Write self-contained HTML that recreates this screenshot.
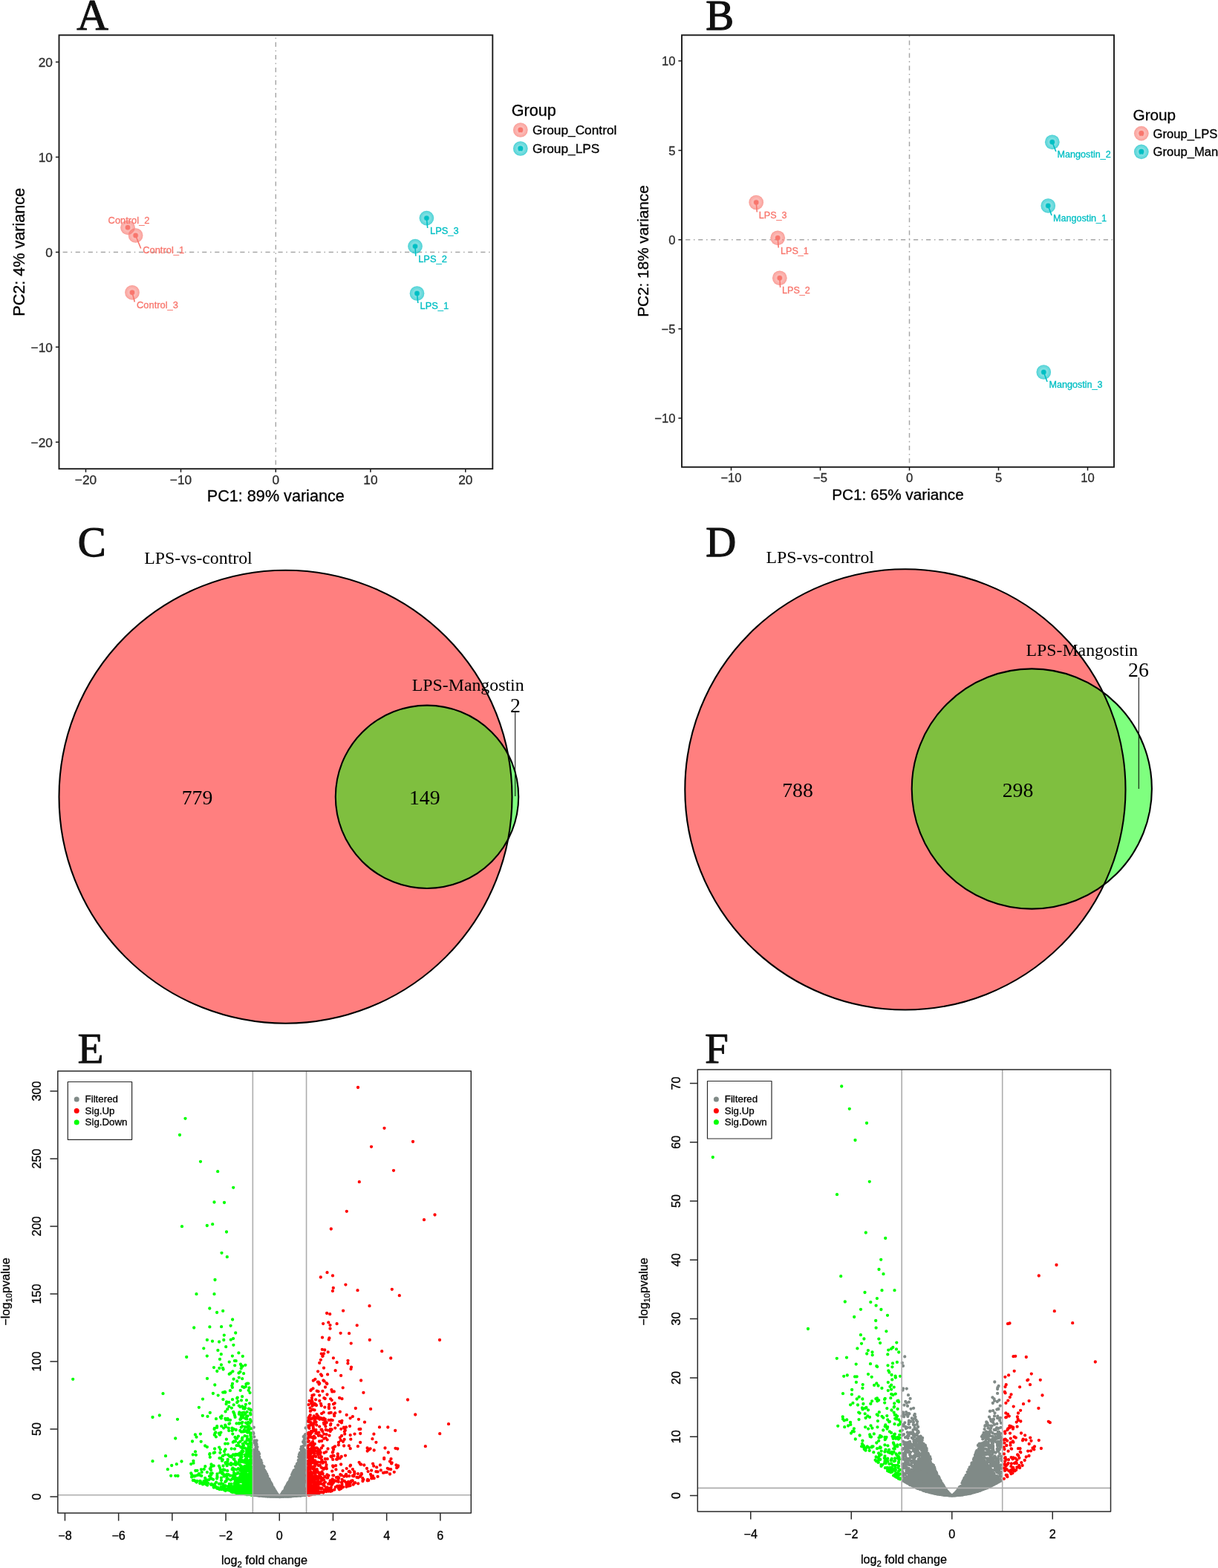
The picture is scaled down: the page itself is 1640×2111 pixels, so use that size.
<!DOCTYPE html>
<html lang="en">
<head>
<meta charset="utf-8">
<title>Figure: PCA, Venn diagrams and volcano plots</title>
<style>
html,body{margin:0;padding:0;background:#fff;}
body{width:1640px;height:2111px;overflow:hidden;}
svg{display:block;}
text{white-space:pre;}

</style>
</head>
<body>
<svg width="1640" height="2111" viewBox="0 0 1640 2111">
<rect width="1640" height="2111" fill="#fff"/>
<text x="103.35" y="39.6" font-family="'Liberation Serif', serif" font-size="59.15" fill="#111" stroke="#111" stroke-width="1.0" stroke-linejoin="round">A</text>
<g>
<path d="M371.3 631.9V47.3M78.4 339.4H663.3" stroke="#a6a6a6" stroke-width="1.45" stroke-dasharray="1.55 4.65 6.2 4.65" fill="none"/>
<circle cx="172" cy="306.3" r="9.85" fill="#F8766D" fill-opacity="0.58"/>
<circle cx="172" cy="306.3" r="9.1" fill="none" stroke="#F8766D" stroke-opacity="0.22" stroke-width="1.4"/>
<circle cx="172" cy="306.3" r="5.2" fill="none" stroke="#fff" stroke-opacity="0.16" stroke-width="1.8"/>
<circle cx="182.6" cy="317" r="9.85" fill="#F8766D" fill-opacity="0.58"/>
<circle cx="182.6" cy="317" r="9.1" fill="none" stroke="#F8766D" stroke-opacity="0.22" stroke-width="1.4"/>
<circle cx="182.6" cy="317" r="5.2" fill="none" stroke="#fff" stroke-opacity="0.16" stroke-width="1.8"/>
<circle cx="178" cy="393.8" r="9.85" fill="#F8766D" fill-opacity="0.58"/>
<circle cx="178" cy="393.8" r="9.1" fill="none" stroke="#F8766D" stroke-opacity="0.22" stroke-width="1.4"/>
<circle cx="178" cy="393.8" r="5.2" fill="none" stroke="#fff" stroke-opacity="0.16" stroke-width="1.8"/>
<circle cx="574.4" cy="293.6" r="9.85" fill="#00BFC4" fill-opacity="0.58"/>
<circle cx="574.4" cy="293.6" r="9.1" fill="none" stroke="#00BFC4" stroke-opacity="0.22" stroke-width="1.4"/>
<circle cx="574.4" cy="293.6" r="5.2" fill="none" stroke="#fff" stroke-opacity="0.16" stroke-width="1.8"/>
<circle cx="559" cy="331.6" r="9.85" fill="#00BFC4" fill-opacity="0.58"/>
<circle cx="559" cy="331.6" r="9.1" fill="none" stroke="#00BFC4" stroke-opacity="0.22" stroke-width="1.4"/>
<circle cx="559" cy="331.6" r="5.2" fill="none" stroke="#fff" stroke-opacity="0.16" stroke-width="1.8"/>
<circle cx="561.5" cy="395" r="9.85" fill="#00BFC4" fill-opacity="0.58"/>
<circle cx="561.5" cy="395" r="9.1" fill="none" stroke="#00BFC4" stroke-opacity="0.22" stroke-width="1.4"/>
<circle cx="561.5" cy="395" r="5.2" fill="none" stroke="#fff" stroke-opacity="0.16" stroke-width="1.8"/>
<circle cx="172" cy="306.3" r="3.2" fill="#F8766D"/>
<text x="145.6" y="301.2" font-family="'Liberation Sans', sans-serif" font-size="12.9" fill="#F8766D" stroke="#F8766D" stroke-width="0.3">Control_2</text>
<circle cx="182.6" cy="317" r="3.2" fill="#F8766D"/>
<path d="M182.6 317L189.7 334.5" stroke="#F8766D" stroke-width="1.6" fill="none"/>
<text x="192.2" y="341.2" font-family="'Liberation Sans', sans-serif" font-size="12.9" fill="#F8766D" stroke="#F8766D" stroke-width="0.3">Control_1</text>
<circle cx="178" cy="393.8" r="3.2" fill="#F8766D"/>
<path d="M178 393.8L181.3 406.5" stroke="#F8766D" stroke-width="1.6" fill="none"/>
<text x="184" y="415.3" font-family="'Liberation Sans', sans-serif" font-size="12.9" fill="#F8766D" stroke="#F8766D" stroke-width="0.3">Control_3</text>
<circle cx="574.4" cy="293.6" r="3.2" fill="#00BFC4"/>
<path d="M574.4 293.6L575.7 307" stroke="#00BFC4" stroke-width="1.6" fill="none"/>
<text x="579" y="314.8" font-family="'Liberation Sans', sans-serif" font-size="12.9" fill="#00BFC4" stroke="#00BFC4" stroke-width="0.3">LPS_3</text>
<circle cx="559" cy="331.6" r="3.2" fill="#00BFC4"/>
<path d="M559 331.6L559.8 344.8" stroke="#00BFC4" stroke-width="1.6" fill="none"/>
<text x="563.2" y="352.6" font-family="'Liberation Sans', sans-serif" font-size="12.9" fill="#00BFC4" stroke="#00BFC4" stroke-width="0.3">LPS_2</text>
<circle cx="561.5" cy="395" r="3.2" fill="#00BFC4"/>
<path d="M561.5 395L562.8 408" stroke="#00BFC4" stroke-width="1.6" fill="none"/>
<text x="565.5" y="416" font-family="'Liberation Sans', sans-serif" font-size="12.9" fill="#00BFC4" stroke="#00BFC4" stroke-width="0.3">LPS_1</text>
<rect x="79.5" y="47.3" width="583.8" height="583.9" fill="none" stroke="#1a1a1a" stroke-width="1.9"/>
<path d="M115.5 631.2v4.6M243.5 631.2v4.6M371.3 631.2v4.6M498.9 631.2v4.6M626.8 631.2v4.6M79.5 83.5h-4.6M79.5 211.4h-4.6M79.5 339.4h-4.6M79.5 467.3h-4.6M79.5 595.2h-4.6" stroke="#1a1a1a" stroke-width="1.5" fill="none"/>
<text x="115.5" y="651.5" text-anchor="middle" font-family="'Liberation Sans', sans-serif" font-size="17.3" fill="#2b2b2b" stroke="#2b2b2b" stroke-width="0.3">−20</text>
<text x="243.5" y="651.5" text-anchor="middle" font-family="'Liberation Sans', sans-serif" font-size="17.3" fill="#2b2b2b" stroke="#2b2b2b" stroke-width="0.3">−10</text>
<text x="371.3" y="651.5" text-anchor="middle" font-family="'Liberation Sans', sans-serif" font-size="17.3" fill="#2b2b2b" stroke="#2b2b2b" stroke-width="0.3">0</text>
<text x="498.9" y="651.5" text-anchor="middle" font-family="'Liberation Sans', sans-serif" font-size="17.3" fill="#2b2b2b" stroke="#2b2b2b" stroke-width="0.3">10</text>
<text x="626.8" y="651.5" text-anchor="middle" font-family="'Liberation Sans', sans-serif" font-size="17.3" fill="#2b2b2b" stroke="#2b2b2b" stroke-width="0.3">20</text>
<text x="70.9" y="89.9" text-anchor="end" font-family="'Liberation Sans', sans-serif" font-size="17.3" fill="#2b2b2b" stroke="#2b2b2b" stroke-width="0.3">20</text>
<text x="70.9" y="217.8" text-anchor="end" font-family="'Liberation Sans', sans-serif" font-size="17.3" fill="#2b2b2b" stroke="#2b2b2b" stroke-width="0.3">10</text>
<text x="70.9" y="345.8" text-anchor="end" font-family="'Liberation Sans', sans-serif" font-size="17.3" fill="#2b2b2b" stroke="#2b2b2b" stroke-width="0.3">0</text>
<text x="70.9" y="473.7" text-anchor="end" font-family="'Liberation Sans', sans-serif" font-size="17.3" fill="#2b2b2b" stroke="#2b2b2b" stroke-width="0.3">−10</text>
<text x="70.9" y="601.6" text-anchor="end" font-family="'Liberation Sans', sans-serif" font-size="17.3" fill="#2b2b2b" stroke="#2b2b2b" stroke-width="0.3">−20</text>
<text x="371.3" y="675.3" text-anchor="middle" font-family="'Liberation Sans', sans-serif" font-size="21.6" fill="#000" stroke="#000" stroke-width="0.3">PC1: 89% variance</text>
<text transform="translate(33 339.3) rotate(-90)" text-anchor="middle" font-family="'Liberation Sans', sans-serif" font-size="21.6" fill="#000" stroke="#000" stroke-width="0.3">PC2: 4% variance</text>
<text x="688.8" y="155.5" font-family="'Liberation Sans', sans-serif" font-size="21.6" fill="#000" stroke="#000" stroke-width="0.3">Group</text>
<circle cx="700.8" cy="175" r="9.85" fill="#F8766D" fill-opacity="0.58"/>
<circle cx="700.8" cy="175" r="9.1" fill="none" stroke="#F8766D" stroke-opacity="0.22" stroke-width="1.4"/>
<circle cx="700.8" cy="175" r="5.2" fill="none" stroke="#fff" stroke-opacity="0.16" stroke-width="1.8"/>
<circle cx="700.8" cy="174.7" r="3.3" fill="#F8766D"/>
<path d="M698.2 176L698.6 178.6L700.8 177.6L703.2 178.6L703.4 176Z" fill="#F8766D"/>
<text x="717" y="180.9" font-family="'Liberation Sans', sans-serif" font-size="17.3" fill="#000" stroke="#000" stroke-width="0.3">Group_Control</text>
<circle cx="700.8" cy="200" r="9.85" fill="#00BFC4" fill-opacity="0.58"/>
<circle cx="700.8" cy="200" r="9.1" fill="none" stroke="#00BFC4" stroke-opacity="0.22" stroke-width="1.4"/>
<circle cx="700.8" cy="200" r="5.2" fill="none" stroke="#fff" stroke-opacity="0.16" stroke-width="1.8"/>
<circle cx="700.8" cy="199.7" r="3.3" fill="#00BFC4"/>
<path d="M698.2 201L698.6 203.6L700.8 202.6L703.2 203.6L703.4 201Z" fill="#00BFC4"/>
<text x="717" y="205.9" font-family="'Liberation Sans', sans-serif" font-size="17.3" fill="#000" stroke="#000" stroke-width="0.3">Group_LPS</text>
</g>
<text x="950.27" y="39.8" font-family="'Liberation Serif', serif" font-size="56.77" fill="#111" stroke="#111" stroke-width="1.25" stroke-linejoin="round">B</text>
<g>
<path d="M1224.5 629.5V47.3M916.9 322.8H1500" stroke="#a6a6a6" stroke-width="1.45" stroke-dasharray="1.55 4.65 6.2 4.65" fill="none"/>
<circle cx="1018.2" cy="272.5" r="9.85" fill="#F8766D" fill-opacity="0.58"/>
<circle cx="1018.2" cy="272.5" r="9.1" fill="none" stroke="#F8766D" stroke-opacity="0.22" stroke-width="1.4"/>
<circle cx="1018.2" cy="272.5" r="5.2" fill="none" stroke="#fff" stroke-opacity="0.16" stroke-width="1.8"/>
<circle cx="1047.2" cy="320.3" r="9.85" fill="#F8766D" fill-opacity="0.58"/>
<circle cx="1047.2" cy="320.3" r="9.1" fill="none" stroke="#F8766D" stroke-opacity="0.22" stroke-width="1.4"/>
<circle cx="1047.2" cy="320.3" r="5.2" fill="none" stroke="#fff" stroke-opacity="0.16" stroke-width="1.8"/>
<circle cx="1049.8" cy="374.3" r="9.85" fill="#F8766D" fill-opacity="0.58"/>
<circle cx="1049.8" cy="374.3" r="9.1" fill="none" stroke="#F8766D" stroke-opacity="0.22" stroke-width="1.4"/>
<circle cx="1049.8" cy="374.3" r="5.2" fill="none" stroke="#fff" stroke-opacity="0.16" stroke-width="1.8"/>
<circle cx="1416.8" cy="191.3" r="9.85" fill="#00BFC4" fill-opacity="0.58"/>
<circle cx="1416.8" cy="191.3" r="9.1" fill="none" stroke="#00BFC4" stroke-opacity="0.22" stroke-width="1.4"/>
<circle cx="1416.8" cy="191.3" r="5.2" fill="none" stroke="#fff" stroke-opacity="0.16" stroke-width="1.8"/>
<circle cx="1411.3" cy="277" r="9.85" fill="#00BFC4" fill-opacity="0.58"/>
<circle cx="1411.3" cy="277" r="9.1" fill="none" stroke="#00BFC4" stroke-opacity="0.22" stroke-width="1.4"/>
<circle cx="1411.3" cy="277" r="5.2" fill="none" stroke="#fff" stroke-opacity="0.16" stroke-width="1.8"/>
<circle cx="1405.3" cy="501" r="9.85" fill="#00BFC4" fill-opacity="0.58"/>
<circle cx="1405.3" cy="501" r="9.1" fill="none" stroke="#00BFC4" stroke-opacity="0.22" stroke-width="1.4"/>
<circle cx="1405.3" cy="501" r="5.2" fill="none" stroke="#fff" stroke-opacity="0.16" stroke-width="1.8"/>
<circle cx="1018.2" cy="272.5" r="3.2" fill="#F8766D"/>
<path d="M1018.2 272.5L1019.3 285.5" stroke="#F8766D" stroke-width="1.6" fill="none"/>
<text x="1021.8" y="293.5" font-family="'Liberation Sans', sans-serif" font-size="12.6" fill="#F8766D" stroke="#F8766D" stroke-width="0.3">LPS_3</text>
<circle cx="1047.2" cy="320.3" r="3.2" fill="#F8766D"/>
<path d="M1047.2 320.3L1048.2 333.5" stroke="#F8766D" stroke-width="1.6" fill="none"/>
<text x="1051" y="341.5" font-family="'Liberation Sans', sans-serif" font-size="12.6" fill="#F8766D" stroke="#F8766D" stroke-width="0.3">LPS_1</text>
<circle cx="1049.8" cy="374.3" r="3.2" fill="#F8766D"/>
<path d="M1049.8 374.3L1050.6 387" stroke="#F8766D" stroke-width="1.6" fill="none"/>
<text x="1053" y="395" font-family="'Liberation Sans', sans-serif" font-size="12.6" fill="#F8766D" stroke="#F8766D" stroke-width="0.3">LPS_2</text>
<circle cx="1416.8" cy="191.3" r="3.2" fill="#00BFC4"/>
<path d="M1416.8 191.3L1421.8 204" stroke="#00BFC4" stroke-width="1.6" fill="none"/>
<text x="1423.6" y="212" font-family="'Liberation Sans', sans-serif" font-size="12.6" fill="#00BFC4" stroke="#00BFC4" stroke-width="0.3">Mangostin_2</text>
<circle cx="1411.3" cy="277" r="3.2" fill="#00BFC4"/>
<path d="M1411.3 277L1416 290" stroke="#00BFC4" stroke-width="1.6" fill="none"/>
<text x="1418" y="297.5" font-family="'Liberation Sans', sans-serif" font-size="12.6" fill="#00BFC4" stroke="#00BFC4" stroke-width="0.3">Mangostin_1</text>
<circle cx="1405.3" cy="501" r="3.2" fill="#00BFC4"/>
<path d="M1405.3 501L1410 514" stroke="#00BFC4" stroke-width="1.6" fill="none"/>
<text x="1412.5" y="522" font-family="'Liberation Sans', sans-serif" font-size="12.6" fill="#00BFC4" stroke="#00BFC4" stroke-width="0.3">Mangostin_3</text>
<rect x="918" y="47.3" width="582" height="581.5" fill="none" stroke="#1a1a1a" stroke-width="1.9"/>
<path d="M984.5 628.8v4.6M1104.5 628.8v4.6M1224.5 628.8v4.6M1344.5 628.8v4.6M1464.5 628.8v4.6M918 82h-4.6M918 202.5h-4.6M918 322.8h-4.6M918 442.8h-4.6M918 563h-4.6" stroke="#1a1a1a" stroke-width="1.5" fill="none"/>
<text x="984.5" y="649.1" text-anchor="middle" font-family="'Liberation Sans', sans-serif" font-size="16.61" fill="#2b2b2b" stroke="#2b2b2b" stroke-width="0.3">−10</text>
<text x="1104.5" y="649.1" text-anchor="middle" font-family="'Liberation Sans', sans-serif" font-size="16.61" fill="#2b2b2b" stroke="#2b2b2b" stroke-width="0.3">−5</text>
<text x="1224.5" y="649.1" text-anchor="middle" font-family="'Liberation Sans', sans-serif" font-size="16.61" fill="#2b2b2b" stroke="#2b2b2b" stroke-width="0.3">0</text>
<text x="1344.5" y="649.1" text-anchor="middle" font-family="'Liberation Sans', sans-serif" font-size="16.61" fill="#2b2b2b" stroke="#2b2b2b" stroke-width="0.3">5</text>
<text x="1464.5" y="649.1" text-anchor="middle" font-family="'Liberation Sans', sans-serif" font-size="16.61" fill="#2b2b2b" stroke="#2b2b2b" stroke-width="0.3">10</text>
<text x="909.4" y="88.4" text-anchor="end" font-family="'Liberation Sans', sans-serif" font-size="16.61" fill="#2b2b2b" stroke="#2b2b2b" stroke-width="0.3">10</text>
<text x="909.4" y="208.9" text-anchor="end" font-family="'Liberation Sans', sans-serif" font-size="16.61" fill="#2b2b2b" stroke="#2b2b2b" stroke-width="0.3">5</text>
<text x="909.4" y="329.2" text-anchor="end" font-family="'Liberation Sans', sans-serif" font-size="16.61" fill="#2b2b2b" stroke="#2b2b2b" stroke-width="0.3">0</text>
<text x="909.4" y="449.2" text-anchor="end" font-family="'Liberation Sans', sans-serif" font-size="16.61" fill="#2b2b2b" stroke="#2b2b2b" stroke-width="0.3">−5</text>
<text x="909.4" y="569.4" text-anchor="end" font-family="'Liberation Sans', sans-serif" font-size="16.61" fill="#2b2b2b" stroke="#2b2b2b" stroke-width="0.3">−10</text>
<text x="1209" y="673" text-anchor="middle" font-family="'Liberation Sans', sans-serif" font-size="20.74" fill="#000" stroke="#000" stroke-width="0.3">PC1: 65% variance</text>
<text transform="translate(872.8 338) rotate(-90)" text-anchor="middle" font-family="'Liberation Sans', sans-serif" font-size="20.74" fill="#000" stroke="#000" stroke-width="0.3">PC2: 18% variance</text>
<text x="1525.5" y="162" font-family="'Liberation Sans', sans-serif" font-size="20.74" fill="#000" stroke="#000" stroke-width="0.3">Group</text>
<circle cx="1536.8" cy="179.6" r="9.85" fill="#F8766D" fill-opacity="0.58"/>
<circle cx="1536.8" cy="179.6" r="9.1" fill="none" stroke="#F8766D" stroke-opacity="0.22" stroke-width="1.4"/>
<circle cx="1536.8" cy="179.6" r="5.2" fill="none" stroke="#fff" stroke-opacity="0.16" stroke-width="1.8"/>
<circle cx="1536.8" cy="179.3" r="3.3" fill="#F8766D"/>
<path d="M1534.2 180.6L1534.6 183.2L1536.8 182.2L1539.2 183.2L1539.4 180.6Z" fill="#F8766D"/>
<text x="1552.5" y="185.5" font-family="'Liberation Sans', sans-serif" font-size="16.61" fill="#000" stroke="#000" stroke-width="0.3">Group_LPS</text>
<circle cx="1536.8" cy="204.35" r="9.85" fill="#00BFC4" fill-opacity="0.58"/>
<circle cx="1536.8" cy="204.35" r="9.1" fill="none" stroke="#00BFC4" stroke-opacity="0.22" stroke-width="1.4"/>
<circle cx="1536.8" cy="204.35" r="5.2" fill="none" stroke="#fff" stroke-opacity="0.16" stroke-width="1.8"/>
<circle cx="1536.8" cy="204.05" r="3.3" fill="#00BFC4"/>
<path d="M1534.2 205.35L1534.6 207.95L1536.8 206.95L1539.2 207.95L1539.4 205.35Z" fill="#00BFC4"/>
<text x="1552.5" y="210.25" font-family="'Liberation Sans', sans-serif" font-size="16.61" fill="#000" stroke="#000" stroke-width="0.3">Group_Mangostin</text>
</g>
<text x="104.78" y="748.5" font-family="'Liberation Serif', serif" font-size="56.77" fill="#111" stroke="#111" stroke-width="1.25" stroke-linejoin="round">C</text>
<g>
<circle cx="384.5" cy="1072.7" r="305" fill="#ff0000" fill-opacity="0.5" stroke="none"/>
<circle cx="575" cy="1072.8" r="123.2" fill="#00ff00" fill-opacity="0.5" stroke="none"/>
<circle cx="384.5" cy="1072.7" r="305" fill="none" stroke="#000" stroke-width="2.1"/>
<circle cx="575" cy="1072.8" r="123.2" fill="none" stroke="#000" stroke-width="2.1"/>
<path d="M693.7 959V1072" stroke="#000" stroke-width="1" fill="none"/>
<text x="194.3" y="758.8" text-anchor="start" font-family="'Liberation Serif', serif" font-size="23.8" fill="#000">LPS-vs-control</text>
<text x="554.8" y="930" text-anchor="start" font-family="'Liberation Serif', serif" font-size="23.8" fill="#000">LPS-Mangostin</text>
<text x="694" y="958.6" text-anchor="middle" font-family="'Liberation Serif', serif" font-size="27.8" fill="#000">2</text>
<text x="571.8" y="1083" text-anchor="middle" font-family="'Liberation Serif', serif" font-size="27.8" fill="#000">149</text>
<text x="265.5" y="1083.3" text-anchor="middle" font-family="'Liberation Serif', serif" font-size="27.8" fill="#000">779</text>
</g>
<text x="950.27" y="748.5" font-family="'Liberation Serif', serif" font-size="56.77" fill="#111" stroke="#111" stroke-width="1.25" stroke-linejoin="round">D</text>
<g>
<circle cx="1218.9" cy="1062.9" r="296.6" fill="#ff0000" fill-opacity="0.5" stroke="none"/>
<circle cx="1389.3" cy="1062" r="161.6" fill="#00ff00" fill-opacity="0.5" stroke="none"/>
<circle cx="1218.9" cy="1062.9" r="296.6" fill="none" stroke="#000" stroke-width="2.1"/>
<circle cx="1389.3" cy="1062" r="161.6" fill="none" stroke="#000" stroke-width="2.1"/>
<path d="M1533.3 912V1062" stroke="#000" stroke-width="1" fill="none"/>
<text x="1031.5" y="757.5" text-anchor="start" font-family="'Liberation Serif', serif" font-size="23.8" fill="#000">LPS-vs-control</text>
<text x="1381.5" y="882.8" text-anchor="start" font-family="'Liberation Serif', serif" font-size="23.8" fill="#000">LPS-Mangostin</text>
<text x="1533" y="911" text-anchor="middle" font-family="'Liberation Serif', serif" font-size="27.8" fill="#000">26</text>
<text x="1370.5" y="1073" text-anchor="middle" font-family="'Liberation Serif', serif" font-size="27.8" fill="#000">298</text>
<text x="1074" y="1073" text-anchor="middle" font-family="'Liberation Serif', serif" font-size="27.8" fill="#000">788</text>
</g>
<text x="104.4" y="1430.6" font-family="'Liberation Serif', serif" font-size="57.3" fill="#111" stroke="#111" stroke-width="0.9" stroke-linejoin="round">E</text>
<g>
<path d="M340.7 1963.7L341.3 1962.8L341.9 1962.1L342.5 1961.3L343.1 1960.6L343.7 1959.9L344.2 1959.2L344.8 1958.5L345.4 1957.9L346 1958.7L346.6 1960.7L347.2 1962.6L347.8 1964.4L348.4 1966.2L349 1967.8L349.6 1969.5L350.2 1971L350.8 1972.5L351.4 1973.9L352 1975.3L352.5 1976.7L353.1 1978L353.7 1979.3L354.3 1980.6L354.9 1981.8L355.5 1983L356.1 1984.2L356.7 1985.4L357.3 1986.5L357.9 1987.7L358.5 1988.8L359.1 1989.9L359.7 1991L360.2 1992.1L360.8 1993.1L361.4 1994.2L362 1995.2L362.6 1996.3L363.2 1997.3L363.8 1998.3L364.4 1999.3L365 2000.3L365.6 2001.3L366.2 2002.3L366.8 2003.3L367.4 2004.2L368 2005.2L368.5 2006.1L369.1 2007L369.7 2007.9L370.3 2008.8L370.9 2009.7L371.5 2010.5L372.1 2011.4L372.7 2012.2L373.3 2013L373.9 2013.8L374.5 2014.5L375.1 2015.2L375.7 2015.8L376.2 2016.3L376.8 2015.8L377.4 2015.2L378 2014.5L378.6 2013.8L379.2 2013L379.8 2012.2L380.4 2011.4L381 2010.5L381.6 2009.7L382.2 2008.8L382.8 2007.9L383.4 2007L384 2006.1L384.5 2005.2L385.1 2004.2L385.7 2003.3L386.3 2002.3L386.9 2001.3L387.5 2000.3L388.1 1999.3L388.7 1998.3L389.3 1997.3L389.9 1996.3L390.5 1995.2L391.1 1994.2L391.7 1993.1L392.3 1992.1L392.8 1991L393.4 1989.9L394 1988.8L394.6 1987.7L395.2 1986.5L395.8 1985.4L396.4 1984.2L397 1983L397.6 1981.8L398.2 1980.6L398.8 1979.3L399.4 1978L400 1976.7L400.5 1975.3L401.1 1973.9L401.7 1972.5L402.3 1971L402.9 1969.5L403.5 1967.8L404.1 1966.2L404.7 1964.4L405.3 1962.6L405.9 1960.7L406.5 1958.7L407.1 1957.9L407.7 1958.5L408.3 1959.2L408.8 1959.9L409.4 1960.6L410 1961.3L410.6 1962.1L411.2 1962.8L411.8 1963.7L411.8 2014.8L411.2 2014.8L410.6 2014.9L410 2015L409.4 2015L408.8 2015.1L408.3 2015.1L407.7 2015.2L407.1 2015.3L406.5 2015.3L405.9 2015.4L405.3 2015.4L404.7 2015.5L404.1 2015.5L403.5 2015.6L402.9 2015.6L402.3 2015.7L401.7 2015.7L401.1 2015.8L400.5 2015.8L400 2015.9L399.4 2015.9L398.8 2015.9L398.2 2016L397.6 2016L397 2016.1L396.4 2016.1L395.8 2016.1L395.2 2016.2L394.6 2016.2L394 2016.2L393.4 2016.3L392.8 2016.3L392.3 2016.3L391.7 2016.4L391.1 2016.4L390.5 2016.4L389.9 2016.4L389.3 2016.5L388.7 2016.5L388.1 2016.5L387.5 2016.5L386.9 2016.5L386.3 2016.6L385.7 2016.6L385.1 2016.6L384.5 2016.6L384 2016.6L383.4 2016.6L382.8 2016.7L382.2 2016.7L381.6 2016.7L381 2016.7L380.4 2016.7L379.8 2016.7L379.2 2016.7L378.6 2016.7L378 2016.7L377.4 2016.7L376.8 2016.7L376.2 2016.7L375.7 2016.7L375.1 2016.7L374.5 2016.7L373.9 2016.7L373.3 2016.7L372.7 2016.7L372.1 2016.7L371.5 2016.7L370.9 2016.7L370.3 2016.7L369.7 2016.7L369.1 2016.6L368.5 2016.6L368 2016.6L367.4 2016.6L366.8 2016.6L366.2 2016.6L365.6 2016.5L365 2016.5L364.4 2016.5L363.8 2016.5L363.2 2016.5L362.6 2016.4L362 2016.4L361.4 2016.4L360.8 2016.4L360.2 2016.3L359.7 2016.3L359.1 2016.3L358.5 2016.2L357.9 2016.2L357.3 2016.2L356.7 2016.1L356.1 2016.1L355.5 2016.1L354.9 2016L354.3 2016L353.7 2015.9L353.1 2015.9L352.5 2015.9L352 2015.8L351.4 2015.8L350.8 2015.7L350.2 2015.7L349.6 2015.6L349 2015.6L348.4 2015.5L347.8 2015.5L347.2 2015.4L346.6 2015.4L346 2015.3L345.4 2015.3L344.8 2015.2L344.2 2015.1L343.7 2015.1L343.1 2015L342.5 2015L341.9 2014.9L341.3 2014.8L340.7 2014.8Z" fill="#808a87"/>
<path d="M372.8 2012.9h0M382.6 2013.3h0M385.6 2010.5h0M398.6 1985.4h0M410.4 1952.6h0M341.9 1965.3h0M353.9 1995.3h0M401 1989.5h0M376.2 2015h0M362.9 2013.2h0M369.1 2005.9h0M409.3 1997.2h0M374.1 2012.5h0M345.4 1994h0M364.2 1995.7h0M348.7 2010.5h0M353 1989.6h0M353.9 1987.9h0M370.5 2013.2h0M409.6 1939h0M368.6 2005.2h0M347.4 1997.8h0M363.9 2008.8h0M346.7 1974.9h0M372.9 2010.8h0M381.6 2013.8h0M399.2 2003.4h0M393.5 1985.9h0M383.7 2010.2h0M342.9 1954.9h0M399.6 1988.1h0M352.8 2004.2h0M401.7 1983.6h0M406.4 1996.4h0M344.5 2000.9h0M381.5 2008.5h0M387.6 2002.2h0M350.3 1967.9h0M409.7 2011.6h0M375 2013.6h0M379.6 2011.8h0M393.4 1987.3h0M389.6 1994.5h0M370.3 2010h0M367.8 2007.3h0M345.9 1948.6h0M368.2 2005.9h0M372 2010.6h0M383.6 2009.7h0M390.6 1992.3h0M341.6 1986.1h0M354.8 1987.7h0M404.5 1992.9h0M354.5 1976h0M367.9 2007.5h0M350 1966.2h0M408.7 1992.9h0M372.7 2013.1h0M375.8 2014.9h0M410.4 2010.3h0M343.1 1958.2h0M362.5 2011.6h0M342.6 1942.6h0M350.3 1990.1h0M387.4 2000.4h0M389.6 2010.8h0M374.2 2013.3h0M359.8 1999.7h0M394.7 2001.3h0M405.6 1963.9h0M372.9 2012.3h0M367.4 2003.9h0M373.6 2012.9h0M392.3 1994.9h0M405.1 1950.8h0M378.9 2012h0M365.3 2013.4h0M379.9 2014.8h0M344.8 1953.2h0M364.3 2011.9h0M392.4 1991.3h0M408.4 2005.9h0M378.2 2014.3h0M386.3 2005.9h0M367.7 2003.8h0M355.2 1993.4h0M354.7 1991.7h0M383.8 2009h0M398 1991.7h0M390 2005.1h0M406.8 1995.3h0M349.3 1961.7h0M363.1 2010.6h0M407 2011.9h0M356.6 1989.6h0M365.8 2002.8h0M377 2014.8h0M378.4 2013.9h0M351.7 2004.4h0M386.2 2005.2h0M356.9 1989h0M405.3 1957.2h0M411.6 1922.5h0M357.4 2011.2h0M370.6 2008.6h0M369.2 2012.9h0M406 1952.8h0M376.7 2014.8h0M345.2 2005.7h0M380 2014.3h0M354.9 1981.7h0M407.1 1948.9h0M395.4 2003.4h0M377.4 2015h0M401.1 2005.3h0M393.5 2009.6h0M391 2004.5h0M376.6 2014.7h0M358.8 1990.3h0M369.4 2006h0M390.3 2005.2h0M345.2 1987.6h0M341.6 1952.1h0M408.4 1961h0M387.8 2007.5h0M386.5 2003.5h0M410.3 1941.7h0M369.1 2014.4h0M367.3 2002.4h0M376.8 2014.5h0M411.4 2005.1h0M395 2012.9h0M351.7 1990.5h0M344.4 1945.7h0M378.2 2014.3h0M380.6 2013.3h0M361.5 2013.6h0M394.6 2002h0M394.2 1983h0M405.5 1986h0M374 2012.3h0M383.7 2009.8h0M343.9 1971.8h0M372.1 2013.5h0M370.4 2008.5h0M411.5 1987.1h0M404.6 1967.4h0M366.1 2005.8h0M385.9 2003.5h0M358.1 1985.2h0M344.5 1994h0M385.2 2013.9h0M389 2003.2h0M367.1 2010h0M400.7 2010.6h0M398.6 2005.1h0M358.8 1989.4h0M387.3 2005.1h0M406.6 1985.8h0M347.2 2008.6h0M375.2 2014.2h0M396.1 1990.6h0M362.1 1997.6h0M360.6 1995.2h0M348.6 1973.1h0M406.5 1981.4h0M362.2 2007.2h0M407.6 1987.4h0M366.4 2008.7h0M354.2 1991.2h0M380.8 2013.9h0M403.8 1985.6h0M381.1 2008.5h0M398.2 1981.4h0M346 1964.8h0M346.3 1965.3h0M357.9 2007.3h0M377.8 2014.4h0M388.7 2004.7h0M392.2 2003.4h0M388.3 1997.8h0M400.4 1982.7h0M391.4 1993.6h0M370.5 2006.9h0M352.3 2004.4h0M361.2 2006.8h0M386.9 2001.7h0M344.7 1943.7h0M348 2003h0M357.1 2006.9h0M360.4 2009.9h0M362.7 2003.7h0M404.2 1960.7h0M379.7 2014h0M408.6 1953.4h0M378.2 2012.7h0M357.3 2014.1h0M367 2006.2h0M351.5 1997.9h0M402.9 1958.1h0M378.7 2014.5h0M340.9 1928.7h0M359.6 1993.5h0M374.8 2014.1h0M362.1 1996h0M406.3 1998.9h0M378.1 2014.7h0M362.6 2007.8h0M391.8 2005.1h0M347.8 1954.8h0M387.4 2014.6h0M391.4 2003h0M411.1 1931.1h0M384.6 2008h0M364.5 2007.3h0M358.7 2004.4h0M380.8 2010.5h0M399.9 2009.9h0M391.3 2010.1h0M400.6 2003.6h0M349.1 1991.8h0M406.6 1968.5h0M399.4 1997.3h0M369.9 2008.5h0M397.2 1989.5h0M342.1 1954.6h0M367.4 2008h0M399.7 1980.1h0M379.7 2013.4h0M350.4 1987.4h0M400.5 2004h0M385.4 2011.4h0M390.5 2006.9h0M366.2 1999.5h0M405.4 1980.7h0M380.6 2009.1h0M383.6 2013.6h0M361 1999.8h0M353.5 1991h0M362.4 1998.7h0M367.7 2014.7h0M373.9 2014.6h0M381.3 2013.1h0M364.1 2002.1h0M388.6 2002.5h0M369.9 2009.1h0M394.9 1982.1h0M401.9 1992.7h0M381 2011.5h0M405.4 1993.5h0M392.5 1997.6h0M362.2 2000.6h0M349.1 1991.3h0M390.3 2002.3h0M362.3 2013.1h0M409.3 1957.9h0M370.6 2009h0M405.4 2007.5h0M349.1 2013.8h0M361.8 2006.8h0M404.8 1992.6h0M343.5 2010.8h0M362.4 1991.5h0M355.1 2003h0M404.9 1992.2h0M352.6 1972.3h0M354.7 1979.5h0M347.8 1970.6h0M405.2 2005.2h0M407.9 1979.6h0M356.3 2007.3h0M357.1 1991.2h0M367 2006.5h0M361.9 1991.9h0M360.1 1987.5h0M378.3 2013.7h0M383.4 2006.4h0M360.7 1994.6h0M360.3 1990.1h0M343.2 1975.7h0M367.9 2012.6h0M386.7 2008.9h0M396.7 1982.3h0M377.7 2013.4h0M396.4 2005.7h0M396 1986h0M357.2 1994.6h0M342.7 1965.7h0M381.5 2013.8h0M376 2014.9h0M359.1 1987.8h0M379.4 2011.8h0M350.7 1998.5h0M378.1 2014.4h0M346.5 1997.5h0M390 1995.7h0M344.6 1997.3h0M343.2 1974.1h0M410.7 1942.9h0M357.5 1984.6h0M368.5 2014h0M356.7 2006.1h0M407.5 1986.3h0M410.4 1977.7h0M344.4 1988.7h0M402.6 1988.1h0M401 1995.2h0M355.7 1993.9h0M354.9 2005.9h0M362.4 1998.5h0M354.9 1999h0M390.1 2014.3h0M359.1 2002.8h0M391.8 2010.6h0M366.1 2002.6h0M405.6 1988.8h0M403.9 1995.8h0M377.6 2014.6h0M351 1985h0M362.7 2011.6h0M359 1992.6h0M350.8 1978.9h0M368.1 2004.1h0M361.2 2013.6h0M385.7 2006.6h0M409.9 1933.1h0M389.9 1999.4h0M402.8 2009.2h0M368.5 2014.2h0M363.8 2011.5h0M374.5 2014.7h0M357.5 2000.3h0M382.2 2009h0M390.7 2005.8h0M369.3 2014.4h0M382.5 2012.7h0M365.2 1999.1h0M359.1 2000.6h0M409.1 1984.7h0M408.2 1968.5h0M370.2 2012.5h0M403.7 2011.6h0M376.8 2014.9h0M410 1993.2h0M357.1 2014.4h0M368.6 2007.5h0M385.2 2007.1h0M409.5 1938.5h0M391.8 1996h0M409.7 1963h0M380.9 2012.6h0M394.2 2006.6h0M353 1991.9h0M344.7 1962.9h0M372.8 2011.5h0M351.9 2011.5h0M376.8 2014.6h0M391.8 2006h0M395 1985.7h0M381.1 2010.8h0M398 2009.2h0M388.5 2014.5h0M408.1 1941.2h0M389.8 2005.7h0M410.9 2008.4h0M348.7 1971.9h0M348.8 1995.7h0M379.3 2013.8h0M400.7 2001h0M384.8 2009.9h0M379.6 2011.6h0M352.8 2002.4h0M348.8 1994.7h0M381 2013.2h0M375 2014.5h0M343.8 1987h0M353.3 1993.1h0M354.7 1997.7h0M368.7 2014.3h0M387.6 1997.7h0M411.3 1969.8h0M392.5 2009.9h0M345.5 1989.5h0M362.5 2009.9h0M341.6 1965.7h0M397.4 1983.7h0M395.6 1979.9h0M408.8 1992.9h0M342.5 1960.6h0M368.2 2005h0M386.2 2009.3h0M405.5 1993.2h0M355.4 1986.2h0M389.3 2011.7h0M371.3 2014.9h0M369.3 2005.2h0M403.7 1995.2h0M348 1955.1h0M369.6 2008.1h0M359.9 2005.4h0M365.9 1998.5h0M386 2011.6h0M404.2 1962.7h0M376.6 2014.7h0M372.9 2012.1h0M367.9 2007.7h0M343.1 1956.7h0M383 2013.4h0M411.2 1936.8h0M393.3 1988.5h0M411 1968.5h0M400.8 1973.1h0M377.1 2014.2h0M403 1971.3h0M378.9 2012.2h0M360.3 1999.6h0M375.6 2014.8h0M401.9 1969.1h0M351.1 1995.4h0M342.8 1941.1h0M353.3 1996.6h0M384.7 2002.2h0M385.6 2002.2h0M354.4 2013.6h0M362.9 2000.8h0M383.7 2013.5h0M373.8 2014.6h0M408.1 1998.7h0M390.1 1997.7h0M362.6 2000.4h0M399.4 1996.5h0M376.7 2014.7h0M382 2012.6h0M360.8 2002.6h0M368.1 2005.8h0M372.5 2013.6h0M409.1 1990.5h0M388.7 2012.1h0M358.3 2001.1h0M399.4 1990.1h0M404.9 2008.2h0M367.2 2010.1h0M408.7 2011.5h0M374 2014.1h0M383.9 2003.9h0M411.2 1944.9h0M411.5 2006h0M369.1 2004.5h0M366.9 2012.8h0M393.7 1994.7h0M393.7 2006.8h0M392.9 2001.2h0M402.2 1965.4h0M342.5 1965.4h0M397.1 2002.6h0M349.1 2009h0M361.4 1995.2h0M370 2010.9h0M373.3 2011.8h0M401.5 1986.8h0M384.4 2004.2h0M370 2007.6h0M391.6 2010.6h0M401.4 2011.8h0M345.8 1953.8h0M375.5 2014.5h0M408.5 1942h0M361.8 1996.7h0M366.7 2009.5h0M372.7 2014.8h0M344.6 1982.8h0M347.3 1991.3h0M375.1 2014.4h0M369.5 2005.4h0M383 2009h0M361.9 2000.1h0M362.9 1997.9h0M346.9 1998.3h0M397.6 1997.8h0M389.2 2012.9h0M400.2 1976.8h0M386.5 2013.9h0M382 2011.5h0M410.5 1932.7h0M396.6 2000h0M371.7 2014.2h0M393.2 1990.1h0M379.7 2014.5h0M362.5 1993.5h0M370.1 2010.2h0M349.1 2012.1h0M367.4 2005.7h0M375.8 2014.7h0M393.7 2009.4h0M354.7 2000.5h0M377.7 2014.4h0M401 1990.7h0M363.8 2000.6h0M359 2006.9h0M399.7 1996.8h0M371.4 2008.4h0M373.1 2013h0M394.5 1987h0M390.6 2001h0M364.2 1999.7h0M347.2 1960.7h0M354.5 2009.3h0M382.2 2007.3h0M389.9 1998.1h0M402.1 1974.4h0M358.1 2006.3h0M358.4 2010.4h0M359.8 2000.3h0M351.7 1972.8h0M384.1 2008.5h0M406.5 1962.2h0M344.1 1952.4h0M372.8 2013.3h0M408.3 1985.8h0M408.7 2005.2h0M387.6 2012.9h0M348.8 1957h0M403.1 2010h0M381.4 2008h0M401.9 2010.1h0M353.5 1991.1h0M376.2 2015h0M345.8 1978.6h0M409.7 1987.3h0M390.8 1991.7h0M408.7 1934.2h0M375.5 2014.6h0M384.4 2013.8h0M409.4 2010.5h0M402.9 2012.2h0M389.9 2003.1h0M394.8 2012.3h0M409.9 1943.3h0M364.4 2000.1h0M382.4 2010.3h0M388.9 1996.5h0M351 2001.7h0M396.7 1990.1h0M377.9 2014.5h0M353.5 2000.4h0M388.8 1998.4h0M345.8 1999.4h0M411 1977.2h0M405.9 2004.7h0M396.6 2002h0M367.5 2005h0M399.2 2013.6h0M367.6 2013h0M403.6 1959.3h0M364.8 2001.7h0M354.1 2008.7h0M403.9 1988.3h0M348.8 1996.9h0M345.3 2010.1h0M353.4 2008.8h0M379.2 2013.1h0M346 1998.6h0M362.5 2003.2h0M364 2003.2h0M397.4 1990.5h0M373.7 2014.4h0M410.1 1973.9h0M351.9 2006.1h0M355.4 1983.8h0M387.3 2006.7h0M341.9 1990h0M366.8 2008h0M363 2001.9h0M379.1 2013.3h0M406.1 1959.2h0M351.9 1988.3h0M361 2008.5h0M351.5 1966.8h0M347.1 1979.4h0M406.8 1978h0M340.9 1954.5h0M373.5 2014.7h0M374.9 2014.6h0M346.3 1955.7h0M400 1973.8h0M370.9 2010.8h0M375.5 2014.4h0M364.9 2011.2h0M400.4 1970.9h0M397.7 1984.1h0M398 2001.9h0M406.5 2011.9h0M364.9 1998.3h0M386.7 2013.8h0M348 1993.9h0M390.3 1997h0M385.1 2014.1h0M395.6 1986.7h0M381.2 2011.6h0M365.7 2014.4h0M397.6 1984.2h0M377.4 2014.6h0M353.7 1973.8h0M407.1 1947.4h0M408.9 1946.6h0M360.3 2000h0M342.7 1973.1h0M358.2 2008.1h0M357.6 2012.8h0M378.2 2012.8h0M370.1 2010.7h0M349 1989.9h0M395.2 1982.1h0M358.3 1997.4h0M378.3 2014.9h0M380 2013.7h0M392.6 1996.2h0M373.1 2013.3h0M374.4 2014.9h0M359.6 1994.6h0M349.4 1972.1h0M387.1 2003.1h0M343.5 2009.2h0M342 2006.5h0M374 2012.7h0M382.6 2012h0M348.8 1966h0M369.8 2011.2h0M358.7 2000.8h0M371.7 2012.1h0M385.2 2004.2h0M374.3 2013h0M367.3 2004h0M388.6 1999.6h0M392.4 1995.7h0M387.3 2010.8h0M379.1 2012.5h0M370.2 2008.3h0M384.4 2002.6h0M406.1 2009.6h0M399.4 1988.3h0M395.1 1989.1h0M358.3 1997.4h0M350 1971.6h0M392.6 1998.5h0M375.9 2015h0M404.7 1966.1h0M350.6 1983.1h0M378.4 2012.5h0M394.9 2012h0M390.1 2005.9h0M366 2006.1h0M367.2 2010.5h0M407.6 1995.8h0M348.6 1969.5h0M375.5 2014.5h0M399.3 1983.8h0M364.5 1998.1h0M374.4 2013.2h0M384.1 2003.2h0M356.2 1979.7h0M371.9 2012.5h0M406.2 1990.7h0M355.8 1981.5h0M356.5 1988.9h0M390.4 2013.2h0M379.4 2014.8h0M410.6 1959.3h0M344.7 1964.3h0M359.8 1995.9h0M363.4 2002.9h0M366.1 2010.9h0M359 1996.6h0M348.3 1966.1h0M377.1 2014.4h0M387.8 2001.8h0M370 2010.7h0M378.6 2012.7h0M356.3 2013.2h0M384.9 2011.1h0M402.9 1976.4h0M373 2013.3h0M403.7 1962.3h0M358 1983.5h0M377.3 2014.4h0M345.6 1939.3h0M350.9 2008.3h0M408 1980.6h0M382.9 2010.4h0M388.8 2010.3h0M379.4 2012.4h0M356 1989.9h0M345.4 1949.5h0M347.5 1974.1h0M399 2011.8h0M397.8 2008.5h0M358.9 1989.2h0M386 2014.2h0M367.8 2004.2h0M391.8 1989.1h0M360.3 1989.2h0M344.9 1993.1h0M390.7 1990.8h0M385.5 2007.8h0M375.7 2014.8h0M343.7 1979.3h0M350.9 1984.5h0M353.2 1980h0M357.4 2008.2h0M345.8 2001.1h0M401.1 1984.6h0M395.1 1987.2h0M351.9 2012.3h0M403.5 2011.3h0M383.6 2005h0M348.3 2007.4h0M386.4 2012.2h0M378.8 2013.2h0M368.2 2009.1h0M384.6 2014.8h0M382.6 2011.4h0M408 1960.9h0M391.2 1991.7h0M360.7 1993.9h0M406.9 1999.9h0M401.7 1966.1h0M402.7 1994.8h0M400.7 1982.7h0M350.5 2007.1h0M344.6 1967h0M363.5 2005.4h0M410.8 1988.9h0M390.2 2010h0M364.7 2014.8h0M344.9 1961.5h0M374.9 2013.6h0M363.1 2005.9h0M393.7 2009.8h0M409.3 1996.5h0M351.9 2005.3h0M381.5 2010h0M344.4 1980.2h0M389.5 2002.8h0M367 2014.5h0M342.9 1998.9h0M378.5 2012.7h0M348.8 1975.2h0M404 1962.5h0M409.9 1988.3h0M385.8 2007.8h0M383.6 2009.4h0M344.4 1961.5h0M397.4 2002.9h0M376.7 2014.7h0M368.9 2009.7h0M411.7 2004.7h0M351 2006.8h0M383.6 2011.7h0M404.3 2001h0M404.1 2006h0M394.2 2012.5h0M355.6 2012.4h0M364.4 2012h0M348 1984.6h0M397.2 2006.4h0M383.7 2004.7h0M386.6 2013.6h0M408.6 1957.4h0M397.5 2012.7h0M350.3 1965.2h0M380 2013.4h0M393.8 2001.7h0M392.7 2001.4h0M347.1 1982h0M366.5 2009.2h0M409.9 1952.4h0M384.4 2005.4h0M403.4 1977.1h0M369.8 2011.5h0M365.6 2001.2h0M401.1 1994.6h0M358.3 1989.5h0M362 2005.7h0M350.4 2009.5h0M395 2006.7h0M365.6 2009.9h0M360.2 1994.8h0M386.3 2011.8h0M345.7 1958.7h0M341.9 1981.6h0M370.5 2012.1h0M366.1 2005.6h0M398.5 2010.5h0M347.2 2003.8h0M381.9 2007.8h0M394.9 1988.7h0M351.6 1988.3h0M377.4 2014.3h0M399.7 2009.9h0M343.6 1987.6h0M373.7 2013.3h0M396.4 1984.8h0M379.7 2014.6h0M345.2 1973h0M370 2010.2h0M373.5 2014.6h0M354.4 1992h0M341 1970.7h0M399.8 1971.2h0M394.7 2007.6h0M352 2002.6h0M405.8 1991.1h0M387 2002.6h0M371.7 2012.7h0M389.6 1999h0M381.1 2012.4h0M343.1 2006.7h0M408.2 1990.6h0M362.6 2011.6h0M400.7 2009.1h0M395.4 2006.6h0M397.2 2002.2h0M393.3 2005.6h0M365.8 2010.5h0M406.6 1974h0M407.9 1997.8h0M348.9 1994.8h0M400.7 1972.1h0M377 2015h0M361.3 1999.2h0M345.3 1995.6h0M364.7 2013.9h0M379.6 2013.3h0M361.2 2005.9h0M367.4 2011.2h0M361.6 2013.9h0M342.2 1934.4h0M372.2 2014.4h0M380.3 2012.3h0M394.4 1986.9h0M392.6 1995.9h0M378.7 2012.6h0M343.9 1955.7h0M383.4 2010h0M408.6 2001.1h0M350.6 1977.7h0M403.9 2013.4h0M393.1 2006.4h0M391.4 1995.7h0M407.6 1979.8h0M347.7 1962.2h0M349.1 1976.3h0M364.2 2006.8h0M371.6 2009h0M400 2003.4h0M373.3 2013.7h0M362.7 2014.3h0M355.3 2012.7h0M357.6 1987.6h0M359.2 1984.7h0M374.3 2013.3h0M376.9 2014.6h0M386.3 2012.5h0M355.4 1978.4h0M400.9 1969.9h0M381.1 2009.4h0M343.3 2008.4h0M375.4 2014.6h0M388.2 2001.2h0M386.3 2003.3h0M373.5 2014.3h0M389.3 2014.7h0M357.8 2007.2h0M370.2 2009h0M402.8 1978.8h0M384.5 2014h0M344.1 1961.1h0M388.4 1995.7h0M411 1967h0M384.5 2007.2h0M373.5 2012h0M360 1995.1h0M362.2 2000.7h0M398.1 2000.7h0M354.3 2013.7h0M404.8 1996.7h0M378 2014.9h0M360.7 1992.7h0M390.7 1996.3h0M349.6 1972.4h0M410.9 1961.6h0M383.8 2013.4h0M377 2014.7h0M388.5 2009.5h0M362 1998.8h0M358.4 1996.5h0M347.3 1955.9h0M391.9 1993.6h0M404.2 1968h0M372.4 2014.8h0M407 1967.9h0M392.2 1993.6h0M370 2010.2h0M360.9 1994.4h0M353.9 2014.2h0M394.4 2012.5h0M343.7 1967.4h0M409.1 1996.3h0M342.9 1970.2h0M366.7 2002.6h0M347.6 2012h0M403.3 2000.5h0M400.3 1980.7h0M351.4 1966.1h0M343.9 1985.3h0M345 1953h0M346.1 1990.4h0M371.4 2014.3h0M344.2 1979.2h0M359.1 2002.9h0M341.1 1957.8h0M391.8 2008.6h0M374.9 2014.6h0M346.6 2010.5h0M407.7 1950.5h0M368.3 2006.2h0M355.2 2014.2h0M346.2 1982.4h0M386.5 2012.6h0M383 2006.7h0M362.1 2011.2h0M342.8 1940.7h0M406 1957.6h0M398.3 2012h0M374.3 2012.8h0M371.3 2009.7h0M406.8 1993.2h0M344.7 1975.4h0M381.2 2014.5h0M345.9 1960.4h0M373.2 2013.3h0M397.1 2008.7h0M344.7 2004.8h0M370.8 2010.3h0M380.1 2014.2h0M400.8 1983.1h0M354.6 1996.9h0M408.3 2009.9h0M369.7 2006.1h0M354.9 1983h0M351.3 2013.3h0M357.9 1989.6h0M383.9 2011.6h0M358.8 1987h0M409 1965.4h0M386.9 2014.2h0M357.6 2011.2h0M350.4 1995.9h0M400 1976h0M383.7 2008.4h0M367.5 2007.3h0M386.5 2011.2h0M366.6 2008.3h0M379.6 2012.6h0M380.4 2011.9h0M349.1 1957.4h0M381.6 2011h0M353 2004.3h0M354.8 2006.7h0M377.9 2013.8h0M374.8 2014h0M373.6 2012.6h0M409.9 1958.8h0M395.6 1999.6h0M392.1 2009.6h0M410.4 1942.6h0M346.4 2012.5h0M392 2002.7h0M383.8 2007.8h0M388.3 2001.6h0M371 2007.9h0M352.2 2006.3h0M352.9 1983.3h0M377.5 2013.9h0M410.1 1936.3h0M386.2 2009.3h0M402.9 2007.9h0M374.2 2013.5h0M409.1 1965.9h0M379.7 2012.1h0M360.9 2010.5h0M371.7 2013.3h0M374.3 2013.2h0M357.3 2002.9h0M391.6 2003.3h0M358.6 1987.7h0M369.1 2008.8h0M379.7 2011.6h0M410.8 2011.6h0M399.2 2006.7h0M401.1 2013.1h0M341.7 1966h0M386.9 2000.3h0M405.9 1990.1h0M348.1 1959.2h0M354.6 2002.9h0M346.8 1998.8h0M376.6 2014.8h0M394.4 1982.6h0M411.4 1994.5h0M386.7 2013.1h0M346.2 1996.2h0M372.4 2014.2h0M411.3 1959.3h0M400.7 1976.7h0M396.5 1995.9h0M380.7 2013.3h0M371.4 2012h0M375.7 2014.8h0M387.7 2008.9h0M365.9 2008.4h0M341.3 1998h0M358.5 2002h0M383.3 2010.5h0M379.9 2014.5h0M358.4 1999.4h0M351.4 1981.1h0M356.1 1981.8h0M366.7 2014.7h0M388 2013.5h0M396.4 1986.5h0M376.8 2014.7h0M345.1 1999.5h0M383.2 2009.2h0M369.8 2007.1h0M403.7 1967.1h0M380 2013.7h0M387.9 2004.6h0M371.1 2013.3h0M390.5 2007.2h0M371.1 2010.5h0M395.6 1980.8h0M372.4 2011.7h0M400 1990h0M341.6 1986.5h0M360.3 2014.1h0M345.1 1965.3h0M400.3 2005.2h0M347 1961.4h0M388.3 2012h0M344.4 1958.1h0M407.8 1960.7h0M403.2 1984.1h0M409.1 1958.6h0M408.3 1955.6h0M401.9 1986.7h0M374.1 2013.5h0M358.4 2010.8h0M378.1 2013.1h0M387.7 2009.5h0M365.3 1998.2h0M353 1981.9h0M368 2010.4h0M369 2013.9h0M365.7 1998.6h0M391.1 1993.4h0M407.3 2008.4h0M363.8 2002.1h0M394.6 1998.6h0M385.8 2012.7h0M357.1 1981.6h0M359.8 2005.7h0M365.3 2003.2h0M345.9 1990.4h0M375.9 2015h0M352.9 2000.3h0M360.9 2001h0M351.7 2009.7h0M345.9 1993.3h0M376.7 2014.8h0M342.8 1942.5h0M371.4 2011.3h0M393.1 1996.9h0M352.6 1983.3h0M361.4 2011.8h0M374.7 2014.1h0M368.5 2014.9h0M342.8 1962.9h0M379.1 2012.6h0M371.7 2010.9h0M387.4 2011.1h0M371.1 2013.2h0M352.1 1992.5h0M384.2 2003.4h0M368.7 2006.4h0M374 2013h0M376.8 2014.7h0M387.8 2005.6h0M369.9 2013.3h0M397.5 1990.5h0M387.2 2011.7h0M353.3 2006.9h0M353.6 2007.2h0M386.8 1999h0M373.1 2011.3h0M373.8 2014.1h0M393 1992.3h0M348.6 1969.8h0M386.1 2013.7h0M393.1 2002.6h0M385.6 2011.5h0M400.6 2004.3h0M341.5 1995.5h0M409.2 1954.5h0M359.5 2012.4h0M409.6 2005.6h0M387 2000.5h0M376.4 2014.9h0M397.1 1992.3h0M359.8 2004.5h0M383.6 2008.2h0M380.4 2014h0M371.8 2013.7h0M366.3 2009.9h0M397 1985.1h0M396.9 1996.8h0M399.6 2005.2h0M372.7 2012.2h0M379.3 2014.7h0M377.9 2014.7h0M366.6 2006.1h0M360.1 1993.9h0M383.1 2007.6h0M378.5 2012.9h0M359.4 1995.9h0M352.9 1996.6h0M398.4 1992.1h0M363.3 1996.2h0M396.1 2011.3h0M386.9 2014.4h0M364.6 2013.3h0M397.1 1978.7h0M378.5 2013.6h0M385.9 2006.3h0M350.5 1999h0M343.7 1954.5h0M347.6 1977.6h0M369 2011.1h0M390.4 1995.2h0M370.7 2012.2h0M385 2014.7h0M345.2 2003.5h0M379 2013.9h0M343.9 1945.4h0M352.6 2009.9h0M356.1 1999h0M373.1 2014.3h0M386.4 2012.6h0M383.8 2007.2h0M398.4 1979.5h0M362.5 2000.3h0M357 2006.2h0M344.3 1949h0M350.7 1966.3h0M341.2 1982.5h0M357.7 2013.9h0M374.9 2013.7h0M398 1999.1h0M396.3 2001.5h0M370.4 2014h0M358.3 1995.1h0M392.6 1995.4h0M390 1999.4h0M378.7 2012.2h0M353.9 1984h0M340.9 1993.3h0M368.8 2013.7h0M409.8 2004.9h0M384.4 2008.6h0M403.1 1990h0M388.3 2013.4h0M356.9 1983.8h0M356.5 1987.5h0M404.6 1960h0M409.2 1951.3h0M362.3 1993.3h0M392.5 2006.7h0M352.7 1999.9h0M346.4 1966.8h0M349.1 1991.4h0M398.7 2013.2h0M396.1 1997.1h0M344.6 2007.3h0M408.9 1977.9h0M380.9 2010.8h0M354.5 2010.5h0M362.9 2005.5h0M352.4 1969.4h0M406.5 2005.1h0M366.5 2005.5h0M409.1 2001.9h0M346.3 1967.6h0M341.4 1929.9h0M359.5 1992.3h0M348.6 1979.6h0M378.4 2013.8h0M387.4 1998.4h0M365.4 2008.5h0M354 1996.1h0M371.8 2011.4h0M369.7 2008h0M372.9 2013.5h0M381.8 2014.6h0M359.2 1994.1h0M349.7 2003.3h0M376.9 2014.5h0M342.8 1981.3h0M341.2 1930.2h0M363.2 2011h0M348.3 1999.4h0M391.7 1995.3h0M410.1 1991.5h0M379.5 2013h0M342.9 1996.1h0M397.6 2013.4h0M361.7 1995.4h0M375.4 2014.3h0M401.7 2005.3h0M363.3 2014.7h0M399.2 1993.7h0M359.1 2011.8h0M381.9 2013.9h0M380.3 2009.6h0M394.3 2011.9h0M379.5 2011.3h0M403.9 1956h0M397.2 1999.6h0M399.1 1979.7h0M345.1 1997.1h0M404.7 1966.9h0M364.2 2012.9h0M391.2 2002.9h0M385.7 2008.8h0M376.1 2014.9h0M405.9 1963.2h0M346.7 1984.9h0M347.7 1999h0M378.9 2013.9h0M385.9 2014.1h0M384.3 2008.9h0M369.8 2012.8h0M362.9 2007.4h0M361.5 2001h0M364.9 2001.6h0M385.1 2007.3h0M373.6 2014.9h0M402.6 1981.9h0M347.5 2009.2h0M403.8 1965.3h0M359.5 2003.4h0M408.2 1987.2h0M363.9 2010.1h0M387.5 2014.8h0M347.4 1989.5h0M373.9 2014h0M361.3 1996.2h0M387.5 1997h0M360.3 1987.4h0M390.4 2005.3h0M361.2 2008.9h0M346.5 1948.1h0M388.4 2000h0M377 2015h0M348.9 1994.9h0M355.9 1979.4h0M406.1 2004.9h0M403.6 1977.5h0M407 1957.5h0M393.1 1985.3h0M397 1987.6h0M381.5 2014.8h0M403 1975.5h0M407.6 1965.2h0M401.4 1998.9h0M387.6 2000.3h0M405.8 1987.8h0M393.4 1984.9h0M378.4 2013.6h0M401.8 1969.5h0M343 1997.1h0M394.8 2008.9h0M387.6 1998.2h0M400.3 1970.7h0M390.8 2003.6h0M357 1985.1h0M405.9 2012.3h0M408.7 1988.8h0M370 2010.5h0M342.7 1999.5h0M399.1 1998.2h0M401.3 1973.2h0M393.7 1994.1h0M374.1 2013.9h0M380.2 2012.2h0M389.3 2010.6h0M359.8 1989.3h0M390.6 2005.8h0M376.4 2014.9h0M385.6 2012.3h0M371.1 2013.5h0M358.7 1984.2h0M372.6 2010.9h0M349.3 1993.7h0M369 2004.5h0M352.1 2005.9h0M377.4 2014.5h0M382.9 2014.5h0M358.2 1990.1h0M393.7 1995.7h0M348.3 1992.4h0M359.3 1989h0M409.7 1983.9h0M386.9 2004.8h0M372 2011.8h0M406.7 1997.6h0M379 2012.2h0M377 2014.8h0M372.1 2009.6h0M379.4 2012.6h0M405.6 1957.5h0M366.2 2003h0M390.2 1992.9h0M374.8 2014.4h0M388.3 2009.3h0M352.2 2000.3h0M360.4 1996.8h0M395.1 2001.2h0M387.2 1998.8h0M344.9 1942.5h0M349.5 2004.2h0M378.9 2013.2h0M384.7 2005.9h0M374.1 2013.4h0M346 1997h0M361 2002h0M409.6 1959.4h0M364.9 2012.4h0M372.1 2009.7h0M390.5 2013.1h0M363.6 1997.3h0M357.2 1981.1h0M342.9 1971.9h0M362.2 2003.4h0M353.4 1988.7h0M372.9 2014.1h0M348.7 1990.7h0M402.3 1997.9h0M384.1 2013.3h0M392.9 1989.9h0M348.3 1991h0M375.8 2014.7h0M368.2 2008.9h0M395 2000.2h0M377.4 2013.9h0M357.1 1987.3h0M376.2 2015h0M371.5 2010h0M360.2 2005.7h0M376.6 2014.8h0M359 2014.3h0M342.9 1962h0M367.8 2014.7h0M357.5 1990.2h0M365.7 2011h0M378.6 2012.7h0M405.3 1977.1h0M380.8 2009.1h0M364 1999.4h0M349.9 1976.4h0M344.9 1946.5h0M376.7 2014.8h0M406 1981.9h0M395.7 1996.5h0M361.8 2012.9h0M371 2010.6h0M405.5 1996.1h0M379.6 2012.6h0M408.2 1985.2h0M359.7 2001.8h0M345.7 1969.7h0M405.5 1994.3h0M379.8 2013.6h0M343.2 2008.4h0M389.9 2006.6h0M360 1999.2h0M401.2 1987.1h0M374.8 2013.6h0M369.6 2009.3h0M396.3 1991.9h0M387.7 2014.6h0M399.6 1980.9h0M394.7 1984.3h0M403.5 1969.5h0M355.3 2013.2h0M353.8 1976.9h0M392 2014.6h0M359.2 1997.8h0M357.9 1990.2h0M367.3 2012.8h0M365.4 2001.2h0M400 1989.6h0M349 1963.2h0M384.3 2002.9h0M349.6 1977.6h0M374.3 2013.1h0M394.1 1991.4h0M379.8 2013h0M361.2 2004.8h0M343 1980.1h0M403.8 2011.5h0M347 1998.4h0M365.8 2014.6h0M389.2 2009.4h0M364.9 2005.2h0M369.9 2011h0M372.8 2011.3h0M365.4 2008.3h0M346.8 1956.5h0M391.4 2013.5h0M402.7 1992.6h0M390.4 2003h0M377.9 2013.6h0M373.5 2012h0M366.4 2004.1h0M360.9 1991.4h0M392 1995.8h0M406.1 1959.5h0M377.9 2014.2h0M385.3 2008.3h0M373.9 2013.3h0M366.1 2011.8h0M407.9 1949.1h0M363.9 1996.4h0M402 1977.7h0M408.2 1986.3h0M387.7 2010.1h0M353.2 2012.1h0M362.5 1996.9h0M407.7 1987h0M355 1984.9h0M378.9 2014h0M407.9 1959.1h0M411 1955.7h0M392.4 2000.5h0M364.2 1998.9h0M406.4 1982.4h0M372.2 2012.2h0M379.8 2011h0M353.3 1996.8h0M405.8 1947.8h0M381.4 2012.6h0M367.2 2009.8h0M345.1 1971.2h0M372.6 2013.2h0M352.9 1987h0M399 1989.7h0M390 2004.4h0M388.9 2013.9h0M343.5 1989.7h0M384.6 2006h0M376.7 2015h0M352.8 2001.3h0M401.6 1974.7h0M376.3 2015h0M407.2 1968.7h0M376.1 2014.9h0M404.4 1960.5h0M397.9 2006.6h0M401 1978.9h0M359.8 1988.7h0M399.8 1997.3h0M389.5 1998.7h0M388.6 1999.1h0M370 2013.9h0M352.8 1993.3h0M343.1 1988.1h0M384.9 2013h0M387.2 2009.7h0M360.1 2010.9h0M385.4 2010.9h0M352.8 1976.4h0M342.2 1981.9h0M355.9 1995.3h0M353.8 1973.4h0M349.6 1978.4h0M386.3 2014.5h0M400.1 1972h0M347.9 1960.8h0M363.6 2004.4h0M409.2 1995.5h0M365.5 2006.3h0M380.7 2012.2h0M397.9 1974.5h0M393.7 2009.5h0M385.7 2000.4h0M392.1 2006.9h0M402.3 1978.9h0M343.5 1999.2h0M386.1 2012.3h0M352 2001.9h0M389.6 2004.3h0M352.9 1985.1h0M409.7 2005.5h0M359.7 2006.7h0M390.1 2009.4h0M380.1 2011.5h0M408.2 2005.3h0M342.6 1993.7h0M348.2 1958.3h0M370.2 2010.3h0M380.8 2013h0M371.8 2013.2h0M361.8 1997.9h0M356.7 2013.1h0M361.7 1991h0M345.2 1948.7h0M342 1970.1h0M410.6 1991.2h0M390.3 2014.2h0M355.6 1989.7h0M348.5 2012.1h0M362.8 2006.3h0M379.4 2012.5h0M399.6 1980.3h0M386.7 2002.8h0M341.7 1921.7h0M343.3 1971.8h0M342.2 1997h0M365.3 1997.5h0M354.3 1984.3h0M373.5 2012.3h0M398.1 1983.9h0M345.6 1944.6h0M388.3 1999.9h0M350 1978.4h0M390.5 2010.7h0M359.8 1987.3h0M396.7 2012.5h0M390.5 1993.2h0M391.2 1998.2h0M375.9 2014.9h0M366.3 2008.5h0M394.8 1982h0M380.4 2011.3h0M368.3 2007.5h0M396.9 2012.7h0M351.7 1996.6h0M355.3 2006.2h0M398.4 1991.6h0M380 2010.8h0M349.9 1988.4h0M357.4 2008.3h0M379.4 2014.5h0M405.9 1985h0M349.6 1972.7h0M361 2002.1h0M391 2013h0M360 2001.1h0M347.9 2010.6h0M409.7 1965.4h0M384.3 2005.2h0M362.2 2013.6h0M406.8 1977.9h0M365.7 2006.4h0M377.3 2014.9h0M378.4 2012.6h0M404.7 1962.6h0M367.6 2014.1h0M393.9 1988.5h0M379.5 2013.1h0M374.3 2014.1h0M371.2 2008.6h0M369.1 2007.9h0M385 2007.9h0M356.4 1981.7h0M385 2012.4h0M378.7 2012.3h0M407.5 2011.5h0M376.2 2015h0M362.1 1992.1h0M387.9 2014.6h0M384.3 2010.5h0M377.3 2014.1h0M379.1 2014.1h0M374.2 2012.7h0M356.6 2006.2h0M370.1 2014.4h0M380 2011h0M380.9 2010.8h0M406.7 1963.9h0M348.8 1999.8h0M351.2 1976.1h0M379.8 2011.5h0M345.7 1981.4h0M354.4 2001.4h0M387.7 2005.6h0M343.7 1942.3h0M406.3 2012h0M387 2009.2h0M410.5 1957.6h0M410.7 1977.7h0M370.9 2011.7h0M408.1 1975.5h0M379.7 2011.3h0M406.8 1961.6h0M351.9 1975.5h0M360.6 2014.6h0M404.2 1982.4h0M379.6 2011.5h0M374.1 2013.6h0M346.5 1966.9h0M404.4 1977h0M371.9 2011.5h0M397.8 1993.4h0M400.5 1976.4h0M357.8 2011.7h0M345.7 1982.7h0M372 2012.2h0M349.6 1982.7h0M350.8 1965.4h0M357.5 1981.3h0M397.7 2004.2h0M404.6 2013.6h0M387 2009.7h0M369 2014h0M364.1 2012.2h0M372.2 2014.3h0M390.2 1999.3h0M395.9 2008.4h0M352.6 1987.9h0M410 1960.2h0M360.4 2009.5h0M342.7 1996.8h0M357.2 1992h0M361.1 2012h0M355.8 1993.6h0M405.7 2001.7h0M402.9 1987.2h0M352.3 1991.3h0M341.5 1989.2h0M370.1 2009.6h0M391.5 1996.5h0M345.7 1956.7h0M343 1939.3h0M374.2 2012.8h0M395.8 1988.3h0M373.2 2012.3h0M380 2013.7h0M342.7 1993.7h0M399.1 2009.7h0M394 1994.4h0M383.3 2005.8h0M367.8 2002.3h0M399.1 1976.9h0M354.6 1977.9h0M406.3 2002.6h0M352.6 1998.7h0M400.1 1982h0M385.5 2009.9h0M353.7 2004.6h0M383.8 2008.5h0M369.8 2008.8h0M409.7 1959.1h0M402.2 1961.3h0M343.9 2009.4h0M375.7 2014.7h0M355.1 1985.7h0M348.4 1956.2h0M391.7 2014.4h0M382.2 2014.7h0M345.3 1961.6h0M375.3 2014.2h0M361.7 1998.4h0M375.9 2014.9h0M386.8 1998.4h0M398 1994.1h0M405.8 2000.9h0M402.9 1981h0M367.9 2006.8h0M405.2 1985.6h0M377.5 2013.8h0M342.9 1972.2h0M345.8 1974.7h0M365.3 2012.1h0M408.1 1967.4h0M398.3 1997.6h0M363.4 2013.4h0M345.9 1991.7h0M342.3 1998.7h0M386 2002.3h0M411.1 2008h0M365.3 1997.5h0M365 1996.9h0M343.2 1989.9h0M355.1 2000.7h0M363.3 2012.7h0M346 1951.7h0M366.7 2012h0M366.9 2001.7h0M373.8 2012.3h0M357.9 1987.5h0M375 2014.7h0M358.6 2014h0M397.1 1988.7h0M353.7 1997.1h0M393 2007.1h0M386.4 2002.1h0M381.9 2008.8h0M396.8 2002.2h0M350.5 2012.3h0M379.3 2012.4h0M389.7 2011.3h0M360.4 2014.5h0M409.9 1953.3h0M379.8 2010.4h0M361.6 1991.5h0M382.3 2010.9h0M363.2 1993.6h0M371.9 2011.4h0M384 2013.7h0M402.1 1973.3h0M353.6 1982.9h0M355.4 1997.6h0M388.3 2002.8h0M353 1974.6h0M342 1994h0M371.6 2014.4h0M363.8 2008.7h0M375.9 2014.8h0M383.1 2007.5h0M355.4 1974.5h0M385.9 2010.5h0M360.5 2002h0M401.4 2009.9h0M357.5 2002.8h0M366.2 2009.6h0M356.8 1984.8h0M396.6 1983.4h0M381.9 2010.3h0M395.5 2008.1h0M385.8 2001.6h0M370.6 2010.7h0M345.9 1986.5h0M404.5 1981.2h0M366.4 2012.5h0M380.8 2009.4h0M379.9 2012.9h0M409.5 2005.5h0M343.3 1974.7h0M368.4 2009.8h0M358.3 1991.7h0M401.3 1976.3h0M366.7 2014.8h0M407.8 1968.9h0M351.1 1972.6h0M363.2 2005.1h0M401.7 1999.9h0M355.3 1993.1h0M373.9 2012.8h0M371.6 2013.3h0M374.1 2014.3h0M408 1949.8h0M365.5 2012.8h0M401.1 1973.9h0M380.8 2010.2h0M361.3 1997.7h0M398.1 1983.1h0M359.6 1988.8h0M344.5 2007.7h0M379 2011.9h0M365.3 2001.3h0M355.9 1983.6h0M386.9 1998.8h0M381.1 2010.9h0M350.1 1983.9h0M365.5 2011.3h0M376.5 2014.8h0M394.9 1982.3h0M367 2008h0M382.9 2008.7h0M369.8 2012.4h0M384 2011.4h0M393.8 1997.9h0M365.7 2007h0M357.9 2005.4h0M368.2 2011h0M359.8 1992.5h0M411.1 2012.8h0M343.3 1959.9h0M369.9 2008.1h0" stroke="#808a87" stroke-width="4.3" stroke-linecap="round" fill="none"/>
<path d="M336 1938.5h0M337.5 1953.4h0M332.6 2011.3h0M337.8 1998.7h0M298.2 2004.7h0M332 2003.3h0M337 1999.4h0M333.9 1975.3h0M323.6 1994.8h0M329.5 2006.3h0M328.4 1981.1h0M329.2 2005.9h0M329.6 1998.6h0M324.3 2005.7h0M313 1884.2h0M312.6 1926.2h0M333.3 1972.5h0M323.8 2001.3h0M336.9 1911.2h0M333.7 1944.4h0M338.1 2003.8h0M310.5 1992.6h0M332.9 1992.5h0M337.9 1988h0M309.2 1916.3h0M334.9 1998.4h0M333.3 1975.9h0M271.7 1982h0M325.7 1987.1h0M338.9 1984.3h0M336.8 2004.6h0M272.7 1996.6h0M335.3 1994.6h0M311 2007.1h0M332 1963.8h0M327.8 1976.7h0M317.9 1990.3h0M265.5 1979.8h0M334.6 2007.8h0M317.3 1996.6h0M329.8 1973.9h0M269.9 1930.6h0M329.7 1921.1h0M321.5 2009.5h0M308.7 2006.5h0M313 1862.9h0M307.8 2003.1h0M337.4 2011.6h0M287.8 2002h0M320.4 1886.6h0M338.5 2003.3h0M276.3 1974.2h0M319.9 1958h0M336.2 2005.9h0M337.9 1994.1h0M337.6 2005.7h0M338.2 2000.8h0M327.2 2003.2h0M337.6 1971.3h0M303.7 2006.6h0M337.3 1932.8h0M326.4 1914.9h0M322.8 2007.4h0M329.7 1973.9h0M304.2 1920.8h0M334.1 2000.4h0M337.5 2009.6h0M330.8 2006.1h0M324.5 1984.8h0M280.3 1996.9h0M305.4 1990.7h0M294.8 1929.7h0M337.2 1980h0M288.8 1931.8h0M321.9 1903.8h0M335.5 1920.5h0M338.2 1974.7h0M337.8 1943.8h0M337 1984.4h0M335.4 1987.3h0M313.1 2005.5h0M263.3 1980h0M324.7 1907.3h0M271.3 1986.9h0M293.2 2003h0M320.9 1933.7h0M338.8 1981.3h0M313.1 1776.5h0M323.2 1925.9h0M300.6 1984.2h0M337.4 1986.7h0M320.2 1982.8h0M329.9 1949.7h0M303.6 1900.4h0M293.1 2002.7h0M336.9 1974.6h0M333.5 1990.8h0M331.1 1942.8h0M337.7 1978.5h0M289.5 1929.8h0M336.9 1997.9h0M336.2 1999.9h0M337.9 1984.2h0M324.8 1921.7h0M269.2 1997.1h0M321.5 1848.5h0M338.8 2009.3h0M327.6 2006.2h0M334.1 1966.6h0M336.9 2009.3h0M258.2 1985.5h0M336.6 1980.9h0M313.2 2003.4h0M329.9 1968.9h0M318.3 2003.5h0M316.5 1935h0M336.8 1995h0M278.9 1803.9h0M336 1973.2h0M303.5 1994.7h0M333.8 1999.3h0M258.1 1988.5h0M337.4 1948.1h0M293.7 1878.6h0M337.1 1897.7h0M299.5 1984.3h0M338.4 1975.8h0M316.2 1959.5h0M326.6 1992.9h0M334.4 1924.5h0M325.6 2007.7h0M282.8 1977.3h0M337.4 2004.5h0M282.8 1901.9h0M315.3 2003.3h0M281.4 1992.1h0M334.1 1960.5h0M336.5 2004h0M292.5 1984.3h0M337.8 2006.1h0M336.1 1889.3h0M332.6 2007.4h0M335.7 2000.3h0M335 2008.1h0M328.9 1966.5h0M329.8 1941.3h0M317.7 1832.2h0M324.8 1838.5h0M326.1 1902.2h0M329.8 1894.7h0M325.4 1953.9h0M320.9 1977.1h0M338.9 1993.8h0M323.7 2009.4h0M330.9 2010.6h0M332.4 1989.5h0M324.7 1842.3h0M284.2 1985.8h0M333.8 1958.9h0M332.8 2008.2h0M331 2008.9h0M303.2 1943.7h0M336.7 1996.9h0M338.3 1936h0M287.9 2001.1h0M314.7 2004.5h0M334.9 1953.6h0M288.6 1924h0M332.7 1996.8h0M292.2 2003.8h0M284.1 1990.1h0M326.1 1981.7h0M334.3 1979.9h0M332.4 2008.3h0M332.2 2012h0M302.8 1873.8h0M335.1 1984.4h0M333.6 1992h0M331.2 1981.4h0M332.2 1999.3h0M312.5 1922.7h0M335.3 1952.5h0M326.1 1880.2h0M298.6 2002.5h0M338.1 2000.8h0M325 1905.5h0M263.9 1958.8h0M338.7 1988.5h0M319 1995.4h0M336.3 2005.8h0M335.6 2007.8h0M312.3 1865.6h0M336.5 1986h0M330.5 1993.8h0M263.1 1987h0M292.3 1846h0M333 1936.9h0M325.3 2002.9h0M259.9 1993h0M338.7 1974.8h0M320.1 2006.3h0M316.2 1988.1h0M302.8 1958.3h0M325.5 1961.7h0M300.9 1978.3h0M327.8 1968.3h0M306.7 1964.9h0M336.7 2000.2h0M332.7 1985.3h0M323.2 1979.4h0M298.2 1920.1h0M325.9 2009.9h0M324 2002.4h0M322.5 2006h0M332 2011.3h0M328.8 1988h0M338.4 1990.1h0M324.9 1961.5h0M304.1 1911.3h0M333.6 1999.1h0M337.9 1977.4h0M329.9 2010.4h0M337.9 1952.1h0M334.9 2003.1h0M320.7 2008.6h0M323.6 2007.2h0M336.5 1915.8h0M332 1907.2h0M313.8 1941.7h0M319.1 1990.9h0M334.4 1995.3h0M299.8 1965.2h0M287 1999.8h0M263 1994.1h0M308.4 1916.9h0M314 1958.5h0M318.6 1946.2h0M314.5 1979.3h0M327.7 1977.5h0M305.1 1887.3h0M333.7 2011.6h0M337.4 1954.8h0M335 2008.7h0M335 1999.2h0M336 1960.6h0M332.8 1960.8h0M324.1 1910.6h0M338.3 2010.4h0M337.6 2006.9h0M282.2 1958h0M326.6 2004.5h0M333 1986.2h0M307.5 1985.2h0M338.4 2002.3h0M335.9 1990.2h0M334.8 2008h0M317 1940.6h0M259.8 1958.4h0M292.4 2003.3h0M334.3 1862.6h0M324.3 1986.5h0M292.4 1987.1h0M332 2011.3h0M317.5 2006h0M316.6 1907.9h0M324.6 2006.9h0M338 2012.2h0M309.9 1872.2h0M292.1 1921.9h0M316.5 2003.4h0M304.6 1890.2h0M291.1 1995.7h0M288.7 2002.4h0M338.5 1913.4h0M302.9 2001.3h0M324.6 1977.1h0M338.8 2010.2h0M332.6 2007.8h0M270.7 1940.8h0M332.3 2009.1h0M277.2 1998.3h0M335 1926h0M315.6 1977.9h0M304.6 1993.9h0M337.6 1956.9h0M322.3 1901.4h0M314.3 2002.8h0M336 2007.5h0M332.3 2009h0M337.4 2005.2h0M287.7 1956.2h0M336.7 2009.7h0M336.7 2006.5h0M311.2 1972h0M309.5 2002.6h0M330.6 2003.4h0M338.7 1987.3h0M325.6 1995h0M332.2 1967.5h0M314.4 1810.8h0M334.5 2002h0M325.3 1915.9h0M336.6 1984.9h0M327.6 1905.9h0M338.4 1997.1h0M297.1 1963.2h0M287.7 1973.4h0M333.8 2010.1h0M332.7 1916.8h0M311.9 1895.6h0M306.5 1909.8h0M337.5 1936.2h0M323 1988.4h0M287.1 1991.8h0M337 1982.7h0M334.7 1871.8h0M333.7 2011.2h0M338.1 1937.6h0M326.8 1825.9h0M269.9 1986.4h0M324.2 2003.1h0M289.3 1997.9h0M297.9 1989.6h0M279.2 1999.6h0M333 2012.1h0M332.6 2006.3h0M282.5 1957.1h0M328 1999.5h0M336.6 2010.2h0M323.4 1911h0M337.8 1987.3h0M330.3 1903.4h0M335.4 1938.9h0M304.7 2004.8h0M337 1984.4h0M329.8 1920.9h0M335.9 2006.5h0M307.1 1991.2h0M333.2 2011.8h0M330.7 1998.7h0M324.7 2001.9h0M332.7 2005.8h0M323.9 2009.2h0M311.3 2006.1h0M325.6 1965.8h0M331.6 1979.3h0M332.3 2011.9h0M326.2 1974.6h0M328.3 2008.5h0M332.9 1998.6h0M326.9 2007.6h0M317.7 2008.3h0M297.9 1837.5h0M338.2 1923.4h0M338.1 1994h0M327.9 1993.3h0M292.1 1767h0M337 1958.6h0M303.3 2000.1h0M335.4 2010.8h0M330.7 1991.8h0M289.3 1864.5h0M293.7 2004.2h0M338.3 1992.4h0M332.3 1910.4h0M300.4 1884.1h0M338.6 2000.3h0M338.6 1980.6h0M301.8 1797.6h0M335.5 1968.5h0M302.9 2000.9h0M327.5 1954h0M302.5 1979.1h0M323 1972.2h0M336 1988.5h0M302.2 2006.2h0M324.5 2011.1h0M272.9 1998.3h0M335.4 1966.7h0M337.3 1965.5h0M331 1987h0M334.3 1993.7h0M278.4 1993.2h0M338.6 1965.9h0M334.6 2009h0M296.3 1955.8h0M330.9 1890.8h0M332.1 1980.7h0M337 1990.1h0M329.1 1991.2h0M330.8 2010.5h0M327.6 1896.2h0M317.9 2003.5h0M332.2 2006.1h0M322.9 2006.7h0M332.6 2001.4h0M336.6 2010h0M336.9 1986.3h0M330.2 1960.5h0M311 1969.8h0M278.9 1982.1h0M332.6 1976.9h0M264.5 1934.7h0M317.3 1957.9h0M278.8 1996h0M299.6 2004.1h0M297.8 1823.2h0M332.6 1862.7h0M330.6 1994.1h0M284.7 1990.7h0M333.8 1938.2h0M315.6 2009h0M313.8 2001.6h0M336.2 1971.1h0M338.5 2006h0M305.4 1984.9h0M299.9 1960.2h0M326.6 1992h0M332.2 2010h0M325.1 1983.3h0M337.8 2011.5h0M318.1 1989.8h0M326.1 2009.2h0M319.2 1882.6h0M310.7 2007.3h0M337.5 1970.9h0M330.9 2008.8h0M326.9 1944h0M322.5 2005h0M320.7 1983h0M325.4 1979.6h0M338 1898.4h0M333.3 2003.8h0M335.1 2003.7h0M335.1 1968.5h0M296 1829.9h0M333.6 1950.3h0M335.5 1868.4h0M327.3 1908.6h0M333.2 1993.1h0M328.4 2010.2h0M276.2 1946.5h0M323.5 1956.3h0M327.7 2008.3h0M288.9 1922.8h0M338 1992.9h0M270.9 1978.3h0M269.9 1996.5h0M326.8 2011.1h0M296.8 1951.6h0M334.6 1959.6h0M329.6 1996.9h0M335.3 2002.9h0M308.9 1997.8h0M308.7 1849.9h0M296.9 1907.9h0M324.3 1961.8h0M337.9 1976.3h0M290.2 2001.5h0M300.6 1843.5h0M328.3 1927.2h0M329.5 2001.4h0M298 1992.9h0M334.5 1978h0M332.8 2010.9h0M298.6 1906.3h0M338.2 1992.9h0M338.2 1945.3h0M300.7 2000.5h0M332.4 1993h0M320.9 1994.9h0M336.4 1972.6h0M300.3 1998.1h0M324.4 1967.9h0M315.7 1984.8h0M336.9 2004.3h0M314.7 1924h0M294.9 1973.6h0M329.4 2008.2h0M337 2005.5h0M338.6 1985.8h0M282.3 1761.5h0M321.6 1968.1h0M336.3 1958.8h0M335.6 1988.2h0M324 2010.9h0M319.2 1888.2h0M336.7 1992.2h0M336.5 1996.2h0M337.3 2005.2h0M330.3 2011.3h0M313.2 2008.7h0M338.4 1998.5h0M338.2 2010.7h0M338.3 2007.9h0M322.9 2010.2h0M333.4 2010.7h0M323.1 1967.5h0M298.1 1786.2h0M296.3 1982.4h0M317.8 2009.8h0M313.4 1976.5h0M302.1 1954h0M309.7 1971.6h0M319.5 2002.3h0M317.2 1794.5h0M338.4 1969.1h0M321.4 1959.2h0M336.1 1980.1h0M338.7 1987.6h0M307.2 2003.9h0M337.4 2011.3h0M338.7 2009.8h0M301.6 1987.5h0M265.2 1993.9h0M335.2 1998.3h0M328.9 1925h0M311.3 1997.8h0M328.3 1995.2h0M336.3 1968.7h0M303.3 1910h0M304.9 1937.7h0M324.3 1962h0M314.7 1891.3h0M299 1966.7h0M333.3 2008.7h0M287.8 2002.6h0M335.9 1985.6h0M328.6 1867.9h0M324 1836.7h0M261.5 1992.9h0M260.4 1967h0M307.7 2005h0M323.6 2010.2h0M325.5 2001.2h0M294.9 1997.7h0M332.7 1987.6h0M312.9 1867.9h0M325.4 1956.5h0M279 1855.9h0M310 1986.7h0M335.9 2006.6h0M338.4 2009.3h0M338 2000h0M337.4 1980.9h0M328.9 1996.1h0M315 1982.8h0M284.1 1979.2h0M330.6 2008.8h0M336.6 2004h0M335.3 1997h0M308.3 1893.7h0M322.5 2008.2h0M278.9 1948.1h0M284.5 1971.4h0M320.3 2009.6h0M314.1 1802.1h0M314.1 2002.5h0M303.3 1918.7h0M292 1990.5h0M333.4 2004.5h0M338.2 1942.8h0M331.8 1921.5h0M326.7 1954.3h0M326.4 2010.4h0M337.7 1963.5h0M317 1967.9h0M338.2 1961.1h0M274.3 1815.3h0M337.6 1987.6h0M335.1 2002.1h0M306.8 1943.6h0M327.2 1927.5h0M259 1986.6h0M327.2 1991.6h0M335.1 2010.9h0M337.2 2007.5h0M338.8 1982.7h0M323.8 1973h0M326.2 2000.3h0M331 2011.6h0M335.3 1948h0M336.7 1998.1h0M332.6 1900.8h0M313.4 2009.1h0M323.4 1940.8h0M314.6 2007.5h0M326.8 1983.2h0M332.1 1955.4h0M335.2 1966.5h0M307 2001.1h0M335.2 1896.8h0M317.9 1984.4h0M310 1911.8h0M335.7 2006.8h0M321.9 1916.5h0M337.5 1978.2h0M328.5 2002.3h0M324.9 1987.6h0M333.6 2010.7h0M337.8 1986.4h0M275 1993.9h0M337.5 2009.9h0M337.3 1970h0M303.5 1969.1h0M324.8 2011.1h0M303.6 2006.9h0M310.7 1999.8h0M335.6 2004.5h0M314.2 2001.2h0M318.6 1993.1h0M313.4 1846.3h0M306.5 1970.2h0M296 1931.7h0M263 1954.4h0M318.3 2006h0M337.1 1977.7h0M334.8 1896.6h0M335.4 1967.3h0M316.2 1996.1h0M326.2 1893.5h0M328.2 1998.8h0M337.7 2003.1h0M273 1883.6h0M335.8 1966.6h0M333.7 1986.4h0M336.1 2000.5h0M311.2 1971h0M328 1997.9h0M327 2005.1h0M334 2010h0M337.8 1970.1h0M323.2 2005.7h0M331 2011.3h0M337.2 2009.3h0M332 1997.4h0M332.4 1927.4h0M323.5 2009.1h0M337.8 1939.1h0M324.1 1962.5h0M285.7 1983.4h0M331.9 1961h0M318.5 1916.4h0M276.2 1989.9h0M325 1885.3h0M337.8 1930.2h0M338.4 1998h0M335.7 2004.1h0M322.8 2008.2h0M314.6 1856.7h0M331.6 2000.8h0M321.4 1821.4h0M338.4 2012.8h0M334.8 2007.5h0M320.8 1983.5h0M333.4 2007.1h0M273.2 1998.3h0M307.8 1922.7h0M330.7 1977.2h0M336.1 2007.2h0M338 2010.5h0M331 1915.6h0M327.9 1998.9h0M326 1938.6h0M322.6 2006.2h0M338.1 1992.3h0M337.3 1990.5h0M257.3 1983.3h0M328.7 1983.7h0M325.7 1958.1h0M319.2 1859.5h0M337.9 1996.2h0M335.1 1987.9h0M338.3 2010.2h0M337 1992.4h0M337.5 1981.2h0M315.2 1940.3h0M321.7 1946.3h0M332.9 2009.9h0M320 1970.5h0M338.6 1993.5h0M269.2 1993.9h0M335.4 2001.6h0M330.8 1976.8h0M323.5 2000.1h0M308.7 1833.6h0M317.4 1971.9h0M319.7 1881.6h0M332.4 2003.6h0M326.2 1856.2h0M317.9 1958.8h0M336.1 1981.7h0M320.1 2010.2h0M336.9 1902.6h0M336.2 2004.6h0M336.4 2003.4h0M338.5 2010.9h0M337.2 1993h0M274.4 1994.2h0M313.4 1986.7h0M259 1940.5h0M325.4 1927.6h0M315.8 2007.3h0M327.9 1990.1h0M304 1970.5h0M332.6 1938.8h0M335.8 1999.1h0M325.5 2008.4h0M329.1 1978.5h0M336.9 1942.3h0M316.3 1996.8h0M336.2 2010.2h0M337.8 2012.2h0M335.6 1978.8h0M318.2 1997.4h0M323 1991h0M336.6 1994.4h0M303.2 1874.5h0M336 1959.3h0M328.8 2006.2h0M335.7 2001.6h0M336.8 1987.8h0M337.9 2006.8h0M310.5 1848.7h0M284.1 1998.8h0M337.2 1952.2h0M311.1 1960.5h0M260.5 1969.7h0M337.3 1992.9h0M278.2 1992.4h0M329.9 1958.6h0M282.8 1961.8h0M325 2005h0M328.8 2010.8h0M337.9 2003.6h0M338.6 1935h0M284.3 1975h0M310.6 1784.8h0M314.9 2007.7h0M332 2009.9h0M306.4 1967.2h0M321.5 1995.9h0M325.2 2009.2h0M318.1 2003.5h0M337.5 1904.4h0M336.5 1994.9h0M331 1982.9h0M284.8 1997.9h0M328.7 1925.3h0M338.2 2011.9h0M308.2 1926.1h0M331.4 1863.3h0M328.9 1986.3h0M335.5 1988.4h0M337.4 1997h0M300.2 1874.6h0M289.1 1950.5h0M333.5 1906.3h0M311.8 1961.5h0M279.5 1906.9h0M329.7 1985.9h0M335.1 2012h0M338.6 2009.1h0M330.9 1979.7h0M337.7 2011.8h0M314.7 1971.1h0M320.8 2008.9h0M300.2 1764.9h0M335.2 1994.4h0M338.5 1997.8h0M333.6 1990.9h0M274.8 1978h0M323.4 1846.9h0M331.8 1993.6h0M300 1841.8h0M330.8 2003.1h0M328.7 1979.5h0M266.2 1986h0M337.6 1998.5h0M332.7 1933.8h0M311.6 2008.6h0M328.1 2009.7h0M320.2 2006.3h0M338.1 2006h0M331.6 1985h0M272.8 1905.9h0M335.7 2009.8h0M327.2 2009.5h0M295.5 1963.1h0M302.8 2005.6h0M324.7 1927.6h0M332.6 1952.8h0M292.2 1920.2h0M338.4 2011h0M317.9 2006.9h0M337.3 1994.6h0M329.7 2003.2h0M334.8 2009.3h0M286 1805.7h0M330 2010.2h0M297.9 1909.4h0M338.7 1935.7h0M338.5 1981.8h0M337.1 2005.7h0M325.6 1967.9h0M328.5 1901.7h0M334.6 2000.7h0M309.1 1960.8h0M326.2 1990h0M325.7 1979.9h0M334.2 2006.8h0M303.3 1995.1h0M336.2 1956.8h0M338.6 1999.6h0M337.8 1994.4h0M327 2005.7h0M332.9 1926h0M337.6 2003.6h0M335.9 2002.4h0M330.9 1987.7h0M321.4 1993.8h0M315.6 1997.5h0M315.5 1964.5h0M296.9 1978.7h0M332.8 2007.1h0M333.9 1988.2h0M326.8 2003.8h0M337 1966.3h0M257.2 1971.1h0M323.3 1992.1h0M334.2 1914.9h0M333.8 1953.2h0M333.3 1928.7h0M335.4 2000.6h0M331.2 1994.3h0M323.4 1894.1h0M321.8 1854.6h0M314.7 1964.4h0M297.4 2002.1h0M320.6 2005.8h0M310.8 1803.7h0M337.7 1936.7h0M317.6 1936.5h0M325.8 1990.5h0M318.2 2002.4h0M316 1950.7h0M331.6 1959.3h0M335.5 2011.6h0M325.7 2007.5h0M275.9 1997h0M330.4 1964.8h0M334 2007h0M332.1 1999.7h0M333.1 1989.6h0M322.6 2009.7h0M338.1 2000.1h0M311.7 1950.4h0M333.8 1938.9h0M295.2 1948.6h0M312.7 1991.1h0M302.1 2000.2h0M330.2 1895.8h0M336.9 2011.9h0M332.5 1998.8h0M329.1 2002.8h0M282.1 1987.5h0M267.9 1984.1h0M338.8 2009.8h0M335.1 1988.3h0M307.1 1958.7h0M289.1 1955.4h0M321.8 1892.6h0M329.2 2011.3h0M326.2 1920.1h0M335.3 1989.5h0M335.2 2010.7h0M332 1885.1h0M324.7 1974.4h0M324.9 2010.7h0M333.6 1994.8h0M332.8 2007.1h0M336.8 2008.6h0M330.4 2010.2h0M337 1961.4h0M330.5 1980.8h0M337.6 2006.5h0M333.1 2010.7h0M336.6 1967.3h0M322.5 2010.4h0M290.3 1928.5h0M331 2009.2h0M329.4 2000.8h0M324.7 1908.3h0M327.2 1999.1h0M293.4 1817.9h0M336.1 1979.4h0M315.3 1902.9h0M321.5 2003.6h0M323.7 1871.9h0M329.5 1997.6h0M334.5 1948.2h0M333.1 1993.8h0M324 1986.4h0M334.3 2007.5h0M332.7 2010.5h0M333.1 1978.1h0M328.1 1849.2h0M336.2 2003.9h0M334 1992.5h0M325.2 1958.6h0M336.3 1993.7h0M335.1 2009.6h0M336.4 1980.8h0M322.6 1956.6h0M337.6 1988.7h0M308.3 1887.9h0M334.9 1968.2h0M324.9 1983.9h0M316.2 1986.7h0M296 1976.1h0M282.4 1786.4h0M330.5 1998.4h0M337.8 2009.5h0M313.3 1930.6h0M304.6 2005.1h0M269.8 1994.1h0M332.5 1970.1h0M261.4 1987.5h0M333.8 2003.5h0M316.6 1996.3h0M295.2 1930.1h0M312.9 1825.6h0M329.7 1979.9h0M330.4 1837.8h0M329 1927.3h0M333.2 2008.5h0M305.9 2004.4h0M295.6 2005h0M297.4 1928.6h0M302.6 2004.6h0M336.7 1949.7h0M264.7 1995.6h0M336 1993.2h0M335.2 1927.5h0M335.3 1977.9h0M329.6 1933.1h0M328.6 1990.1h0M324.4 2003.2h0M299.2 1981.8h0M295.1 1806.5h0M295.4 1842h0M335.6 1995.5h0M334.6 1999.8h0M262.9 1931.4h0M332.6 1950.9h0M317.7 1999.1h0M337.3 1974.1h0M322.4 1965.3h0M315.2 2001h0M334.3 1990.4h0M330.5 2003h0M307.4 2005.4h0M330.9 1866.8h0M337.6 2000.5h0M283.7 1983.7h0M290.9 1934.4h0M321.1 1999.6h0M301.3 1804h0M338.3 1952.6h0M331.5 2003.9h0M329.4 1896.6h0M307.2 1911.5h0M332.5 1971h0M337.8 1948.5h0M337.9 2011.6h0M301.1 1922.6h0M315.4 1965h0M318.7 1978.6h0M327.9 1945.9h0M338 1993.3h0M323.6 2009.7h0M298 1997.2h0M330.3 1985.6h0M316.5 1992.5h0M324.2 2002.5h0M330 2011h0M298.4 2005.2h0M325.3 1981.8h0M332.1 2010.8h0M276.4 1996.2h0M332.1 1978.7h0M304.2 1813.2h0M315.9 1832.1h0M291 1910.2h0M326 1947.8h0M305.7 1973.2h0M336 1991.6h0M333.4 1985.4h0M338.7 1992.7h0M327 1986.6h0M338 1929.3h0M326.3 1935.7h0M312.2 2005.1h0M320.6 2003.3h0M303.5 1951.3h0M320.9 1990.3h0M316.2 1838.3h0M336.5 1875.1h0M302.4 1985.9h0M314.3 1900.9h0M288 1841.1h0M334.6 2011.5h0M312.6 1978.2h0M330.7 2010.4h0M338.5 1960.8h0M317.8 1925h0M309.2 2003.2h0M330.7 1909.9h0M328.7 2011.1h0M316 1905.6h0M307.4 2006.2h0M278.8 1825.6h0M334.6 1919.7h0M334.1 1952.2h0M326.5 1950h0M306.9 2006.1h0M318.7 2009.9h0M320.6 2000h0M332.1 1953.3h0M326.6 1839.4h0M313.8 1989.7h0M334.8 1943.9h0M321.2 2008.9h0M316.7 2000.7h0M324.4 1948.4h0M335.7 2007.5h0M336.6 2010.1h0M334.4 1986.2h0M297.1 1997.8h0M306.2 1980.2h0M332.4 1968.1h0M337.1 1930.4h0M286.9 1876h0M325.9 1936.9h0M329.5 1991.1h0M319 1936.7h0M306.2 1897.2h0M332 1958.3h0M326.4 1866.9h0M337.3 2011.6h0M318.4 1970.8h0M300.5 1973.5h0M337 1988.3h0M292.6 1988.8h0M321 1942.6h0M333 1957.1h0M267.9 1894.8h0M332.6 1973.3h0M305.4 1988h0M322.1 1915.8h0M249.5 1505.8h0M242 1528h0M270 1563.8h0M293.2 1577.2h0M314.2 1598.8h0M288.5 1618.5h0M302 1619h0M245 1651.2h0M278.8 1650h0M286.2 1648.2h0M305 1658.5h0M298.5 1686.8h0M305.8 1692.2h0M98.2 1856.8h0M219.5 1876.2h0M205.5 1908h0M214.8 1905.5h0M239 1910.8h0M236.2 1936.5h0M223 1960.2h0M205.5 1967.2h0M251.2 1827h0M261.2 1787.5h0M264.5 1742.2h0M288.5 1742.2h0M289.5 1723h0M244.5 1967.5h0M237.8 1971.2h0M231.2 1973h0M225.8 1978.2h0M230.2 1986.8h0M236.2 1986.8h0M239.5 1987h0" stroke="#00ff00" stroke-width="4.3" stroke-linecap="round" fill="none"/>
<path d="M433.1 1992.9h0M516 1982.8h0M415.6 1935.3h0M466.9 1987.6h0M414.7 1953.6h0M418.3 1930.8h0M422 1923.2h0M427.2 2005.8h0M417.5 1960.4h0M425.7 1998.5h0M471.5 1973.7h0M460 1995.7h0M431.6 2008.8h0M448.3 1954.5h0M418.5 1987.5h0M414 2011.2h0M536.1 1973.5h0M417.7 2008.6h0M420.6 2000.2h0M450.3 1895.5h0M486.1 1858.5h0M466 1921.5h0M440.1 1768h0M485.1 1941.9h0M427.7 1990.4h0M428.3 1993.1h0M474.9 1987h0M437.2 1817.5h0M482.3 1989.3h0M454.5 1961.3h0M432.7 1909.4h0M428.9 1951.4h0M453.6 1834.2h0M430 1940.5h0M418.1 1918.6h0M415.6 1982.3h0M414.9 2000.5h0M420.2 1909.3h0M422.8 1933.6h0M425.8 1968.5h0M424.8 1908.2h0M415.5 1891.2h0M418.9 1871.2h0M426.5 1949.5h0M430.6 1983h0M430.2 1862.5h0M434.6 1984.5h0M447.8 1955.5h0M417.4 1999.4h0M429.4 2010.7h0M428.8 1932.8h0M416.2 1952.6h0M426.4 2004.8h0M421.2 1991.1h0M431.2 1985h0M416.2 1997.9h0M423.5 1989.1h0M418.1 1988.1h0M423.4 2008.3h0M428.3 1957.9h0M419.5 1969.8h0M421.7 1987.6h0M428.1 1954.8h0M494.7 1953.5h0M444.5 1788.7h0M414.3 2000.7h0M535.3 1950.5h0M448.9 1828.3h0M499.9 1986.9h0M446.7 1885.1h0M436.8 2007h0M421.4 2005.8h0M449.8 1873.4h0M444.2 1769.2h0M427.8 2005h0M533.5 1972.4h0M415.4 1919.3h0M426.8 1978.2h0M451.8 2002.1h0M441.2 2006.2h0M415.5 1920.7h0M494.7 1993.3h0M418.3 2010.1h0M472.9 1994h0M443.1 1891h0M423.4 1957.2h0M486.1 1971.5h0M420.3 1942.1h0M421.5 1965.5h0M421.7 2009.2h0M461.2 2002.4h0M424.4 1935.7h0M436.6 1955.9h0M469.3 1999.2h0M441.2 2005.9h0M415.5 2009.1h0M428.2 1968.6h0M429.7 1863.5h0M436.6 2005.8h0M424.2 2000.4h0M418.1 1944.7h0M420.5 1987.4h0M414.9 1967h0M419.8 1928.4h0M417.7 1994.8h0M488.7 1992.5h0M426.7 1929.9h0M467.7 1998.9h0M417.5 1997.5h0M495.1 1991.9h0M423.6 1898.3h0M433.8 1816.8h0M423.3 2009.5h0M432.1 2003.9h0M427.4 1982.1h0M502.1 1970.6h0M415.6 2010.4h0M475.6 1998.7h0M526.5 1964.1h0M445.1 1912.2h0M419.1 1982.5h0M420.2 2008.9h0M435.7 1901.4h0M452.4 1978.4h0M420.3 2002.9h0M416.6 1999.1h0M466.6 1998.9h0M418.6 2004.7h0M459.7 1961h0M414.1 1971.1h0M420.8 2008.7h0M490.3 1972.5h0M452.8 1989.1h0M496.8 1951.7h0M414.6 1995.6h0M425.1 1884.3h0M419.2 1889.6h0M466.1 1985h0M441.5 1950.5h0M426.9 1949.7h0M439.4 2008.1h0M424.3 1973.7h0M512.8 1979.4h0M452.1 1973.2h0M420.6 1988.4h0M428.7 1997h0M424.5 2007.3h0M511.9 1972.4h0M414.3 2011.3h0M428.4 1991.1h0M439.6 1862.2h0M477.5 1983.7h0M459.1 1971.3h0M422.3 2008.9h0M428.5 2006.1h0M414.6 1975.6h0M415.1 1993.6h0M425.9 1990.7h0M416.5 2011.8h0M421.8 1922h0M424.4 2009.6h0M527.1 1970.4h0M417.4 1976.7h0M419.2 1986.3h0M433.6 1981.3h0M419.8 1952.6h0M447.7 1912.1h0M472.3 1937.7h0M426.3 2009.3h0M423.9 1983.5h0M423.4 2007.8h0M450.2 1906.2h0M413.7 1930.2h0M422.2 1989.3h0M508.6 1987.9h0M414.9 1993.4h0M415.3 2000.3h0M413.8 1994.2h0M421.3 1947h0M418.9 2009.8h0M432.9 1949.4h0M455.1 1918.6h0M415.6 1959.6h0M448.5 1992.3h0M413.8 1996.3h0M456.8 2001.7h0M463 1921.7h0M423.5 1889.6h0M414.3 2000.3h0M437.8 1910.6h0M433.6 2003.4h0M482.2 1997.3h0M416.4 1922.8h0M432 1889.8h0M522.3 1921.5h0M476.4 1987.3h0M430.9 1972.8h0M418.2 1918h0M414.1 1977.7h0M489.4 1992h0M450.3 2005.5h0M441.3 1989.6h0M445.6 1960.7h0M428.1 1958.3h0M417.6 1954.5h0M416.5 1990h0M445.2 2007.8h0M424 1926.2h0M427.8 1981.1h0M425.5 1995.6h0M422.7 1906.4h0M429.8 2004.1h0M420.3 1974.9h0M421.5 1987.8h0M424 1970.7h0M527.7 1969.3h0M418.6 1995.5h0M416.5 1999.7h0M466.7 1904.9h0M431.7 1955.5h0M474.7 1993.5h0M448.2 1949.2h0M444.8 1998h0M434.3 1826.1h0M480.5 1988.9h0M414.5 2011.8h0M457.3 1913.8h0M447 1992.9h0M503.6 1990.2h0M414.8 1982.1h0M423 1976.9h0M413.7 2005.2h0M428.8 1973h0M453.6 1782.2h0M471.5 2000.2h0M463.1 1987.8h0M415.6 1962.8h0M423 1983.4h0M416 1914.2h0M414.7 1992.1h0M421.7 1919.9h0M462 2002h0M419.8 1991.2h0M420 1885.5h0M468.5 1831.8h0M435.1 1782.1h0M434 1800.7h0M465.4 1729.6h0M461.5 1980.1h0M414.9 1993.5h0M474.9 1978.1h0M436.3 1996.9h0M488.4 1994h0M471.6 1909.3h0M423.8 1994h0M428.8 1860.6h0M431.1 1932.6h0M418.7 1955.4h0M430.2 1834.9h0M464.2 1930.6h0M448.8 1733.9h0M469.1 1995h0M429.6 1863.5h0M418.1 2009.6h0M441.7 1820.3h0M442.6 1911.8h0M419.1 1910.4h0M433.1 1903.1h0M416.5 2001.2h0M435.4 1858.5h0M425.7 1929.4h0M494.6 1949.4h0M415.6 2007.5h0M421.1 1941h0M415.3 1955.3h0M442.1 1997.7h0M449 1996.1h0M418.7 1974.2h0M415.3 2008.3h0M435.7 1968.7h0M418.4 1872.1h0M415 2012.3h0M423.9 1971.1h0M422.6 2009.5h0M443.1 2005.9h0M418.1 1886.5h0M414.5 1997.9h0M435.5 1999.2h0M425.4 2005.1h0M437.3 1894.6h0M420 1963.1h0M446.1 1996.2h0M502 1987.2h0M417.2 2007.8h0M419.9 1935h0M457.1 1882h0M443.5 1932.7h0M508.6 1981.4h0M419.3 1991.3h0M480.7 1784.3h0M421.8 1891.7h0M424.7 1985.7h0M413.9 1962.1h0M451.3 1993.3h0M418.8 1987.9h0M420.3 1988.7h0M447.6 1991.3h0M419.3 1975.3h0M422.5 1917h0M416.9 2007.2h0M432.5 1924.7h0M449 1890.3h0M420.5 2010.9h0M436.1 1930.6h0M441.3 2004.7h0M437.2 1988h0M415.6 1990.4h0M420.3 1946.7h0M422.6 1978.4h0M449.1 1951.4h0M422.4 1998.2h0M495.6 1981.1h0M419.3 1996.1h0M437.9 1995.6h0M447.1 2007h0M445.7 1901.8h0M452.8 1994h0M416.2 2012.7h0M438.8 2002.9h0M469 1999.4h0M417.5 1988.3h0M414.7 1997h0M431.3 1995.1h0M424.3 2011.6h0M439.7 1915.2h0M415.7 1945.9h0M448.1 1973.4h0M421.1 2003.8h0M413.9 1980.9h0M435.9 1977.8h0M461.7 1868.3h0M449.1 1986.3h0M418 1999.5h0M422.8 1967.5h0M448 1717.4h0M418.2 1943.7h0M416.4 1968.8h0M421.5 1918.3h0M413.7 1993.4h0M425.9 2006h0M424.9 1982h0M445 1918.5h0M418.6 2001.9h0M424.4 1988.5h0M419.5 2012h0M432 1850.3h0M484.8 1987.8h0M447.2 1980.7h0M507.2 1975.4h0M444.8 1924.2h0M415.8 1972.3h0M459.3 2004h0M445.1 1883.3h0M430.3 1885.9h0M415.4 1909h0M432.7 1892.4h0M419.2 1985h0M469.7 1981.2h0M415.8 1946h0M477.5 1930.6h0M463.7 1994h0M414 1977.5h0M445.8 2002.3h0M434.3 1927h0M417.1 1957.4h0M435.7 1992.1h0M413.7 2004.1h0M466.7 1977.1h0M455.8 1995.1h0M457.8 1900.7h0M506.4 1981.2h0M433.3 1989.9h0M418.5 1955.6h0M440.5 1877.5h0M447.9 1738.1h0M458.8 2004.3h0M414.7 2011.2h0M503.2 1973.7h0M481.9 1947.2h0M477.1 1996.9h0M446.7 1924.5h0M418.4 2009.5h0M414.2 2002.2h0M426.7 1872.7h0M416.7 1931.6h0M457.7 1963.4h0M414.1 1936.6h0M423.2 1915.2h0M423.8 2005.3h0M460.5 1883.2h0M422.6 2001.4h0M415.4 2000.8h0M460.6 1991.8h0M424.6 2007.1h0M414.3 1971.8h0M419.5 2010.5h0M413.7 1986.1h0M418.3 2011.1h0M414.8 1970.2h0M458.8 1939h0M433.3 1965.7h0M424.9 1890.6h0M482 1984.1h0M499 1984.8h0M472.7 1808.6h0M448.2 1964.9h0M420 1967.9h0M429.7 1983.5h0M420.8 1974.9h0M503.7 1952.5h0M446.2 2005.8h0M416.8 1999h0M468.4 1835.6h0M467.1 1997.4h0M416.6 1906.9h0M444.6 1993.4h0M421.8 1858.7h0M455 1988.6h0M417 1986.8h0M445.4 2006.9h0M432.7 1822.6h0M458.9 1986h0M413.8 1987.2h0M425 2009.8h0M419 1927h0M435.4 2009.5h0M422 1909.2h0M470.8 1997.8h0M423 2008.9h0M469.9 1946.4h0M428.3 2005h0M451.1 1947.3h0M416.8 1996.3h0M415.6 1969.6h0M414.3 2002.4h0M416.2 1982.6h0M419.5 2011.3h0M443 1896.2h0M421.4 1991.9h0M501.4 1937.2h0M439.5 1931.2h0M417.8 1969.1h0M414.3 1988h0M421 2008.5h0M436 1841.7h0M415.5 2010.6h0M415.8 1952.2h0M441.1 1925.6h0M444.5 1784.1h0M436.6 2000.1h0M466.4 2001.7h0M419.2 1986.4h0M448.3 1986.3h0M417.4 1950.8h0M460.6 1998.1h0M451.2 1902.4h0M424.1 1911.3h0M416.5 1919.7h0M463.6 1937.9h0M482.9 1910.8h0M425.6 1914.5h0M439.2 1954.6h0M421.6 2011.3h0M423.1 2008h0M423.5 1997.8h0M460.4 1912.8h0M439.8 1977.3h0M485.2 1971.3h0M449.5 1959.9h0M465.5 1985.8h0M446.4 1871.1h0M417.9 2012.4h0M454.2 2000.7h0M426.2 1995.7h0M416.9 2012.5h0M421.9 1991.7h0M431.9 1830.8h0M444.7 1927h0M421.1 1962.3h0M428.3 2003.4h0M425.7 1970.7h0M427.4 1956.3h0M456.3 1989.8h0M414 1999.9h0M458.3 1985.2h0M417.9 2011.7h0M424.2 1953.4h0M424.4 1856.8h0M414.5 2007.5h0M415.2 1969.4h0M429.4 1962.1h0M428.3 2000h0M443 2005h0M423.8 2003.4h0M414.7 1941.1h0M421.3 1961h0M416.7 1977.9h0M430.4 1910.8h0M414 2002.4h0M416.9 1976h0M425.3 1970.9h0M416 2012.6h0M441.1 1850.4h0M424 1991.9h0M428.1 1906.5h0M414.4 1949.5h0M471.5 1982.1h0M440.4 1985.3h0M432 1963.2h0M422.4 1945.6h0M444.2 1996.5h0M426.7 2007.6h0M416.9 1964.3h0M416.6 1886h0M459.7 1985.9h0M426.2 2002.9h0M415.4 1997.6h0M485.2 1930h0M434.3 1927.1h0M425.3 1929.7h0M477.1 1981.5h0M427.7 2009.8h0M415.2 2012.6h0M442.7 2004.2h0M421.9 1994h0M433.2 1940h0M429.9 1998.1h0M421.9 1994.4h0M501 1990.3h0M433.3 1924.6h0M419.7 1992.8h0M423.6 1988.9h0M422.7 1877.8h0M417.5 1965h0M422 1951.9h0M442.3 1780.4h0M425.6 1927.7h0M415.3 1976.5h0M423.8 1994.1h0M436.6 1859.4h0M429.4 1928.7h0M435.9 1915.6h0M417.3 1978.5h0M413.6 2008.3h0M456.9 2000.4h0M427.3 1987.9h0M419.2 1963.1h0M423.8 1943.9h0M426.3 1982.1h0M456.9 2005.3h0M414.2 2004.6h0M434.6 1983.9h0M416.4 1991h0M421.5 2006.7h0M437.8 1964.1h0M483.6 1968.8h0M437.9 1912.7h0M428.9 2009.9h0M423.5 1912.6h0M415.3 1996.8h0M415.1 1987.6h0M483.5 1924.1h0M418.9 1987.9h0M459.3 1923.8h0M426.8 1991.1h0M458.6 1794.8h0M447.5 1997.7h0M442.5 1986.6h0M415.5 1996.8h0M419.2 2005.8h0M420.4 1878.7h0M446.4 1961.5h0M414.1 2011.8h0M421.1 1897.7h0M455.9 2003.8h0M448.4 1994.6h0M425.8 2010h0M426.2 2009.1h0M486.9 1984.7h0M472.5 1843.1h0M440.4 1863.1h0M418.3 1981.1h0M418.4 1968h0M433.5 1933.9h0M418.5 1910.7h0M413.7 1981.1h0M426.1 2010.5h0M414.4 2009.3h0M414.5 2012.2h0M421.6 1954.5h0M517.2 1964.2h0M416 1989.1h0M464.8 1925.7h0M419.7 1984.4h0M424.3 1985.4h0M415.7 1956.3h0M428.3 2007.9h0M419.4 1956.1h0M431.8 2008.9h0M418 1982.2h0M420.1 2010.3h0M491 1914.7h0M415.5 1933.7h0M489.4 1874.9h0M424.3 1949.5h0M420 1948.3h0M517.2 1962.9h0M417.7 1992.3h0M415 1999.6h0M434.7 1825.5h0M418 2010h0M488.3 1990.2h0M418.7 2003.2h0M421.7 1968.8h0M432.7 2004.5h0M451.6 1845.2h0M417.1 1954.5h0M439.9 1989.5h0M445.8 1911.6h0M463.1 1946.5h0M454.1 1964.5h0M415.4 2005.7h0M426.8 1954.1h0M416.5 1993.5h0M434.9 1990.6h0M420.5 2011.8h0M417.5 1895.7h0M415.1 1998.7h0M424.3 1966.4h0M486.7 1983.8h0M523.4 1977.7h0M432.4 1975.6h0M448.6 1974.8h0M428.6 1907.4h0M471.7 1932.1h0M418.5 2000.5h0M428.1 1846.3h0M423.7 1993.5h0M425.7 1998.9h0M430.2 1878.6h0M421.4 2010h0M432.9 1961.4h0M419.5 1994.6h0M426.3 1918.6h0M425.1 1968.4h0M416.3 2010h0M420.5 2002.6h0M418.1 2005.3h0M414.3 1913.5h0M450.7 1889.2h0M427.7 1909.4h0M417.9 1899.9h0M473 1840.6h0M463.5 1923.1h0M419.5 1989.4h0M453.1 1964.7h0M459.1 1851.9h0M426.8 2001.9h0M415.6 2010.8h0M500.2 1990.3h0M417.7 1993.1h0M438.1 1976.7h0M422.1 1950.7h0M436.2 1936.8h0M485.3 1924h0M477.1 1985.1h0M414.1 1954.4h0M494 1977h0M416.6 2001.9h0M432.3 1988.9h0M422.5 1982.4h0M438 1867.5h0M415.6 2010.6h0M520.9 1982.2h0M472 1972.7h0M419 2004.7h0M478.8 1896h0M459.9 1915.4h0M418.5 2007.8h0M414.5 2006.2h0M499.1 1896.9h0M417.4 1974.1h0M419 1985.1h0M417.4 2001.3h0M442.3 2004.8h0M456 1941.9h0M467 1996.4h0M418.3 2009.2h0M416.5 1999.6h0M426.2 2008.3h0M416.8 2002.2h0M430.5 1952.8h0M460.4 2001.4h0M500.1 1979.7h0M414.4 1957.8h0M422.8 1979.5h0M470.4 1980.8h0M447.1 1998.8h0M425.7 2008.1h0M443.4 1801.4h0M422.8 2008.4h0M417.6 1953.5h0M463.9 1927.3h0M413.9 1956.4h0M415.8 1988.5h0M426 1892h0M423.6 1973.6h0M436.3 1917.3h0M454.8 1957.5h0M416.1 2007.7h0M417.2 1982.8h0M437.7 1917.9h0M430.9 1990h0M506.4 1941.8h0M424.4 1983.7h0M472.2 1995.7h0M434.8 1946.4h0M419.5 2003.2h0M417.5 2004.8h0M436.1 1911.3h0M454.9 1960.4h0M421.2 1961.3h0M431.4 1968.8h0M424.9 1980.7h0M418.3 1957.8h0M442.8 1894.4h0M416.4 1932.3h0M439.3 1975h0M421 1949.5h0M431.2 1909h0M417.8 1905.2h0M417.2 2000.2h0M424.1 1891.2h0M511 1921.4h0M449.9 1904.1h0M413.7 1947h0M474 1993.3h0M455.4 1992.4h0M420.5 1887.1h0M503.4 1930.7h0M416.4 1933.4h0M415.5 1912.1h0M414 1995h0M438.3 1968.4h0M443.1 1902.4h0M431 1958.1h0M415.2 2001.7h0M414.9 2004h0M498.6 1950.3h0M433.2 1852h0M460.4 2001h0M440.8 1964.2h0M535.7 1974.9h0M434.1 1911h0M438.7 1924.9h0M427.3 1990.2h0M415.8 1961.7h0M440.7 2002.4h0M447.2 1873.6h0M432.7 1997.6h0M423.3 2006.3h0M457.8 1935.3h0M471.4 1996.1h0M425.1 2011.2h0M417.5 1963.8h0M466 1996h0M460.1 1933h0M415.8 1977.7h0M420.6 1954.8h0M440.6 1938.3h0M415 2004.7h0M442.8 1803.4h0M474.9 1907.1h0M434.4 1872.9h0M471.7 1950.2h0M438.4 1920.6h0M430.2 1920.6h0M448.3 1959.9h0M470.2 1987.2h0M422.3 2003.8h0M435.6 1968.7h0M414.6 1982.7h0M414.1 1984.3h0M423.4 1973.8h0M436 1822.3h0M437.7 1883h0M446 2006.4h0M469.2 2000.7h0M415.7 1991.3h0M438.6 2005.4h0M437.1 2007.7h0M418.2 1994.7h0M424.3 1960.5h0M413.7 1979.3h0M419 2009.4h0M422.2 1960.5h0M420.1 2008.9h0M423.4 1988.6h0M438.5 1935.8h0M461.9 1940.8h0M435.9 1909.3h0M478.1 1996.2h0M415.3 1986.4h0M436.4 2007h0M422.5 2011.4h0M425.4 1925.1h0M454.4 1989.6h0M415.6 1951.4h0M430 2002.9h0M415.6 2000.3h0M417.1 1965.5h0M485.9 1986.3h0M417.7 1972.1h0M471 1920.1h0M414.6 2001.3h0M422.2 1995.6h0M442.2 2007.7h0M433 2008.9h0M418.7 1915.2h0M419.5 2005.7h0M430 1986.8h0M421.5 2010.7h0M470.1 1795.2h0M436.2 1992.7h0M447.5 1991.7h0M426.6 2007.2h0M428.6 1873.3h0M437.6 1976.3h0M417.5 2001.8h0M459.1 1971.6h0M416.5 2012.1h0M416.9 2005.5h0M415.5 1988.5h0M415.4 1985.4h0M439.5 1972.2h0M416 2003.1h0M418.1 1934.7h0M432.4 1989.4h0M445.4 1916.8h0M420.5 1927.9h0M416 2006.6h0M518.2 1982.4h0M447.3 1995.6h0M423.7 2011.3h0M434.4 1969.7h0M415.1 2003.2h0M436.3 1882.2h0M417 1991.9h0M422.7 1952.7h0M455.8 1945.4h0M414.3 1960.3h0M451.3 1922.6h0M462.1 1764.7h0M414.4 1930.1h0M421.5 1869.3h0M415.1 2009.1h0M434.2 1976.7h0M450.2 1947.9h0M425.2 1961.1h0M434 1992.8h0M415.9 1930.8h0M414.6 1998.3h0M426.5 1904.1h0M421.9 1955.9h0M416.2 2011.4h0M425.7 2007.5h0M465 1959.6h0M422.4 2009h0M421.9 1936.7h0M419.3 2001.2h0M420.1 1927.3h0M427.8 1860.7h0M420 1990h0M421.9 1926.2h0M416.8 1963.1h0M415.9 1940.1h0M420.4 1892.8h0M420.7 1977.1h0M415.8 1928.7h0M496.3 1993h0M419.9 1882.2h0M442.4 2003.6h0M422.7 2011.5h0M423.3 1983.2h0M421.4 1960.8h0M415.9 2012.1h0M414.2 1990.7h0M432.5 2009.1h0M424.6 2009.2h0M417 1987.4h0M482 1464h0M517.5 1518.8h0M556 1537h0M500 1543.8h0M530 1575.8h0M483.8 1591.2h0M466.8 1630.8h0M585.5 1635.5h0M571 1642.2h0M445.8 1654.5h0M440.5 1713.2h0M431.8 1719.5h0M592 1804h0M604 1917.2h0M592.2 1930.2h0M572.8 1947.2h0M559.2 1904.5h0M549 1884.5h0M527.8 1735.8h0M537.8 1744.2h0M497.5 1758.2h0M481.5 1737.2h0M497.8 1804h0M514.2 1819.2h0M526.2 1828.5h0M532.2 1926h0M532.5 1949.8h0M518.5 1949.5h0M522.8 1955.5h0M525 1967.5h0M534.2 1976.2h0M530.8 1981.8h0M526.2 1978.2h0M521.8 1976.8h0M525 1984.5h0" stroke="#ff0000" stroke-width="4.3" stroke-linecap="round" fill="none"/>
<path d="M340.35 1442V2037M412.55 1442V2037M77.8 2012.7H634.3" stroke="#adadad" stroke-width="1.6" fill="none"/>
<rect x="77.8" y="1442" width="556.5" height="595" fill="none" stroke="#2a2a2a" stroke-width="1.5" stroke-linejoin="round"/>
<path d="M87.45 2037v10.4M159.65 2037v10.4M231.85 2037v10.4M304.05 2037v10.4M376.25 2037v10.4M448.45 2037v10.4M520.65 2037v10.4M592.85 2037v10.4M77.8 2015h-10.4M77.8 1924h-10.4M77.8 1833h-10.4M77.8 1742h-10.4M77.8 1651h-10.4M77.8 1560h-10.4M77.8 1469h-10.4" stroke="#2a2a2a" stroke-width="1.5" fill="none"/>
<text x="87.45" y="2072.5" text-anchor="middle" font-family="'Liberation Sans', sans-serif" font-size="16.2" fill="#000" stroke="#000" stroke-width="0.3">−8</text>
<text x="159.65" y="2072.5" text-anchor="middle" font-family="'Liberation Sans', sans-serif" font-size="16.2" fill="#000" stroke="#000" stroke-width="0.3">−6</text>
<text x="231.85" y="2072.5" text-anchor="middle" font-family="'Liberation Sans', sans-serif" font-size="16.2" fill="#000" stroke="#000" stroke-width="0.3">−4</text>
<text x="304.05" y="2072.5" text-anchor="middle" font-family="'Liberation Sans', sans-serif" font-size="16.2" fill="#000" stroke="#000" stroke-width="0.3">−2</text>
<text x="376.25" y="2072.5" text-anchor="middle" font-family="'Liberation Sans', sans-serif" font-size="16.2" fill="#000" stroke="#000" stroke-width="0.3">0</text>
<text x="448.45" y="2072.5" text-anchor="middle" font-family="'Liberation Sans', sans-serif" font-size="16.2" fill="#000" stroke="#000" stroke-width="0.3">2</text>
<text x="520.65" y="2072.5" text-anchor="middle" font-family="'Liberation Sans', sans-serif" font-size="16.2" fill="#000" stroke="#000" stroke-width="0.3">4</text>
<text x="592.85" y="2072.5" text-anchor="middle" font-family="'Liberation Sans', sans-serif" font-size="16.2" fill="#000" stroke="#000" stroke-width="0.3">6</text>
<text transform="translate(54.9 2015) rotate(-90)" text-anchor="middle" font-family="'Liberation Sans', sans-serif" font-size="16.2" fill="#000" stroke="#000" stroke-width="0.3">0</text>
<text transform="translate(54.9 1924) rotate(-90)" text-anchor="middle" font-family="'Liberation Sans', sans-serif" font-size="16.2" fill="#000" stroke="#000" stroke-width="0.3">50</text>
<text transform="translate(54.9 1833) rotate(-90)" text-anchor="middle" font-family="'Liberation Sans', sans-serif" font-size="16.2" fill="#000" stroke="#000" stroke-width="0.3">100</text>
<text transform="translate(54.9 1742) rotate(-90)" text-anchor="middle" font-family="'Liberation Sans', sans-serif" font-size="16.2" fill="#000" stroke="#000" stroke-width="0.3">150</text>
<text transform="translate(54.9 1651) rotate(-90)" text-anchor="middle" font-family="'Liberation Sans', sans-serif" font-size="16.2" fill="#000" stroke="#000" stroke-width="0.3">200</text>
<text transform="translate(54.9 1560) rotate(-90)" text-anchor="middle" font-family="'Liberation Sans', sans-serif" font-size="16.2" fill="#000" stroke="#000" stroke-width="0.3">250</text>
<text transform="translate(54.9 1469) rotate(-90)" text-anchor="middle" font-family="'Liberation Sans', sans-serif" font-size="16.2" fill="#000" stroke="#000" stroke-width="0.3">300</text>
<text x="356" y="2106" text-anchor="middle" font-family="'Liberation Sans', sans-serif" font-size="16.2" fill="#000" stroke="#000" stroke-width="0.3">log<tspan font-size="11.3" dy="3.6">2</tspan><tspan dy="-3.6"> fold change</tspan></text>
<text transform="translate(12.8 1739) rotate(-90)" text-anchor="middle" font-family="'Liberation Sans', sans-serif" font-size="16.2" fill="#000" stroke="#000" stroke-width="0.3">−log<tspan font-size="11.3" dy="3.6">10</tspan><tspan dy="-3.6">pvalue</tspan></text>
<rect x="91.3" y="1456.5" width="86.3" height="77.8" fill="#fff" stroke="#2a2a2a" stroke-width="1.2" stroke-linejoin="round"/>
<circle cx="103.2" cy="1480.1" r="3.5" fill="#808a87"/>
<text x="114.6" y="1484.4" font-family="'Liberation Sans', sans-serif" font-size="13.3" fill="#000" stroke="#000" stroke-width="0.3">Filtered</text>
<circle cx="103.2" cy="1495.5" r="3.5" fill="#ff0000"/>
<text x="114.6" y="1499.8" font-family="'Liberation Sans', sans-serif" font-size="13.3" fill="#000" stroke="#000" stroke-width="0.3">Sig.Up</text>
<circle cx="103.2" cy="1510.9" r="3.5" fill="#00ff00"/>
<text x="114.6" y="1515.2" font-family="'Liberation Sans', sans-serif" font-size="13.3" fill="#000" stroke="#000" stroke-width="0.3">Sig.Down</text>
</g>
<text x="949.1" y="1430.6" font-family="'Liberation Serif', serif" font-size="57.3" fill="#111" stroke="#111" stroke-width="0.9" stroke-linejoin="round">F</text>
<g>
<path d="M1215 1995.2L1216.1 1994.6L1217.2 1992.8L1218.4 1991.1L1219.5 1989.5L1220.6 1987.9L1221.7 1986.4L1222.8 1984.9L1223.9 1983.5L1225 1982.1L1226.1 1980.8L1227.3 1979.5L1228.4 1978.3L1229.5 1977.1L1230.6 1976L1231.7 1974.9L1232.8 1973.9L1233.9 1972.9L1235 1972L1236.1 1971.1L1237.3 1970.3L1238.4 1969.5L1239.5 1968.7L1240.6 1968L1241.7 1967.3L1242.8 1966.7L1243.9 1966L1245 1965.5L1246.2 1964.9L1247.3 1964.4L1248.4 1963.9L1249.5 1963.6L1250.6 1966.1L1251.7 1968.5L1252.8 1970.9L1253.9 1973.3L1255.1 1975.6L1256.2 1977.8L1257.3 1980.1L1258.4 1982.3L1259.5 1984.4L1260.6 1986.5L1261.7 1988.6L1262.8 1990.6L1264 1992.6L1265.1 1994.5L1266.2 1996.4L1267.3 1998.2L1268.4 1999.9L1269.5 2001.6L1270.6 2003.3L1271.7 2004.9L1272.9 2006.4L1274 2007.8L1275.1 2009.2L1276.2 2010.4L1277.3 2011.6L1278.4 2012.7L1279.5 2013.6L1280.6 2014.3L1281.8 2014.8L1282.9 2014.3L1284 2013.6L1285.1 2012.7L1286.2 2011.6L1287.3 2010.4L1288.4 2009.2L1289.5 2007.8L1290.6 2006.4L1291.8 2004.9L1292.9 2003.3L1294 2001.6L1295.1 1999.9L1296.2 1998.2L1297.3 1996.4L1298.4 1994.5L1299.5 1992.6L1300.7 1990.6L1301.8 1988.6L1302.9 1986.5L1304 1984.4L1305.1 1982.3L1306.2 1980.1L1307.3 1977.8L1308.4 1975.6L1309.6 1973.3L1310.7 1970.9L1311.8 1968.5L1312.9 1966.1L1314 1963.6L1315.1 1963.9L1316.2 1964.4L1317.3 1964.9L1318.5 1965.5L1319.6 1966L1320.7 1966.7L1321.8 1967.3L1322.9 1968L1324 1968.7L1325.1 1969.5L1326.2 1970.3L1327.4 1971.1L1328.5 1972L1329.6 1972.9L1330.7 1973.9L1331.8 1974.9L1332.9 1976L1334 1977.1L1335.1 1978.3L1336.2 1979.5L1337.4 1980.8L1338.5 1982.1L1339.6 1983.5L1340.7 1984.9L1341.8 1986.4L1342.9 1987.9L1344 1989.5L1345.1 1991.1L1346.3 1992.8L1347.4 1994.6L1348.5 1995.2L1348.5 1995.2L1347.4 1995.9L1346.3 1996.5L1345.1 1997.2L1344 1997.8L1342.9 1998.4L1341.8 1999L1340.7 1999.6L1339.6 2000.2L1338.5 2000.8L1337.4 2001.3L1336.2 2001.9L1335.1 2002.4L1334 2002.9L1332.9 2003.5L1331.8 2004L1330.7 2004.5L1329.6 2004.9L1328.5 2005.4L1327.4 2005.9L1326.2 2006.3L1325.1 2006.8L1324 2007.2L1322.9 2007.6L1321.8 2008L1320.7 2008.4L1319.6 2008.8L1318.5 2009.2L1317.3 2009.5L1316.2 2009.9L1315.1 2010.2L1314 2010.5L1312.9 2010.9L1311.8 2011.2L1310.7 2011.5L1309.6 2011.7L1308.4 2012L1307.3 2012.3L1306.2 2012.5L1305.1 2012.8L1304 2013L1302.9 2013.2L1301.8 2013.4L1300.7 2013.6L1299.5 2013.8L1298.4 2014L1297.3 2014.1L1296.2 2014.3L1295.1 2014.4L1294 2014.5L1292.9 2014.7L1291.8 2014.8L1290.6 2014.9L1289.5 2014.9L1288.4 2015L1287.3 2015.1L1286.2 2015.1L1285.1 2015.2L1284 2015.2L1282.9 2015.2L1281.8 2015.2L1280.6 2015.2L1279.5 2015.2L1278.4 2015.2L1277.3 2015.1L1276.2 2015.1L1275.1 2015L1274 2014.9L1272.9 2014.9L1271.7 2014.8L1270.6 2014.7L1269.5 2014.5L1268.4 2014.4L1267.3 2014.3L1266.2 2014.1L1265.1 2014L1264 2013.8L1262.8 2013.6L1261.7 2013.4L1260.6 2013.2L1259.5 2013L1258.4 2012.8L1257.3 2012.5L1256.2 2012.3L1255.1 2012L1253.9 2011.7L1252.8 2011.5L1251.7 2011.2L1250.6 2010.9L1249.5 2010.5L1248.4 2010.2L1247.3 2009.9L1246.2 2009.5L1245 2009.2L1243.9 2008.8L1242.8 2008.4L1241.7 2008L1240.6 2007.6L1239.5 2007.2L1238.4 2006.8L1237.3 2006.3L1236.1 2005.9L1235 2005.4L1233.9 2004.9L1232.8 2004.5L1231.7 2004L1230.6 2003.5L1229.5 2002.9L1228.4 2002.4L1227.3 2001.9L1226.1 2001.3L1225 2000.8L1223.9 2000.2L1222.8 1999.6L1221.7 1999L1220.6 1998.4L1219.5 1997.8L1218.4 1997.2L1217.2 1996.5L1216.1 1995.9L1215 1995.2Z" fill="#808a87"/>
<path d="M1339.3 1986.8h0M1271.4 2007h0M1240 1970.2h0M1283.5 2013.4h0M1293.8 2003.6h0M1344.9 1936h0M1303.5 2001.4h0M1278.2 2012.3h0M1238.7 1990.2h0M1324.6 1997.5h0M1251.3 1980.8h0M1258.8 2000.8h0M1288.4 2011.7h0M1320.2 1990.4h0M1236.7 1968.6h0M1323.7 1953h0M1260.9 1982.6h0M1240.2 1990.3h0M1342.8 1966.5h0M1285.7 2011h0M1271.1 2002.4h0M1260.4 1983.8h0M1269.9 2003.4h0M1300.7 2001.3h0M1289.5 2009h0M1247.7 1952.4h0M1290.2 2008.4h0M1274.9 2008.7h0M1265.1 1993.4h0M1306.3 2004.4h0M1271.3 2007.4h0M1287.1 2010.9h0M1254.4 1972.3h0M1281.5 2013.4h0M1296 2006.4h0M1344 1944.9h0M1270.9 2006.2h0M1251.7 2005h0M1249.8 2003h0M1230.4 1940.6h0M1330.3 1979.6h0M1299.9 2011h0M1251.4 1967.7h0M1314 1987.4h0M1253.7 1980h0M1310.1 1984.2h0M1325.3 1977.4h0M1226.5 1896.8h0M1271.8 2007.3h0M1273.1 2009.9h0M1314.9 1958.3h0M1346.5 1973.9h0M1318.9 1981.6h0M1316.7 1975.8h0M1269.1 2006.4h0M1293.9 2007h0M1256.7 2004.1h0M1292 2002.2h0M1298.4 1992.1h0M1303.6 1997.7h0M1327.8 1998.8h0M1266.9 1994.3h0M1310 2002.3h0M1287.5 2011h0M1300.9 2003.7h0M1315.7 1996.8h0M1345.9 1951.5h0M1280.8 2013.4h0M1229 1992.3h0M1311.5 1963.2h0M1283.3 2012.7h0M1332.6 1980.4h0M1313.2 1999.6h0M1222.3 1907.1h0M1291.5 2004.7h0M1232.9 1946.7h0M1336.5 1950.6h0M1242.2 1946.9h0M1272 2007.8h0M1284.8 2011.5h0M1327.7 1980.6h0M1325.5 1929h0M1282.9 2013.3h0M1281.9 2013.5h0M1264.1 1991.2h0M1235.6 2000.5h0M1234.7 1930.6h0M1314.1 1990h0M1272 2008h0M1268.7 2001.3h0M1333.2 1899.9h0M1330.3 1992.8h0M1318.6 1965.4h0M1342.3 1975.5h0M1285.8 2011.8h0M1300.2 1988.2h0M1314.2 1975.7h0M1259.9 2000.8h0M1225 1941h0M1229.8 1932.2h0M1346.8 1949h0M1299 1996.3h0M1313.2 1978.3h0M1221 1942.3h0M1321.3 1998.3h0M1273 2005.3h0M1227.7 1935.8h0M1275.8 2009.4h0M1329.4 1934.5h0M1282.4 2013.3h0M1313 1980.8h0M1337.8 1971.5h0M1303.1 2005.6h0M1316.8 1959.4h0M1284.8 2012.6h0M1229.7 1978.3h0M1326.7 1984.2h0M1300.4 2009.8h0M1240.1 1934.8h0M1287.2 2013.4h0M1314 2007.4h0M1258.2 2008.2h0M1250.6 1969.6h0M1226.7 1971.6h0M1281.3 2013.5h0M1304.3 2011h0M1298.7 2003.3h0M1292.6 2012.6h0M1325 1965.4h0M1321.6 1983.2h0M1298.4 2005.4h0M1244.4 2003.6h0M1267.8 2002.7h0M1336.3 1942.8h0M1271.5 2011.8h0M1290.9 2009.4h0M1323.2 1937.4h0M1323.3 2001h0M1340.3 1961.8h0M1260.1 2006.5h0M1314.2 1955.6h0M1235.5 1987.1h0M1245.6 1993.9h0M1276.3 2010.7h0M1239.5 1941.8h0M1324.3 1999.2h0M1301.2 1986.1h0M1260 1981.2h0M1258.7 1980.7h0M1290.9 2007.2h0M1236.4 2001.1h0M1320.1 1968.5h0M1285.4 2012.5h0M1307.6 1988.1h0M1234.3 1974.3h0M1256.7 2003.6h0M1272.5 2007.6h0M1295.7 2005.7h0M1294.7 2006.4h0M1238.3 1948.3h0M1313.6 2004.3h0M1298.3 1990.5h0M1266.7 1995.3h0M1323.9 1950.4h0M1307.9 2004.3h0M1257.1 1983h0M1261.9 2011.2h0M1298.7 1989.6h0M1323.2 1950.4h0M1251 1977.3h0M1263.1 1992.8h0M1252 1968.4h0M1313.8 1962.3h0M1262.9 2001.3h0M1306.4 1997.6h0M1316.7 1967.4h0M1327.8 1957.5h0M1311.6 2000h0M1258.1 1975.4h0M1321 1964.7h0M1264.9 2002.4h0M1282.9 2013.2h0M1274.4 2007.1h0M1303.6 1997.7h0M1273.3 2012.6h0M1221.2 1943.3h0M1241.3 1989h0M1253.4 1975.5h0M1299.6 1995.6h0M1328.1 2000.1h0M1321.2 2001.2h0M1298.1 2003.5h0M1286.6 2010.3h0M1254.7 2006.5h0M1254.3 1994.9h0M1276.9 2012.2h0M1287.3 2008.9h0M1246.1 1967.1h0M1247.7 1992.1h0M1220.1 1964.6h0M1318.4 1985.5h0M1257.7 1977.5h0M1332.1 1966.6h0M1331.3 1988.8h0M1237.4 1998.4h0M1272.4 2004.1h0M1317.1 1982.7h0M1217.4 1949.8h0M1220.9 1888.8h0M1283.1 2013h0M1333.8 1910.9h0M1298.8 2003.5h0M1255.7 1987.9h0M1221.9 1946.1h0M1311.9 2001.7h0M1279.5 2013.1h0M1294.8 2004.2h0M1315.9 1979.8h0M1256.9 1972.6h0M1336.4 1951.3h0M1286.6 2012h0M1281.9 2013.5h0M1275.4 2012.1h0M1273.6 2007.6h0M1246.1 2000.6h0M1275.9 2009.2h0M1314.4 1962.5h0M1292 2008.1h0M1344.6 1866h0M1231.4 1943.1h0M1287.8 2011.4h0M1253.8 1997.1h0M1300.6 2011.4h0M1323.5 1948.7h0M1302.1 1993.7h0M1257.3 2002.3h0M1287.1 2012.5h0M1286.4 2011h0M1224.1 1980.6h0M1306.5 1983.8h0M1266.5 1996.5h0M1265 1991.8h0M1237.9 1965.7h0M1222.4 1906.5h0M1273.8 2010.1h0M1252.6 1980.6h0M1229.6 1982.9h0M1235.8 1960.2h0M1345.2 1944h0M1246.6 1993.1h0M1285.8 2013h0M1288 2010.7h0M1234.1 1992.5h0M1319.2 2000h0M1241.2 1936.2h0M1314.6 1964.5h0M1324.4 1958.8h0M1321.6 1947h0M1248.5 1966.2h0M1280.9 2013.3h0M1278 2012h0M1234.1 1971.9h0M1283.8 2013.1h0M1325.7 1942.5h0M1337.9 1966.8h0M1277.5 2013.2h0M1249.4 2007.7h0M1287.7 2012.9h0M1245.8 1945.7h0M1253.7 1986.5h0M1285.6 2012.9h0M1223.7 1993.4h0M1282.4 2013.5h0M1334.3 1948.9h0M1297.5 2002.8h0M1261.8 2005.6h0M1322.5 1948.6h0M1214.9 1971.2h0M1243.6 1997.6h0M1282 2013.5h0M1281.3 2013.5h0M1312.6 2002.7h0M1271.2 2009.1h0M1269.9 2000.5h0M1317.9 1958.5h0M1274.5 2008.9h0M1294.3 2005.2h0M1257.5 2008.5h0M1235.1 1914.1h0M1302.3 2009.3h0M1344.3 1946.2h0M1343.2 1947.1h0M1308.4 2006.4h0M1331.2 1955.5h0M1278.8 2012.7h0M1217.2 1907.3h0M1289.8 2009.5h0M1273 2004.4h0M1334.7 1954h0M1240.1 1937.9h0M1326.5 2003.1h0M1256.3 1998.7h0M1335.9 1937.8h0M1299 2008.1h0M1311.7 2008.1h0M1244.7 1960.1h0M1308.1 2003h0M1250.2 1987.9h0M1340.7 1979.6h0M1242.8 1990.9h0M1243.4 1984h0M1250.2 1958.6h0M1218.4 1955.8h0M1256.1 1984h0M1333.2 1962.6h0M1262.8 1999h0M1224.4 1964h0M1339.4 1973.8h0M1231.4 1960.4h0M1281.2 2013.3h0M1327.2 1939.9h0M1318.4 1954h0M1306.6 1988h0M1248.1 1958.8h0M1317.5 1959.3h0M1313.9 1980.7h0M1275.6 2012.2h0M1330.1 1968.2h0M1339.5 1902.3h0M1284 2013.3h0M1262.7 1994h0M1284.2 2013.4h0M1285.2 2012.8h0M1324.3 1980.1h0M1344.3 1975.7h0M1216.2 1986.7h0M1342 1974.6h0M1344.5 1923h0M1292.6 2002.9h0M1229.4 1950.6h0M1296.1 2009.9h0M1226.1 1955.1h0M1283.5 2013h0M1324.9 1981.5h0M1303.5 1994.9h0M1296.8 2002.4h0M1300.7 1986.2h0M1283.2 2013.2h0M1287.7 2009.6h0M1276.7 2009.2h0M1263 2003.2h0M1333.5 1954.5h0M1246.4 1967.5h0M1263.9 2006.2h0M1232.1 1962h0M1239 1935.8h0M1278 2011.7h0M1264.7 1999.5h0M1215.5 1950.5h0M1283.3 2012.8h0M1254.3 1972.8h0M1337.6 1939.9h0M1297.5 2005.2h0M1269.2 2002.9h0M1214.8 1925.6h0M1323.6 1991.9h0M1258.3 2005.6h0M1255.6 1977.1h0M1246.8 1973.1h0M1276.3 2010.1h0M1326.1 1970.6h0M1270.2 2008.5h0M1279.1 2012.1h0M1297.4 1997.2h0M1271.8 2006h0M1330 1996.8h0M1312.9 1958.8h0M1296.5 2011.7h0M1343.1 1870.1h0M1290.3 2012.6h0M1250.6 1966.4h0M1236.2 1957.3h0M1288.3 2011.8h0M1261.6 1994.9h0M1269.4 2004.3h0M1237.7 1956.2h0M1272.9 2009.9h0M1319.9 1975.7h0M1315.3 1958.6h0M1304.7 2009.1h0M1298 2000.1h0M1333.7 1974.7h0M1289 2010.9h0M1302.6 1982h0M1289.7 2010.2h0M1261.8 2000.5h0M1299.9 2010.8h0M1229.8 1918h0M1320.9 1968.8h0M1309.9 1973.3h0M1307.5 1992.1h0M1278.1 2013h0M1249.2 1961.7h0M1303.3 1990.5h0M1289.6 2007.8h0M1239.6 1933.6h0M1297.8 1992.2h0M1282.5 2013.3h0M1264.3 2006.9h0M1256.8 1978.7h0M1309.3 1981.6h0M1274.6 2012.5h0M1306 1987.6h0M1272.5 2006.4h0M1216.8 1918h0M1269.1 2002.9h0M1260.1 2010h0M1237.2 1934.5h0M1305.4 1981.8h0M1271.9 2004.8h0M1300.6 2000.2h0M1327.1 1989.4h0M1258.5 2000.4h0M1256.4 2003.5h0M1275.4 2007.7h0M1288.4 2012.2h0M1319.6 1998.8h0M1337 1962.1h0M1251.3 1983.2h0M1329.4 1972.4h0M1252 1987.6h0M1269.3 1999.8h0M1279.5 2013h0M1303.4 1997.6h0M1337.1 1947.6h0M1228.6 1962.2h0M1309.1 1973.7h0M1243.3 1982.2h0M1338.6 1883.3h0M1259.3 1998.2h0M1297 1994.2h0M1344.3 1896.6h0M1223.8 1914.5h0M1303.9 2001h0M1263.2 1996.1h0M1344.2 1978.7h0M1334.7 1991.2h0M1312.9 2005.4h0M1294.2 2006.7h0M1290.5 2005.6h0M1281.6 2013.5h0M1327.3 1986h0M1320.9 1985.5h0M1290.6 2005.3h0M1239.6 1984.8h0M1248 2001.1h0M1284.2 2012.4h0M1316.3 2006.9h0M1234.1 1930.7h0M1329.4 1997.9h0M1222 1964h0M1346.4 1992h0M1234.2 1991.5h0M1305.8 2006.5h0M1266.9 2009.1h0M1297.4 2011.7h0M1252.1 2003.8h0M1250.6 1984.1h0M1216.4 1973.9h0M1324.6 1928.8h0M1239.3 2002.9h0M1306 1985.8h0M1337 1971.5h0M1317.4 1954.3h0M1299.7 1996.3h0M1225.6 1882.9h0M1279.7 2012.3h0M1222.2 1954.9h0M1290 2009.3h0M1228.8 1946.8h0M1304.7 2009.9h0M1315.3 1993.7h0M1346.7 1983.3h0M1274 2008.9h0M1231.1 1975.9h0M1244.1 1967.9h0M1343.2 1953h0M1251.4 1991.3h0M1244.5 1960.7h0M1302 2005.4h0M1311 1977.2h0M1269.4 2008.4h0M1311.7 1966.6h0M1310.6 2004.3h0M1321.4 1946.9h0M1288 2012.8h0M1309.7 1975.2h0M1260.2 1993.4h0M1298.8 2005h0M1255.1 1987.8h0M1301.6 1999.1h0M1321.5 1978.9h0M1302.4 2001.4h0M1236.8 1928.2h0M1218.7 1942.7h0M1248.2 1965.6h0M1261 1993.4h0M1277.9 2012.8h0M1281 2013.3h0M1333.8 1984.4h0M1344.5 1960.8h0M1243.6 1977.8h0M1338.6 1962.4h0M1303.2 2010.8h0M1224.6 1982.7h0M1247 1996h0M1314 2003.2h0M1225.6 1928.7h0M1253.5 2003.1h0M1255.6 1973.4h0M1264.6 2003.5h0M1279.1 2013.2h0M1245.3 1976.3h0M1310.7 2000.4h0M1254.4 1979.8h0M1344.6 1935h0M1285.8 2011h0M1341.4 1975.4h0M1283.1 2013.3h0M1281.6 2013.5h0M1247.9 2005.5h0M1305.5 2006h0M1222.4 1951.6h0M1252.7 1968.1h0M1299.7 1993.9h0M1236.8 1964.3h0M1278.6 2011.6h0M1310.8 1978.1h0M1245.9 1945.9h0M1339.1 1971.5h0M1273.2 2010.6h0M1239.9 1947h0M1314.9 1959.7h0M1322.4 1934.1h0M1319.6 1971.3h0M1217 1931.1h0M1215.7 1976.8h0M1243 1983.7h0M1218.8 1984.9h0M1257 1985.8h0M1255.6 2000.2h0M1270.8 2006h0M1322.3 1958.4h0M1316.7 1982.8h0M1279.2 2012.3h0M1245 1972.3h0M1282.5 2013.4h0M1264.3 2008.4h0M1250.5 1985.1h0M1264.3 2001.2h0M1240.1 1987.3h0M1232.5 1993.3h0M1324.9 1969.8h0M1260.9 1989.5h0M1253.7 1996.9h0M1243.4 1943.6h0M1286.1 2012.2h0M1236.3 1972.6h0M1242.8 1947.5h0M1231.7 1952.7h0M1242.1 1935.9h0M1264.8 2010.2h0M1294.5 2008.2h0M1302.2 2005.9h0M1332.4 1992.5h0M1222.7 1950.6h0M1247.3 1973.8h0M1257.2 1994.4h0M1338.9 1963.7h0M1225.8 1949.7h0M1231.8 1904h0M1289.4 2009.3h0M1321.1 2001.8h0M1270.5 2001.4h0M1264.4 2010.2h0M1227.7 1999.2h0M1330.8 1941.6h0M1344.3 1968.4h0M1334.6 1991.6h0M1240.9 1950.6h0M1273.2 2010.2h0M1313 1973.1h0M1316.6 1958.9h0M1316.7 1989.5h0M1298.4 1994.5h0M1227.8 1928.5h0M1345.3 1979.1h0M1304.3 1983.1h0M1315.7 1995.5h0M1257.7 2008.3h0M1292.6 2010.1h0M1282.1 2013.4h0M1216 1839h0M1314.2 2007.9h0M1262.6 1989.4h0M1330.7 1918.9h0M1326.4 1992h0M1217.5 1891.7h0M1272 2007.2h0M1254.6 1984.8h0M1315.7 1979.8h0M1218.3 1915.3h0M1250.4 2003.9h0M1323.9 1935.7h0M1328.9 1992.5h0M1265.1 1999.6h0M1214.9 1951.5h0M1270 2001.4h0M1309.7 1989.8h0M1253.3 1990.4h0M1346.4 1947.2h0M1246.9 1990.6h0M1223.3 1904h0M1248.2 1959.7h0M1282.3 2013.3h0M1296.1 2005.9h0M1225.5 1992h0M1234.1 1940.5h0M1304.2 1984.5h0M1275.4 2011.1h0M1267.1 1999.4h0M1309.6 2008h0M1280 2013.2h0M1312.7 1995.3h0M1284 2012.9h0M1265.1 2011.4h0M1342.9 1936.6h0M1265 1998.3h0M1275.2 2010.3h0M1330.2 1997.5h0M1257.1 1982.3h0M1315.5 1986.8h0M1302.2 2001.4h0M1282.7 2013.2h0M1285.4 2012.7h0M1318.8 2004.3h0M1280.6 2013.3h0M1243.3 1978h0M1285.3 2013h0M1289 2007.1h0M1341 1993.7h0M1335.9 1989.3h0M1251.1 2002.3h0M1269.4 2007.3h0M1246.4 2000.4h0M1320.2 1977.9h0M1263.4 2006.2h0M1297.1 1999.4h0M1244.8 2001h0M1228.3 1961.9h0M1226.8 1944.2h0M1337.1 1899.2h0M1243.7 1969.4h0M1238.9 1947.7h0M1309.6 1978.5h0M1348.5 1960.8h0M1339.9 1975.7h0M1262.8 1997.9h0M1303.2 2004.1h0M1251.1 1970.1h0M1298.8 1991.9h0M1279.8 2013.4h0M1239.3 1936.7h0M1329.2 1945.1h0M1306 2007.4h0M1267.6 2006.6h0M1246.1 2006.9h0M1251.1 1993.9h0M1291.8 2005h0M1319.8 1994.1h0M1289.9 2008.5h0M1225.1 1990h0M1331.3 1997.2h0M1303.6 2007.6h0M1247.6 1991.3h0M1241.7 2002.8h0M1344.3 1930.6h0M1298.9 2003.5h0M1274.4 2006.6h0M1337.6 1968.5h0M1229.9 1953.4h0M1260.8 1986.4h0M1293.7 2003.1h0M1293.4 2012.6h0M1230 1914.7h0M1275.2 2011.2h0M1336.1 1953.5h0M1270.1 2010h0M1336.1 1933.7h0M1228.1 1979.8h0M1229.5 1925.1h0M1258.4 1989.4h0M1326.3 1919.9h0M1315.5 1953h0M1224.4 1903.3h0M1323.5 1951.4h0M1343.2 1965.4h0M1301 1987.3h0M1337.8 1987.8h0M1310.7 1978.4h0M1275.4 2008.5h0M1295.1 2006.4h0M1338.8 1991.4h0M1278.8 2013.1h0M1288.3 2011.1h0M1236.5 1949.9h0M1342.1 1969h0M1277.7 2013.1h0M1269.5 2001.6h0M1239.7 1948.9h0M1266.5 2000.2h0M1256.2 1974.4h0M1265.8 2009.3h0M1335.6 1919.7h0M1333.9 1961.6h0M1245.6 1986.6h0M1272.5 2011.8h0M1249.7 1980.1h0M1329.2 1930.2h0M1264.9 1996.5h0M1263.9 1993.3h0M1326.7 1932.3h0M1279.5 2013h0M1264.1 2003.6h0M1321 1963.7h0M1338 1911h0M1334.2 1954.2h0M1319.3 2005.5h0M1284.5 2013.4h0M1232.9 1973.3h0M1276.4 2009.6h0M1322.3 2004.3h0M1298.7 1995.1h0M1274.4 2007.6h0M1267.7 2000.4h0M1334.6 1913.3h0M1259.6 2008.1h0M1298.6 2008.8h0M1299.2 2008.6h0M1238.7 2000.1h0M1344.2 1991.5h0M1331.3 1938h0M1304 1990.8h0M1227.3 1946.2h0M1218.9 1949.2h0M1290.5 2012.9h0M1286.6 2012.2h0M1317 1998.7h0M1306.3 1981.7h0M1257.9 1996h0M1223.6 1933.2h0M1227.3 1990h0M1277.2 2011h0M1319.7 1973.9h0M1270.2 2001.2h0M1254.9 1991.8h0M1296.9 2009h0M1290 2010.9h0M1289 2012.4h0M1287.5 2010.4h0M1283.2 2013.2h0M1224.1 1941.4h0M1229.9 1937.6h0M1249.8 1990.7h0M1261 1989.9h0M1244.3 2005.2h0M1273.2 2009.4h0M1259.4 1998.6h0M1232.5 1907.7h0M1275.6 2011.9h0M1262.7 1990.9h0M1335.5 1938.4h0M1231.5 1921.5h0M1253.3 1990.2h0M1303.7 1982.6h0M1318.3 1944.5h0M1276.6 2012.8h0M1279 2012.4h0M1322.2 1944.8h0M1225.1 1958.5h0M1268.6 2002.3h0M1271.8 2010.8h0M1293.6 2001.1h0M1268.1 2001.7h0M1241 1941.9h0M1329.9 1946.5h0M1264.4 1991.8h0M1344 1927.7h0M1239.9 1943.8h0M1323.3 1962.9h0M1318 1967.5h0M1342.3 1897.6h0M1235.7 1929.4h0M1251.1 1971.3h0M1247.1 1950.2h0M1232.7 1989h0M1283.5 2012.5h0M1330.4 1984.6h0M1296 2005.9h0M1249.6 1957.1h0M1334.1 1977.8h0M1274.2 2012.1h0M1269.2 2009.8h0M1273.7 2010.8h0M1345.1 1927.8h0M1307.7 1979h0M1270.6 2002.4h0M1256.2 2004.8h0M1313.6 1977.6h0M1260.7 2002.5h0M1235.4 1968.2h0M1284.8 2012.9h0M1287.4 2010.1h0M1266.5 2005.1h0M1252.6 1997h0M1325.3 1986.1h0M1264.7 2007h0M1277.4 2012.8h0M1330.8 1964.6h0M1344 1941h0M1313.3 1985.2h0M1320.6 1980h0M1265.2 2005.1h0M1283.8 2012.7h0M1264.7 2005.5h0M1270.3 2008.2h0M1223.6 1902.9h0M1260.4 1982.7h0M1237.8 1987.1h0M1276.6 2013h0M1226.5 1987.4h0M1282.8 2013.3h0M1225.4 1955.8h0M1298.9 2000.3h0M1273.2 2009.5h0M1337.8 1993.5h0M1280.3 2013h0M1298.1 2002.1h0M1238.2 1988.5h0M1252.8 1994.1h0M1291.8 2008.9h0M1308.5 1980.8h0M1301.5 1986.4h0M1299.1 1989.4h0M1309.1 1970.6h0M1271.8 2008.5h0M1296.9 1999.2h0M1218.9 1942.1h0M1325 1972.3h0M1261 1983.7h0M1226.3 1985.1h0M1255 1971.3h0M1315.4 1966.5h0M1278.3 2011.5h0M1236.9 1940h0M1305 1999.7h0M1268.3 2007.1h0M1319.1 1947.1h0M1248.4 1970.8h0M1254.1 1981.8h0M1315.9 1995.9h0M1306.7 1995.3h0M1341.1 1937h0M1273.3 2010.9h0M1311.2 1997.3h0M1301.8 1995.2h0M1321.5 1954.9h0M1271.8 2008.6h0M1252.5 1993.4h0M1325.7 1985.5h0M1344.5 1897.1h0M1340.3 1976.6h0M1339.1 1917.8h0M1329.9 1996.9h0M1258.5 2008.5h0M1290.8 2006h0M1265.7 1997.5h0M1325.3 1957.1h0M1232.6 1924.1h0M1243.8 1988h0M1306.3 1975.2h0M1293.9 2005.5h0M1275.4 2008.4h0M1260.4 1997.7h0M1320.7 1981.5h0M1262.1 1993.8h0M1283.4 2013.3h0M1299.5 2002.4h0M1288.6 2010.7h0M1233.7 1949.1h0M1251.5 1969.3h0M1249.1 1958.5h0M1309.3 1975.2h0M1308.8 1988.9h0M1285.3 2011.4h0M1347.9 1915.8h0M1263.5 1998.8h0M1255.4 2004.8h0M1305.9 1978.3h0M1247.3 1978.7h0M1300.2 1990.2h0M1284.3 2012.9h0M1273.8 2008h0M1299.3 2009.2h0M1324.1 1990.6h0M1312.1 1989.4h0M1258.6 1977.4h0M1251.7 1978h0M1284.6 2012h0M1310.2 1990.1h0M1295 2005.5h0M1240.2 1971.5h0M1329 1951.6h0M1255.5 1994.4h0M1268.5 2002.5h0M1249.3 1971.3h0M1282 2013.5h0M1224.7 1946h0M1299 1997.7h0M1296.8 1995.7h0M1270.4 2004.9h0M1256.5 1982.6h0M1231.7 2001.6h0M1288.4 2009.2h0M1238.1 1988.6h0M1347.4 1921.8h0M1332.3 1965.6h0M1272.3 2008.6h0M1216.4 1903.7h0M1279.4 2012.5h0M1298.9 2010.5h0M1250 1979.8h0M1264.6 2006.2h0M1229.2 1911.3h0M1294.7 2007.5h0M1295.7 2010.4h0M1233.4 1979.2h0M1236.3 1926.9h0M1283.6 2012.5h0M1273.6 2011.4h0M1325.3 1934h0M1283.8 2012.9h0M1279.8 2012.9h0M1332.1 1949.3h0M1237.9 1957.8h0M1266.2 1994h0M1278.6 2013.4h0M1320.1 1977.1h0M1256.8 2006.6h0M1248.2 2003.3h0M1250.1 1966h0M1260.6 1999.5h0M1283.1 2013.4h0M1262.5 2000.8h0M1261.8 1988.8h0M1232.6 1960.1h0M1328.2 1986.6h0M1291.4 2004.9h0M1235.2 1972.4h0M1334.7 1999.3h0M1277.3 2011.7h0M1255.3 1991.6h0M1303 2007.2h0M1272.8 2011h0M1299.7 2010.5h0M1279.8 2012.4h0M1313.9 1972.3h0M1311.6 2001.4h0M1250.3 2003h0M1321.4 1992.2h0M1277.8 2011.6h0M1271.3 2006.2h0M1219.4 1953.2h0M1301.5 1989.6h0M1297.7 1995.9h0M1246.7 2000.8h0M1280.5 2013.1h0M1263.3 2003.3h0M1220.6 1991.5h0M1256.6 1984.8h0M1237.5 1943.7h0M1250.3 1976h0M1305.3 1979.3h0M1318.4 1977.1h0M1229.1 1961.9h0M1270.6 2004.4h0M1214.8 1834.9h0M1297.3 2011.2h0M1323.6 1969h0M1228.9 1984.4h0M1313.2 1990.4h0M1271.8 2010.2h0M1291.7 2011.8h0M1313.3 1984.8h0M1340.9 1941.1h0M1256.2 1997.4h0M1283 2013.3h0M1335.5 1939h0M1252.7 1988.5h0M1256.5 1983.2h0M1257.4 2005.9h0M1312.5 1990.1h0M1237.9 1974.6h0M1304.3 1978.3h0M1308.9 1969.3h0M1221.5 1922h0M1324.5 1980h0M1228 1973.8h0M1283.7 2013.1h0M1309.2 2005.1h0M1221.5 1996.3h0M1305.8 1989.4h0M1313 1977.3h0M1285.6 2011.1h0M1319.5 1963h0M1317.9 1970h0M1286.4 2010.4h0M1310.9 1980.6h0M1232.6 1972.5h0M1300.8 2001.6h0M1274.4 2011.8h0M1293.9 2008.4h0M1324 1971h0M1224.8 1972.2h0M1276.3 2011.3h0M1256 1978.3h0M1235.4 1928.6h0M1232.9 1975h0M1239.2 2002.9h0M1256.3 1997.8h0M1329.5 2000.5h0M1324.8 1973h0M1281.2 2013.4h0M1231.7 1918.8h0M1272.8 2010.7h0M1347.3 1983.7h0M1340.3 1924.5h0M1283 2013.4h0M1302.5 1998.8h0M1329.2 1989.1h0M1304 2006.4h0M1297.6 2006.7h0M1258.4 1995h0M1254.6 1977h0M1326.5 1919.1h0M1250 2001.1h0M1282.4 2013.4h0M1330.9 1988h0M1222.1 1949.5h0M1272.5 2011.4h0M1232.7 1959.2h0M1241.7 1939h0M1276.3 2010.9h0M1310.5 1983.6h0M1332.4 1968.3h0M1246.6 1972.4h0M1307.2 2010.5h0M1334.7 1972.7h0M1247.8 2004.9h0M1257.2 1980.1h0M1306.7 2002.7h0M1250.3 2003.2h0M1246.4 1995.2h0M1229.4 1949.8h0M1236.2 2000.6h0M1298.8 1991.8h0M1271.9 2012.2h0M1259.5 1985.1h0M1231.8 1984.8h0M1327.7 1983h0M1307.3 2001.3h0M1336.8 1889h0M1238.3 1939.4h0M1268.2 2005.9h0M1346.7 1892.7h0M1287.6 2010.5h0M1315.1 1975.5h0M1281.5 2013.4h0M1297.6 2002.9h0M1342.8 1982.4h0M1296 1995.9h0M1287 2012.3h0M1252.3 2005h0M1268 2009.5h0M1250.9 2002.7h0M1224 1983.7h0M1301.1 1994.4h0M1297.3 1994.2h0M1303.3 2006.6h0M1269.6 2000.1h0M1309.9 1990.8h0M1348.4 1935.6h0M1267.4 2005.2h0M1247.3 1971.2h0M1262.2 1993h0M1292 2005h0M1271 2001.6h0M1263 2006.7h0M1277.5 2012.4h0M1256.8 1973h0M1263.5 2007.8h0M1283.5 2012.9h0M1245.3 1992.1h0M1279.9 2013h0M1235 1957.4h0M1343 1909.2h0M1301.3 1993h0M1233.9 1974.7h0M1322.7 1975.7h0M1258.5 2000.3h0M1230.4 1969h0M1333.2 1948.2h0M1263 1997.1h0M1241.7 1962.8h0M1236.2 1937.1h0M1252 1977.8h0M1293.3 2001.4h0M1261.3 2008.8h0M1299.1 2009.8h0M1261 2004.4h0M1347.4 1972.3h0M1271.9 2003.3h0M1298.2 1993.2h0M1319.2 2001.5h0M1243.4 2000.2h0M1287.1 2010.9h0M1225 1992.8h0M1292.7 2012.3h0M1311.4 1973.5h0M1328.8 1936.6h0M1311 1968.9h0M1239.9 1950.9h0M1278.3 2012.7h0M1293.2 2012.2h0M1239.9 1966.9h0M1312.9 1961.6h0M1310.4 2004.4h0M1285.2 2012.6h0M1248.6 1980.1h0M1330.2 1957.7h0M1248.3 2004.4h0M1265 2011.5h0M1257.1 1999.4h0M1233.4 1924.5h0M1262.3 1991.6h0M1293.5 2005h0M1284.2 2012.4h0M1237.1 1984.1h0M1253 1975.7h0M1267.8 1998.7h0M1281.7 2013.5h0M1244.9 1963.6h0M1315.1 1982.9h0M1247 1957.1h0M1284.7 2012.3h0M1247.6 1950.1h0M1336.3 1929.1h0M1336.6 1955.5h0M1257.9 1987.5h0M1297.9 2003.8h0M1242.6 1974.5h0M1222.6 1936.2h0M1241 1997.4h0M1228.9 1985.8h0M1230.2 1930.6h0M1214.8 1964.5h0M1300.5 2006.9h0M1233.6 1912h0M1289.3 2012.4h0M1346.2 1912.4h0M1306.1 1978.7h0M1235.7 2003.9h0M1336.9 1943h0M1345.4 1884.9h0M1243.2 1964.5h0M1331.5 1950.7h0M1257.5 1990.4h0M1315 1988.2h0M1297 2008.2h0M1331.3 1933.2h0M1218.1 1965.7h0M1238.6 1970.7h0M1344 1970.8h0M1215.1 1981.1h0M1347.7 1947h0M1279.1 2012h0M1235.9 1988.7h0M1248.3 2006.6h0M1316.9 1973.4h0M1339.4 1960.3h0M1272.3 2007.9h0M1327.7 1994h0M1279.7 2013.4h0M1296.6 2009h0M1321.1 1967.1h0M1336.6 1973.5h0M1255.6 1974.1h0M1236.7 1966.4h0M1319.7 1960.8h0M1326.4 1983.1h0M1327.9 1937.4h0M1244.2 1987.1h0M1321 1966.6h0M1254.2 1977.3h0M1298.7 1994.7h0M1309.9 2003.6h0M1303.3 1994.5h0M1286 2010.8h0M1299.9 2004h0M1329.7 1982.4h0M1308.6 1978.8h0M1335.6 1913.8h0M1335.7 1941.1h0M1310.9 1964.9h0M1268.7 2008h0M1219.2 1920.8h0M1316.9 1946h0M1339.4 1930.8h0M1268.5 1999.2h0M1329 1985.9h0M1320.7 1972.4h0M1261.4 1984.6h0M1316.3 2005.7h0M1309.4 1971.8h0M1328.6 1990.8h0M1303.2 1987h0M1222.1 1977.9h0M1311.4 1966.9h0M1231 1905.6h0M1330.6 1976.1h0M1299.9 2007.8h0M1317.5 1945.4h0M1261.3 1995.5h0M1283.4 2013.3h0M1255 2005.6h0M1239.8 2002.7h0M1243.1 2002h0M1278.5 2013.3h0M1232.3 1970.3h0M1284.9 2012.4h0M1336.2 1991.1h0M1304.9 1985.1h0M1219.7 1945.1h0M1291 2011.5h0M1293.4 2001.1h0M1329.6 1963.4h0M1269 2002.1h0M1300.2 1987.7h0M1252.6 1996.2h0M1331.4 1928.2h0M1231.9 1999.2h0M1306.9 1990.8h0M1264.4 1995.3h0M1314.9 1975.9h0M1249.3 2000.5h0M1342.7 1942.3h0M1252.7 1980.9h0M1287.8 2012.5h0M1242 1955.7h0M1249.2 1974.4h0M1323.7 1984.5h0M1280.9 2013.3h0M1261 2000.9h0M1259.4 1991.4h0M1268.1 2005.3h0M1225.6 1962.8h0M1245 1986.6h0M1293.5 2008.1h0M1291.1 2006.2h0M1252.4 1962.9h0M1323.7 1994h0M1215.3 1973.9h0M1324.2 1986.4h0M1289.9 2011.3h0M1306.6 1978.9h0M1348.6 1977h0M1272.5 2003.5h0M1241.1 1958h0M1298.7 2007.4h0M1246.3 1996h0M1273 2009.9h0M1250.2 1974h0M1264.2 1991.9h0M1258.4 2002.4h0M1348.1 1939.8h0M1320.1 1966.3h0M1239.2 1974.3h0M1302.5 2008.1h0M1328.3 1945.6h0M1328 1955.3h0M1262.3 2003.5h0M1249.4 1956.6h0M1272.1 2011.3h0M1254.5 2005.1h0M1267.4 2007.2h0M1335.2 1947.8h0M1313.8 1983.1h0M1270 1999.5h0M1273 2008.1h0M1255.9 2003.4h0M1268.5 2004.2h0M1266.9 1997.6h0M1297.5 2005.3h0M1310.9 2004.9h0M1318.4 1990.6h0M1301.5 2006.6h0M1314.4 1955.2h0M1284.8 2011.6h0M1301.2 1985.8h0M1223.4 1932h0M1229.3 1990.1h0M1326.4 1946.2h0M1308.8 2005.2h0M1238.7 2004.9h0M1277.3 2010.2h0M1280.8 2013.2h0M1261.9 1995.5h0M1341.1 1996.8h0M1222.3 1932.6h0M1296.1 2003.9h0M1247.3 2001.1h0M1275.9 2013h0M1290.1 2005.7h0M1279.7 2012.9h0M1271.4 2004.9h0M1303.9 1998h0M1293.4 2004.3h0M1286.4 2012h0M1273.8 2005.5h0M1231.1 1918.8h0M1231.9 1960.8h0M1335 1945.6h0M1313.1 1975.2h0M1343.3 1906.7h0M1246.2 1978.6h0M1331.1 1936.8h0M1249.2 1980.5h0M1348.6 1966.3h0M1320.8 1966.1h0M1228.9 1997.6h0M1311.9 2000.9h0M1219.1 1975h0M1290.1 2010.7h0M1289.1 2009.5h0M1310.1 2007.8h0M1313 1987.2h0M1268.5 1997.1h0M1266.1 2006.6h0M1337 1955.8h0M1336.4 1970h0M1254.7 1992.3h0M1333.7 1971.2h0M1296 2002.9h0M1324.8 1968.8h0M1268.5 2003.5h0M1314.8 1970.1h0M1256.4 1984.8h0M1291.6 2008.3h0M1233 1938.6h0M1328.7 1979.5h0M1335.7 1965.3h0M1280 2012.6h0M1325.5 1944.7h0M1249.8 1970h0M1233.3 1932.3h0M1284.1 2012.8h0M1333.3 1976.6h0M1216.2 1960.1h0M1310 1978.4h0M1280.8 2013.3h0M1284.6 2011.6h0M1303.7 2003.5h0M1269.8 2007.8h0M1289.3 2011.9h0M1345.2 1983.6h0M1288.2 2008.7h0M1321.8 1994.9h0M1334.1 1993.5h0M1278.6 2011.4h0M1311.7 1980.5h0M1280.8 2013.1h0M1296.7 2012.4h0M1243.9 1967.2h0M1232.8 1939.9h0M1262.2 2007.4h0M1266.7 1998.2h0M1276.7 2010.1h0M1287.3 2009.4h0M1246.3 1948.5h0M1328.7 1999.6h0M1245.3 1970.2h0M1239.5 1977.7h0M1260.3 2003.7h0M1344.3 1974.5h0M1222.1 1944.2h0M1247.3 1964.1h0M1309.3 1986.5h0M1335.7 1969.6h0M1273.4 2007.1h0M1279 2012.8h0M1257.6 1976.1h0M1310.5 1985.4h0M1236.1 1967.1h0M1224 1996.7h0M1344.1 1965.9h0M1259.7 2006.3h0M1348.1 1964h0M1317.8 1955.3h0M1324.1 1942.5h0M1270 2010.6h0M1317.8 1953.8h0M1238.9 1991.4h0M1226.8 1947.6h0M1240.1 1976.6h0M1244.2 2001.6h0M1302.3 1999.1h0M1319.5 1997.2h0M1238.7 1994.3h0M1313 1976.7h0M1328.3 1942.1h0M1220.3 1904.2h0M1221.7 1933.8h0M1216.3 1963.2h0M1303.8 1981.2h0M1282.8 2013.2h0M1286.7 2012.3h0M1263.1 2006.7h0M1269.3 2003.1h0M1292.2 2002.3h0M1335.3 1973.2h0M1301.8 1993.4h0M1328.2 1934.4h0M1242.8 1965.5h0M1216.8 1971.1h0M1305.6 1989.9h0M1312.5 1966.4h0M1266.2 1996.7h0M1220.6 1963.3h0M1274.9 2007.7h0M1328.9 2002.1h0M1302.2 1992.4h0M1342.1 1930.6h0M1321.2 1970.7h0M1234 1980.4h0M1282.2 2013.4h0M1259.3 1991.5h0M1277.5 2013.4h0M1245.2 1949.7h0M1346.9 1908.8h0M1243.8 1986.8h0M1307.9 1974.9h0M1303.4 2003.8h0M1298.6 1995.6h0M1303.8 1991h0M1264.1 1992.6h0M1271.9 2011.3h0M1248.7 1999.6h0M1264.6 2000.7h0M1269 2005h0M1331.2 1982.7h0M1327.3 1955.9h0M1253.4 1996.7h0M1255.9 2001h0M1224 1912.6h0M1328.9 1995.9h0M1326 1974.8h0M1284.8 2013h0M1296.3 2010h0M1261.4 1993h0M1328.6 1917.1h0M1295.9 2000.4h0M1321.7 1995.8h0M1304.4 2005.7h0M1222.5 1964.4h0M1224.2 1993.5h0M1241.8 1981.6h0M1260.6 2004.7h0M1232.9 1978.1h0M1285 2011.2h0M1279.6 2012.6h0M1235.8 1970.5h0M1284.3 2013h0M1329.1 1964.3h0M1334.3 1922.5h0M1284.1 2012.6h0M1274.9 2008.5h0M1298 2007.6h0M1265.4 1992.1h0M1217.3 1944.5h0M1261.9 1996.5h0M1217.2 1989.6h0M1308.3 1991.2h0M1302.4 2011.1h0M1239.9 1941.6h0M1284.1 2012.7h0M1224.7 1930.4h0M1321.6 1960.6h0M1340.6 1970.2h0M1256.1 1995.9h0M1312.1 1997.2h0M1247 2008h0M1338.4 1973.7h0M1266.8 1997.7h0M1298.2 1996.4h0M1296.8 1995.5h0M1250.9 1971.1h0M1298.9 2003.4h0M1303.2 2009.7h0M1252.9 1996.1h0M1308.9 1989.7h0M1216.3 1974.3h0M1296.2 1995.1h0M1219.2 1970.1h0M1268.3 2002.7h0M1293.7 2011.6h0M1306 2006.9h0M1256.6 1996.5h0M1311.9 1993.6h0M1346.1 1957.5h0M1318.7 1987.1h0M1219 1969.2h0M1287.5 2012.4h0M1343.9 1974.9h0M1336.4 1881.3h0M1336 1993.7h0M1279.3 2012.4h0M1290 2010.2h0M1327.7 2000.4h0M1230.2 1974.6h0M1220.8 1869.6h0M1270.7 2003.8h0M1321.3 1958.1h0M1244.6 2001.1h0M1281.1 2013.5h0M1344.7 1980.9h0M1252.8 1980.3h0M1283.4 2013h0M1216.9 1984h0M1270.1 2000.6h0M1289.7 2008h0M1303.8 2005.4h0M1303 1996.8h0M1298.2 2011.5h0M1328.3 1970h0M1263 1990.5h0M1225.7 1992.1h0M1224.4 1994.1h0M1294.5 2007.8h0M1274.4 2009.7h0M1322 1966.6h0M1287.6 2012.4h0M1295.4 1996.8h0M1261 2007.8h0M1217.2 1906.8h0M1299.2 1999.1h0M1217.3 1973.8h0M1307.5 1994.4h0M1305.4 1990h0M1257.1 2005.6h0M1312 1992.3h0M1235.3 2000.3h0M1285.9 2011.1h0M1323.8 1984.1h0M1281.1 2013.4h0M1329 1955.2h0M1228.1 1967.2h0M1321.5 1943.5h0M1285.2 2011.2h0M1272.5 2007.9h0M1321.5 1989.6h0M1227.3 1970.3h0M1275.4 2012.7h0M1298.8 2008.9h0M1313.7 1988.3h0M1322.5 1957.5h0M1334.6 1919.9h0M1321.5 1953.6h0M1329.8 1919.5h0M1243.1 2001.7h0M1257.8 1995.7h0M1282.3 2013.3h0M1244.4 1998.7h0M1275.4 2010.6h0M1270 2004.3h0M1273.5 2006.8h0M1300.7 1994.1h0M1270.2 2010.7h0M1337 1946.2h0M1215.6 1871.5h0M1249.9 1960.3h0M1310.1 2007.7h0M1336.1 1942.7h0M1270.2 2009.9h0M1242.9 2001.3h0M1342.3 1987.1h0M1348 1987.6h0M1260.1 2001.7h0M1336.6 1989.1h0M1265.6 2002.5h0M1336.3 1986.6h0M1325 1958.7h0M1266.3 2001.1h0M1343.8 1932.3h0M1246.3 1998.4h0M1293 2007.4h0M1220.2 1992.3h0M1266.9 2001.1h0M1293.4 2005.7h0M1284.3 2012.1h0M1216.5 1993.2h0M1279 2012.9h0M1259.6 1983.6h0M1216.8 1919.9h0M1331.2 2001h0M1297.7 2002.3h0M1333.4 1972.2h0M1221.9 1903.9h0M1287.4 2013h0M1226.3 1996.3h0M1239.7 1947.2h0M1222.9 1969h0M1235.2 1983.4h0M1279.5 2012.2h0M1241.2 1964.5h0M1230.4 1967.9h0M1277.2 2012.7h0M1250.4 2002.3h0M1240.7 2002.1h0M1215.9 1901.5h0M1287.5 2010.4h0M1333.8 1926.8h0M1306.4 1993.4h0M1290.9 2010.2h0M1285.8 2012.9h0M1336.7 1979.5h0M1248.9 2001.6h0M1222 1892.9h0M1250.3 2000.3h0M1308.6 2005.8h0M1287 2013.1h0M1235.3 1978.1h0M1253.2 1986.4h0M1271.1 2003.3h0M1282.9 2013.4h0M1292.5 2007.9h0M1286.2 2012.2h0M1249.2 1998.4h0M1310.2 1993.9h0M1232.9 1986.9h0M1269 1998.9h0M1232 1955.1h0M1227.3 1966.9h0M1234.3 1936.8h0M1271.4 2006h0M1335.4 1948h0M1270 2001h0M1248.1 1986.5h0M1244.1 1966.5h0M1319.4 1949.1h0M1275.9 2010.4h0M1339 1906.4h0M1298.3 2002.3h0M1254.6 1999.8h0M1325.1 1968.9h0M1342.2 1964h0M1307.2 1991.8h0M1321.1 1979.4h0M1260.4 1991h0M1274.9 2012.9h0M1345.9 1976.8h0M1218.8 1954.7h0M1280.9 2013.4h0M1246.9 1998.1h0M1302.1 2007h0M1316.1 1958.7h0M1234.2 1997.8h0M1295.7 2005.9h0M1315.8 1968.9h0M1263.5 1996h0M1329.1 1994h0M1301.6 2007.7h0M1264.3 1989h0M1244.1 1971.1h0M1223.1 1947h0M1221.2 1966.8h0M1332.7 1932.9h0M1344.1 1933.8h0M1240.5 1972h0M1278.4 2011.6h0M1342.9 1945.3h0M1298.8 1996.2h0M1247.8 2007h0M1323.4 1931.9h0M1245 1991.7h0M1263.6 2006.1h0M1306.9 1980.7h0M1251.5 1990.3h0M1234.6 2000.1h0M1271.3 2002.9h0M1247.7 1966.9h0M1307.3 1983.6h0M1262.2 2000.7h0M1316.1 2007.9h0M1337.8 1954.3h0M1299.4 2001.2h0M1244.1 1964h0M1231.2 1990.5h0M1260.9 1993.5h0M1225 1980.9h0M1244 1951.3h0M1302.9 1996h0M1343.3 1946.4h0M1278.5 2013.2h0M1245.1 1962.2h0M1264 2008.2h0M1324.4 1986h0M1324.9 1981.1h0M1339.4 1936.9h0M1281 2013.3h0M1327.4 1930h0M1285.3 2012.2h0M1245.3 2002.8h0M1247.6 1967.4h0M1240 1987.2h0M1278.3 2011h0M1344.4 1978.2h0M1314.3 2006.6h0M1291.3 2011.8h0M1304.9 1989.1h0M1324.6 1993.5h0M1218.7 1943.2h0M1290.8 2009.8h0M1288.9 2011h0M1214.9 1956.6h0M1230.1 1895.8h0M1299.3 2008.7h0M1232.8 1981.7h0M1243.1 1999.7h0M1298.2 2008.8h0M1264.6 2009h0M1246.7 1978.4h0M1311.4 1984.1h0M1306.7 1977.8h0M1306.5 2004.9h0M1289.2 2012h0M1225.7 1996.4h0M1254.4 1978.2h0M1254 2003.5h0M1346.7 1991.5h0M1304.2 1991.2h0M1306.6 2003.7h0M1281.9 2013.5h0M1269.7 2002.3h0M1234.7 1917.6h0M1289.4 2010.8h0M1219 1947.4h0M1221.8 1928.4h0M1243.4 1982.3h0M1264.2 2009.8h0M1313.6 1960.5h0M1302.6 2007h0M1307.1 2005.1h0M1306.9 1987.4h0M1333.2 1928.1h0M1303.2 2000.4h0M1300.4 1997.7h0M1341.6 1980.3h0M1230.5 1977.6h0M1328.2 1914.5h0M1287.8 2009.6h0M1319.2 1951.5h0M1232.7 1950.6h0M1221.6 1942.5h0M1270.6 2005.5h0M1251.3 1992.7h0M1303.6 1996.6h0M1252.9 1977.2h0M1258.9 1979.5h0M1253.6 2007.5h0M1331.1 1986.3h0M1317.8 1971h0M1298.3 1994.7h0M1325.6 1967.2h0M1343.3 1868.2h0M1245 1968.2h0M1332 1907.7h0M1299.6 1994.4h0M1277.4 2010.7h0M1239.3 1997h0M1307.5 1990.1h0M1289.8 2005.6h0M1282.9 2013.5h0M1246.6 2002.7h0M1286.9 2012.3h0M1263 2000.4h0M1344.5 1988.2h0M1283.2 2013h0M1291.2 2010.9h0M1319 1990.2h0M1268.9 2009.9h0M1292.3 2010.4h0M1288.7 2009.8h0M1224 1953.9h0M1318.9 1943.6h0M1247.3 1994.9h0M1348 1987.7h0M1303.6 2009h0M1256.9 1993.8h0M1295 2005.6h0M1293.5 2001.2h0M1324.1 1951.4h0M1234.8 2000.9h0M1324.6 1983.7h0M1240.5 1970.8h0M1296.2 2010.3h0M1272.8 2005.4h0M1329.9 2000h0M1279.6 2012.7h0M1220.4 1980.2h0M1315.2 1982.4h0M1326.6 1945.6h0M1271.3 2012.8h0M1246.5 1966h0M1269.2 2003.5h0M1259.5 1983h0M1331.2 1983.1h0M1258.4 1995.7h0M1308.4 1969.9h0M1244.5 1971.9h0M1289.8 2012.8h0M1283.6 2012.5h0M1248.3 1975.6h0M1318.4 2002.4h0M1243.3 1957.5h0M1339.1 1885.8h0M1238.9 1963.4h0M1312.9 1978.4h0M1226.9 1967.8h0M1311.1 1988.8h0M1251.1 1962.1h0M1299.3 1993h0M1263.8 1995.9h0M1244.9 2005.7h0M1328.4 1917.9h0M1236.1 1993.6h0M1242.7 1974.9h0M1323.1 1966h0M1308.5 1996.2h0M1340.7 1925h0M1267 2000.9h0M1229.4 1929h0M1343.8 1964.6h0M1259.6 1999.2h0M1252.1 1961.1h0M1282.8 2013.3h0M1305.7 1975.3h0M1261.9 1999.7h0M1264.8 2001.1h0M1289.6 2012.5h0M1297.8 2010.9h0M1280.3 2013.2h0M1261.7 2005.4h0M1293.1 2007.8h0M1290.4 2010.2h0M1334 1958.4h0M1328.5 1915.6h0M1233.2 1996h0M1244.1 1957.4h0M1255.4 2008.7h0M1316.4 1990.5h0M1319.9 2006.6h0M1246.8 1990.7h0M1306.6 2006.6h0M1293.7 2008.3h0M1313.9 1956.8h0M1253.4 1982.5h0M1291.7 2008.2h0M1244.5 2005.9h0M1330.2 1988.2h0M1302.7 1982.2h0M1259.6 1992.8h0M1342.3 1942h0M1329.5 1917h0M1266.7 2005.3h0M1299.4 1989.8h0M1246.2 1975.8h0M1219.2 1957.9h0M1307.9 2000.5h0M1262.6 2003.5h0M1291.6 2002.7h0M1326.6 1944.8h0M1329.2 1976.5h0M1330.5 1922.7h0M1257.4 1992.9h0M1315.6 1989h0M1218.3 1976.4h0M1248.5 2006.5h0M1239.3 1970h0M1264.7 1990h0M1220.8 1982.1h0M1284.8 2013.5h0M1300.7 1991.6h0M1289.1 2008.2h0M1231.7 1972.3h0M1314.8 1971.7h0M1300.5 1988.9h0M1282.6 2013.2h0M1282 2013.5h0M1337.7 1910.6h0M1265.9 1995.8h0M1288.4 2007.4h0M1329.5 1967h0M1250.2 1984.7h0M1258.2 2010.4h0M1332.5 1968.2h0M1259.6 2004.4h0M1324 1980.4h0M1249 1962.6h0M1251.3 1999h0M1282.1 2013.4h0M1277.8 2013.2h0M1299.3 2008.7h0M1301.3 1993.4h0M1321.4 1977h0M1257.1 1995.1h0M1319 1950.8h0M1323.2 1994.8h0M1223.9 1887.7h0M1287.6 2013.2h0M1291.4 2008.1h0M1240.6 1951.1h0M1253.4 1998.8h0M1312.5 1975.2h0M1327.8 1958h0M1303.9 1993.1h0M1300 2006.8h0M1330.7 1953h0M1274 2006.5h0M1322.1 1950.6h0M1264.3 2001.1h0M1220.6 1988.2h0M1328.7 1999.9h0M1328.7 1919.1h0M1288.4 2011.8h0M1254.6 2000.3h0M1230.5 1961h0M1232.2 1975.1h0M1334.6 1990.9h0M1292 2005.4h0M1344.2 1953.9h0M1240.4 1947.4h0M1264.2 2008.8h0M1241.5 1997.6h0M1273 2010.2h0M1339.3 1989.7h0M1262.9 2010.2h0M1263.6 1991.5h0M1287.1 2009.6h0M1327.3 1957.4h0M1301.3 1994.1h0M1276.6 2009.8h0M1321.8 1959.2h0M1242.5 2005.2h0M1301.2 1999.8h0M1282.2 2013.4h0M1317.6 1952.5h0M1277.8 2013h0M1309.5 1991.3h0M1289.4 2012.5h0M1339.3 1935.2h0M1328.9 1970.6h0M1320.8 1943.7h0M1297.1 1999.7h0M1251.1 1965.7h0M1262.4 1999.7h0M1343.1 1875.9h0M1260.5 2007.8h0M1241.7 1947.3h0M1267.1 1996h0M1318.3 1990.8h0M1274 2006.8h0M1286.7 2012.5h0M1329.8 1998.7h0M1220.9 1994.2h0M1256.3 1993.9h0M1343.7 1923.1h0M1258.5 1989.6h0M1317.5 1958.6h0M1223.6 1917.4h0M1310.5 1995.5h0M1247.6 1995h0M1247 1976.7h0M1319 1944.8h0M1242.8 1966.8h0M1282.9 2013.1h0M1300.5 1996h0M1235.1 1995.9h0M1263.5 1987.7h0M1307.6 1993.5h0M1290.4 2012.5h0M1257 2000.3h0M1254.4 2000.2h0M1327.4 1981.6h0M1326.4 1955.6h0M1278.1 2012.8h0M1230.4 1945.2h0M1273.1 2010.7h0M1342.6 1950.8h0M1256.8 1979.7h0M1223 1878.2h0M1318 2005.8h0M1285.9 2012.4h0M1262.8 2011.4h0M1287.5 2009h0M1271.5 2006.6h0M1268.3 2000.4h0M1235.5 1936.7h0M1259.5 2004.9h0M1237.2 1978.9h0M1271.3 2003.9h0M1232.6 1946.8h0M1336.7 1947h0M1215.8 1960.9h0M1257.7 2000.6h0M1250 1969.4h0M1295.3 2008.3h0M1309.4 1995.4h0M1303 2004.9h0M1316.3 1978.2h0M1302.5 2008.3h0M1229.8 1966.1h0M1313.7 2000h0M1282.2 2013.5h0M1272.5 2003.5h0M1243.3 1947.9h0M1331.3 1965.2h0M1230.7 1944h0M1316.5 1989.7h0M1324.1 1975.9h0M1332.6 1938.5h0M1298.1 2003.4h0M1263.5 1994.7h0M1302.7 1999.5h0M1235.3 1972.7h0M1263.8 1997.6h0M1253.2 1969.8h0M1236 1958.5h0M1299.4 1995.9h0M1290.2 2010.1h0M1320.5 1987.2h0M1251.7 1995h0M1266.5 2008.6h0M1337.3 1951.9h0M1250.4 1989.3h0M1337.2 1979.4h0M1323.5 1999.4h0M1260.7 1985.8h0M1247.7 1978.5h0M1329.1 1990.4h0M1333 1959.2h0M1248.9 1975.7h0M1250.5 1968.9h0M1264 1998.4h0M1329.7 1996.9h0M1293.9 2007.5h0M1290.2 2010.5h0M1315.4 1993.1h0M1215.3 1985.3h0M1237.5 1958.8h0M1251 1978.8h0M1247.9 1957.2h0M1263.9 1990h0M1306.3 2001.9h0M1288.4 2008.2h0M1255.9 2000.6h0M1323.6 1987.9h0M1306.1 1997.1h0M1252.7 1970.3h0M1330.6 1987.7h0M1247.4 2002.7h0M1298.6 2007.1h0M1296.5 2005.9h0M1302.5 1999.9h0M1315.1 1954.2h0M1231.4 1934.1h0M1263.9 2002.9h0M1269.3 2006.5h0M1235.6 1972.6h0M1336.8 1983.4h0M1274.3 2009.4h0M1304.5 1984.4h0M1291.5 2003.7h0M1333.4 1924.9h0M1316.3 1953.2h0M1255.5 2003.6h0M1301 1996.9h0M1232.6 1923.4h0M1320.1 1978.7h0M1280.3 2013.2h0M1303.8 1984.5h0M1236 1958.3h0M1321.9 1934.1h0M1290 2010.2h0M1232.1 1990.6h0M1250.8 1968h0M1304.5 1984.9h0M1332.9 1899.9h0M1286 2013.2h0M1332 1931.1h0M1234.7 1932.2h0M1270.8 2003.7h0M1309.4 2003h0M1236.3 1989h0M1275.6 2012.1h0M1284.2 2013.3h0M1233.7 1985.1h0M1263.5 2000.1h0M1264 1995.5h0M1325.8 1962.3h0M1338.6 1983.5h0M1324 2003.8h0M1246.5 1963.7h0M1286.5 2012.9h0M1274 2008.4h0M1263.9 2002.7h0M1270.8 2000.8h0M1279.7 2013.1h0M1317 1979.2h0M1332.2 1975.1h0M1291.8 2009.6h0M1258 2008.3h0M1278 2012.9h0M1340.8 1934.6h0M1261.6 1994.5h0M1240.5 1999.1h0M1246.5 2005h0M1289.2 2008.8h0M1344.6 1909.2h0M1250.6 1965h0M1293.6 2007.8h0M1341.5 1976.5h0M1219 1935.2h0M1214.7 1906.5h0M1249 2002.9h0M1305.2 2006.8h0M1237.9 1971.7h0M1274.1 2009.4h0M1270.6 2005.8h0M1306.3 2001.9h0M1330.5 1974.4h0M1242.8 1980.1h0M1286.9 2010.3h0M1297.3 2007h0M1238.3 1980.9h0M1296.4 2011.8h0M1234 1994.9h0M1275.5 2007.8h0M1284.5 2012h0M1328.2 1951.2h0M1317 1989.7h0M1291.3 2010.8h0M1283.5 2012.8h0M1258.4 2004.8h0M1316.3 1953.8h0M1303.8 2006h0M1228.4 1968.8h0M1246.4 1959h0M1271.5 2009.7h0M1278.2 2012.7h0M1222.6 1971.5h0M1326 1975.9h0M1252.2 2004.8h0M1340.6 1955.7h0M1317.4 1986.3h0M1330.1 1966.6h0M1269.8 2001.3h0M1219.8 1968.5h0M1298.4 2000.5h0M1282.4 2013.2h0M1225.2 1921.9h0M1292.5 2002.3h0M1286.5 2011.7h0M1325.1 1978.4h0M1216.3 1958.2h0M1250.9 1974.6h0M1230.8 1964.6h0M1282.5 2013.5h0M1289.9 2012.3h0M1233.7 1954.4h0M1277.7 2011h0M1306 2009.6h0M1257.8 1999.5h0M1305.9 2006.1h0M1280.1 2012.8h0M1286.3 2010.3h0M1271.3 2009.1h0M1323.8 1947.4h0M1346.3 1976.6h0M1219.2 1972.5h0M1216.7 1959.3h0M1308.5 1981h0M1237.8 1947.9h0M1305.6 1979.2h0M1329.9 1992.7h0M1307.1 1985h0M1332 1995.8h0M1306.5 1983.4h0M1297.1 2010.5h0M1280.9 2013.5h0M1278.2 2012.6h0M1234.5 1958.6h0M1304.1 2008h0M1224.3 1985.6h0M1305.1 1990.7h0M1274.3 2012.6h0M1218.3 1969.9h0M1288.6 2009.7h0M1318.7 1975.4h0M1319.1 1990.4h0M1238.1 1971.5h0M1264.1 2005.7h0M1225.9 1959.9h0M1313.5 1978h0M1291.1 2008.5h0M1227.9 1930.1h0M1242.6 1991.3h0M1239.5 1989.7h0M1234.7 1948.5h0M1346.8 1933.5h0M1263.4 1995.3h0M1228.2 1945.8h0M1340.1 1977.4h0M1261 1993.2h0M1226.6 1997.9h0M1286.2 2011h0M1229.6 1960.9h0M1321.6 1959.9h0M1260 2002.4h0M1302.3 1994.7h0M1258.5 2008.8h0M1301.4 1995.8h0M1253.6 1987.9h0M1275.3 2012.3h0M1310.1 1987.2h0M1348.7 1943.4h0M1255.9 1990.3h0M1324 1989.3h0M1250.6 1997.2h0M1287.3 2010.5h0M1302.7 1992.2h0M1344 1964.1h0M1220.1 1901.1h0M1233.2 1947h0M1276.3 2009.9h0M1245.9 1956.6h0M1342.8 1887h0M1261.1 2005.7h0M1312.7 2000.3h0M1303.5 1995.2h0M1270.4 2000.7h0M1257 1986.8h0M1251.5 1987.1h0M1301.2 2008.5h0M1258.8 1997h0M1266.4 2010.7h0M1288.6 2011.8h0M1236.6 1946.3h0M1223.7 1931.8h0M1232 1942.8h0M1223.6 1978.7h0M1261 1985.6h0M1254.1 1996.3h0M1268.4 2007.5h0M1268.9 2007.8h0M1222.5 1955.1h0M1288.6 2011h0M1273.5 2005.6h0M1347.4 1930.1h0M1320.3 1946.1h0M1344.7 1973h0M1331 1996h0M1235.7 1927.1h0M1263.3 1998.4h0M1219.2 1951.4h0M1260.4 1985.1h0M1339.1 1939.5h0M1260 2003.1h0M1232.7 1953.3h0M1235.8 1953h0M1310.7 1977h0M1256.9 2003.9h0M1321.2 1997.3h0M1259 1984.7h0M1305.4 1993.7h0M1344.1 1979h0M1223.6 1984.6h0M1319.3 1955.2h0M1335 1940.3h0M1339.3 1860.5h0M1282.5 2013.3h0M1271.3 2010.9h0M1256.2 1977h0M1322.2 1954h0M1276.4 2012.3h0M1258.1 1991.4h0M1247.6 1989.7h0M1264.7 2004.5h0M1302.9 2009.4h0M1304.4 1999.4h0M1312.5 1977.9h0M1244 1951.9h0M1284.5 2012.6h0M1249.4 1957.6h0M1256 1995.2h0M1219.8 1983.7h0M1227.9 1909.5h0M1259.1 1984.2h0M1252.4 1999.9h0M1284.2 2013.2h0M1263.8 2006.3h0M1280.5 2013.2h0M1317.7 1993.2h0M1248.9 1973.4h0M1308.5 1986.5h0M1296.8 2008.3h0M1253.3 1970.2h0M1257.7 1975.7h0M1299.5 1995.9h0M1228 1945h0M1340.5 1962.6h0M1311.2 1986.4h0M1247 1959.9h0M1335.8 1942.5h0M1227.5 1989.4h0M1286.8 2009.5h0M1263.4 1988.5h0M1264.2 2009h0M1243 1975.5h0M1240.8 1952.4h0M1305.1 1978.9h0M1320.4 1943.8h0M1296.9 1993.4h0M1218.2 1826.4h0M1278.9 2013.2h0M1244.8 1976.8h0M1327.5 1933.2h0M1248.6 1987.9h0M1314.6 1967.3h0M1232.5 1958h0M1244.8 1959.6h0M1272.4 2003.9h0M1247.6 1955h0M1274.5 2010.5h0M1269.8 2010.2h0M1251.1 1981.6h0M1262.6 1989.2h0M1313.5 2005.9h0M1253.9 1997.1h0M1300.1 1993h0M1321.2 1954.9h0M1280 2013.3h0M1331.5 1945h0M1221.3 1982.7h0M1292.7 2007.1h0M1272.3 2008h0M1320.3 1979.9h0M1234.6 1932.2h0M1244.9 1954.4h0M1222.9 1988.1h0M1347.7 1940.8h0M1251.1 1995.1h0M1299.3 2007.4h0M1270.9 2006.1h0M1274.6 2011h0M1240.1 1970.9h0M1295.8 2005.2h0M1251.9 1998.8h0M1296.1 2006.9h0M1287.9 2010.7h0M1239.4 1993.5h0M1293.3 2004.3h0M1292.1 2004.2h0M1311.2 1972.5h0M1229.9 1998.6h0M1239.3 1983.1h0M1314.6 1954.2h0M1336.9 1997.4h0M1216.1 1869.5h0M1243.8 1955.9h0M1290.6 2008.4h0M1225.7 1945.9h0M1298.2 1990.7h0M1292.8 2012.7h0M1253.7 2008.2h0M1325.6 1924.1h0M1328.6 1983.1h0M1298.8 2006.1h0M1294.1 2008h0M1341.9 1994.7h0M1255.7 1989h0M1288.8 2011.3h0M1245.9 1982.9h0M1304.7 1981.9h0M1234.2 1959.3h0M1286.5 2013.4h0M1287.5 2012.8h0M1278.8 2013.4h0M1275.6 2008.7h0M1253 1964.5h0M1325.7 2000.2h0M1304.6 2002.2h0M1238.9 1998.1h0M1297.5 2011.6h0M1269.1 2006.4h0M1299.8 2007.9h0M1341.5 1966.7h0M1242.5 1949.3h0M1331.5 1951.3h0M1255.6 1980.6h0M1256.6 2005.7h0M1247.3 1951.6h0M1308.3 1989.4h0M1300.9 1999.5h0M1237.8 1959.7h0M1282.2 2013.5h0M1263.9 2003.2h0M1269.7 2007.5h0M1308.9 2009.1h0M1319.8 1997h0M1274.1 2006.1h0M1301.2 1989.9h0M1326 1941.7h0M1322.7 1933.6h0M1286.5 2012.9h0M1258.6 1994.5h0M1234.8 1951.8h0M1297.2 2008h0M1315.8 1991.7h0M1291.5 2007.8h0M1310.3 2008.1h0M1266.3 1993.2h0M1220.8 1975.5h0M1335.9 1958.1h0M1241.7 1960.6h0M1337.8 1996.6h0M1328 1927.3h0M1226 1913.9h0M1230.5 1944.6h0M1334.1 1967.8h0M1274.1 2011.7h0M1280 2013.4h0M1327.4 1995.7h0M1296 2008.7h0M1234.5 1924.9h0M1330.9 1979.7h0M1295.8 2010.7h0M1251.9 1969.1h0M1223.5 1965.4h0M1310.1 1987.1h0M1229.9 1937.4h0M1249.2 1963.8h0M1250.1 1985h0M1295.2 2012.4h0M1294.5 2008.1h0M1321.8 2003.6h0M1309.8 1980h0M1245.1 2007.1h0M1313.7 1962.9h0M1241.7 1936.6h0M1283.4 2013.2h0M1257 2007.4h0M1319.6 1951.1h0M1329.2 2003.2h0M1301.3 1993.7h0M1256.7 1990.6h0M1336.8 1972.9h0M1328.3 1945.6h0M1298.9 1995.4h0M1337.5 1935.8h0M1266.3 1998h0M1322 1991.6h0M1319.5 1963.4h0M1288.3 2011.5h0M1327.2 1981.5h0M1255.3 2000.2h0M1322.6 1995.6h0M1294.9 2008.2h0M1310.3 2000.3h0M1250.5 1980.9h0M1301 1990.6h0M1279.4 2012.8h0M1281.2 2013.4h0M1225.4 1999.2h0M1311.7 2007.9h0M1233 1997.8h0M1232.4 1974h0M1238.3 2000.1h0M1256.1 2004.3h0M1256.4 1982.4h0M1274.9 2012.9h0M1273.7 2010.4h0M1283.7 2013.4h0M1238.8 1998h0M1233.2 1967.3h0M1278.6 2013.1h0M1329.9 2002.5h0M1234.8 1944.7h0M1263.6 1993.1h0M1227 1971.1h0M1285.7 2010.7h0M1216 1940.7h0M1274.4 2009h0M1289 2011.5h0M1272.4 2004.1h0M1285 2011.9h0M1318 1950.4h0M1234.6 1973h0M1289.3 2007.6h0M1259 1979.7h0M1294.9 2011.1h0M1236.1 1921h0M1292.1 2010.8h0M1332.3 1932.6h0M1271.4 2006h0M1344.2 1968.5h0M1272.8 2010.7h0M1257.9 1988.3h0M1271.6 2004.6h0M1260.6 2010.6h0M1224.9 1948.6h0M1302.5 1985.9h0M1278.6 2012h0M1346.5 1986.2h0M1342.4 1916.8h0M1283.9 2013.4h0M1298.7 1994.7h0M1269.1 1998.3h0M1234.2 2003.3h0M1319 1946.1h0M1241.9 1983.5h0M1329.6 1995.7h0M1344.3 1945.1h0M1324 1955.5h0M1283.3 2012.9h0M1276.2 2008.7h0M1231 1960h0M1249.1 1957.7h0M1248.4 1991.9h0M1256.3 1984.7h0M1311.4 1967.3h0M1300.3 1999.8h0M1255.3 2007.5h0M1237.3 1943.3h0M1253.4 2001.8h0M1224.2 1943.5h0M1223.7 1976.8h0M1342.1 1922.2h0M1215.1 1932.1h0M1318 1966h0M1347.8 1993.4h0M1239.8 2000.3h0M1285.9 2012.3h0M1242.4 1948.7h0M1327.7 1992.5h0M1312.1 1985.4h0M1268.3 2008.9h0M1306 1976.1h0M1294.2 2012.1h0M1303.5 2010.9h0M1291.6 2009.3h0M1232.2 1971.1h0M1320.3 1994h0M1256 1978.2h0M1261.7 2006.5h0M1309.9 1973.2h0M1298.7 2009h0M1265.2 2004.8h0M1216.4 1974.9h0M1249.1 1986.6h0M1265.2 2000.5h0M1289.7 2009.4h0M1320.8 1997.3h0M1273.5 2008.2h0M1243.3 2006.8h0M1291.2 2008.3h0M1227.7 1978.3h0M1279.6 2012.4h0M1344.3 1992h0M1279.1 2012.4h0M1243.2 1967.9h0M1250.9 1996.9h0M1238.2 1957.2h0M1236.6 1997.8h0M1300.3 2009.9h0M1296.5 1994.4h0M1328.5 1994.9h0M1219.5 1950.7h0M1234.6 1998.3h0M1302.4 1986.2h0M1241.2 1985.3h0M1257.3 1999.4h0M1291.3 2003.8h0M1246.1 1955.8h0M1290.6 2008.7h0M1307.9 1974.5h0M1339.9 1990.4h0M1280.5 2013.1h0M1219.3 1886.9h0M1232 1909.5h0M1223.7 1944.9h0M1292.1 2005.5h0M1332.4 1966.5h0M1308.2 1972.7h0M1247.3 1970.3h0M1341.6 1973.9h0M1271 2012.7h0M1323.9 1936.6h0M1219.3 1960.7h0M1327 1950.6h0M1249.6 1994.9h0M1310.7 1987h0M1287.8 2013.2h0M1329.4 1915.7h0M1319.9 1959h0M1323.3 1995h0M1240 1973.6h0M1334.6 1964.8h0M1282.2 2013.5h0M1289.8 2007.5h0M1290.1 2009.8h0M1326.9 1978.3h0M1257.8 1997.6h0M1275.4 2010.2h0M1314.6 1983.5h0M1265.9 2005.2h0M1242.1 1990.5h0M1252.2 1996.3h0M1343.7 1950.9h0M1327.7 1980.5h0M1317.1 1963.3h0M1312.3 2000.7h0M1267.2 2010h0M1334.1 1919.6h0M1338.7 1925h0M1303.6 1997.6h0M1311.7 1988.6h0M1256.9 2000.6h0M1338.8 1961.6h0M1276.4 2011.6h0M1278.4 2013.2h0M1314.7 1987h0M1334.5 1970.1h0M1297.7 1995h0M1252.8 2008.5h0M1219.9 1923.3h0M1244.7 1981.9h0M1293.2 2006.7h0M1308.6 1993.7h0M1309.8 2004.9h0M1337 1949.2h0M1290.7 2006.3h0M1321.1 1969.8h0M1341.2 1987.9h0M1347.7 1939.5h0M1253.1 1974.5h0M1305.5 2010.4h0M1245.4 1980.5h0M1251.5 1993.8h0M1333.2 1993.1h0M1326.8 1995.1h0M1320 1991.8h0M1335.7 1949.9h0M1337.2 1915h0M1236.2 2000.1h0M1334.6 1994.9h0M1328.5 1983.5h0M1242.3 1978.5h0M1269.5 2007.1h0M1218.6 1992.7h0M1271 2009.2h0M1347.8 1982h0M1292.2 2004h0M1302 1996.1h0M1308.6 1972.5h0M1246.2 1947.6h0M1316.3 1982.1h0M1295 2002.7h0M1263.6 2000.5h0M1302.9 1990.8h0M1340.5 1988.4h0" stroke="#808a87" stroke-width="4.3" stroke-linecap="round" fill="none"/>
<path d="M1152.7 1836.6h0M1140.2 1911.4h0M1161.6 1897.4h0M1208.6 1896.9h0M1195.1 1980.2h0M1145.3 1917.9h0M1187.5 1906.8h0M1156.5 1911.1h0M1211.2 1931.8h0M1205.2 1980.1h0M1197.4 1970.8h0M1155 1891.5h0M1209.7 1918.4h0M1199.7 1966h0M1186.4 1958.4h0M1193.4 1792.3h0M1208.4 1886.2h0M1180.3 1942.5h0M1199.3 1882.2h0M1180.3 1839.2h0M1171.6 1934h0M1142 1919.5h0M1204.7 1950.6h0M1209.4 1885.7h0M1181 1882.3h0M1161.4 1939.7h0M1172.5 1919.3h0M1136.2 1852.8h0M1161.3 1883.5h0M1200.1 1864.7h0M1160.9 1895.5h0M1194.7 1977.3h0M1184 1960h0M1196.2 1817.6h0M1146.9 1877.3h0M1191.2 1888.6h0M1198.1 1978.4h0M1206 1979.1h0M1195.8 1872.1h0M1170.7 1952.9h0M1181 1950.2h0M1157.6 1902.6h0M1210.2 1980.3h0M1212 1852.8h0M1204.8 1904.9h0M1205.6 1984.2h0M1161.7 1864.1h0M1205.8 1935.5h0M1191.4 1945.3h0M1186.7 1953.6h0M1203.7 1894.6h0M1205.2 1909.8h0M1203.7 1967.3h0M1147.1 1871h0M1198.4 1866.8h0M1202.7 1978.2h0M1165.2 1949.4h0M1182.6 1966.2h0M1179.6 1787.7h0M1206.7 1910.5h0M1186.9 1934.1h0M1207 1816.4h0M1182.5 1865.5h0M1209.8 1990.7h0M1203.2 1950.3h0M1208.7 1983h0M1185.8 1949h0M1163 1946.3h0M1208.7 1935.2h0M1200.7 1963.9h0M1187.4 1868.9h0M1194.5 1923.6h0M1183.3 1802.6h0M1208.2 1947.4h0M1211.5 1935.8h0M1208.3 1988.1h0M1212.1 1984.5h0M1203.7 1901.7h0M1195.4 1946.3h0M1195.2 1911.5h0M1203.7 1867.6h0M1186.6 1973.9h0M1206.5 1957.4h0M1206.3 1936.8h0M1181.2 1840.1h0M1193.5 1934.8h0M1192.7 1969.9h0M1195.8 1861.1h0M1199.9 1979.8h0M1194.3 1906.1h0M1181.3 1886.3h0M1194.7 1975.9h0M1210 1969.2h0M1201.3 1981.6h0M1170.2 1949.1h0M1172.3 1889.9h0M1206.4 1905.2h0M1199.9 1977.8h0M1174.4 1922.7h0M1209.5 1960.7h0M1204.8 1947.1h0M1207.3 1807.6h0M1192.3 1918.5h0M1183.9 1957.5h0M1203.1 1986.5h0M1179.4 1883.2h0M1180.9 1748.1h0M1212.2 1990.3h0M1160.9 1943.8h0M1200.1 1970.5h0M1210.1 1973.8h0M1136.7 1912.4h0M1163.4 1802.5h0M1208 1983.1h0M1197.1 1951.9h0M1205.1 1966.7h0M1182.1 1905.5h0M1172.3 1753.1h0M1174.7 1824.3h0M1191.9 1976.2h0M1169 1850.1h0M1212.5 1945h0M1174.1 1947.4h0M1156.2 1901.6h0M1173 1934.5h0M1194.3 1896.1h0M1178.6 1965.7h0M1188.1 1972.1h0M1179.6 1757.7h0M1200.8 1954.8h0M1204.7 1935h0M1199.5 1982.2h0M1198.2 1975.8h0M1195.3 1967.3h0M1197 1981.2h0M1180.7 1904.3h0M1151.1 1853.4h0M1201.3 1957.4h0M1165.8 1949.9h0M1182.2 1962.3h0M1206.8 1988.3h0M1165.1 1921.3h0M1203.5 1954.8h0M1191.4 1967.1h0M1145.1 1891.3h0M1211.1 1956.5h0M1197.1 1976.4h0M1185 1932.8h0M1156.7 1880.7h0M1195.2 1963.7h0M1167.2 1822.5h0M1202.2 1972.6h0M1197.9 1913.9h0M1204.2 1931h0M1204.2 1978.1h0M1204.6 1950.5h0M1195 1770.8h0M1148.4 1888.9h0M1200.2 1877h0M1179.6 1961.5h0M1186.5 1972h0M1191.1 1883.9h0M1208.5 1972.6h0M1200.5 1851h0M1192.7 1964.4h0M1196.3 1845.3h0M1202 1835.4h0M1134.7 1907.4h0M1179.2 1778h0M1162.4 1890h0M1200 1815.9h0M1195.5 1838.3h0M1184.5 1949.3h0M1210.7 1984.4h0M1197.8 1927.3h0M1140 1827.7h0M1210.8 1964.7h0M1204.5 1917.2h0M1205.7 1988h0M1191.7 1882.9h0M1207.1 1908.4h0M1196.2 1955h0M1181.5 1921.3h0M1205.6 1852.6h0M1171 1907.9h0M1135 1910.6h0M1183.1 1956.5h0M1181.9 1913.1h0M1201.2 1857.4h0M1165 1895.9h0M1174.1 1886.3h0M1202.5 1878h0M1210.5 1962.5h0M1147.9 1926.9h0M1151.8 1937.5h0M1191.5 1960.5h0M1198.2 1955.9h0M1195.1 1921.2h0M1185 1948.2h0M1197.2 1914.3h0M1200.8 1975.6h0M1179.9 1967.2h0M1173.7 1948.4h0M1163.2 1948.5h0M1197.3 1847.5h0M1207.9 1833.9h0M1185.9 1934.6h0M1173.7 1853.8h0M1137.2 1921.2h0M1191.5 1935h0M1204.1 1893.8h0M1205.4 1976.2h0M1192.7 1936.6h0M1204.4 1931.3h0M1209.5 1976.1h0M1208.1 1906.6h0M1207.3 1988.9h0M1199.8 1977.6h0M1186.4 1763h0M1153.7 1853.3h0M1145 1914.8h0M1205.3 1973h0M1212 1991.4h0M1183.8 1901.2h0M1191.1 1969.8h0M1191.4 1954.5h0M1168.2 1906.4h0M1209.9 1986.3h0M1192.5 1951.7h0M1205.1 1974h0M1204.2 1889.5h0M1207.7 1959.3h0M1176.8 1930.4h0M1200 1928.9h0M1201.6 1933.9h0M1206.8 1957.8h0M1203.7 1944.4h0M1169.1 1923.6h0M1174.5 1820.3h0M1182.8 1968.7h0M1180.3 1862.3h0M1154.4 1815.4h0M1209.9 1961.2h0M1182.5 1968.9h0M1183.5 1935.6h0M1175.5 1947.3h0M1205.7 1854.6h0M1149.9 1927.3h0M1176.3 1955.2h0M1189.2 1925.5h0M1185.1 1808.1h0M1210.2 1820.5h0M1195.6 1954.7h0M1210.1 1887.3h0M1167.8 1947.5h0M1191.7 1938.2h0M1210.2 1911.5h0M1158.9 1797.2h0M1195.3 1823.4h0M1161.4 1868.8h0M1160.1 1947.3h0M1200.5 1898.5h0M1160 1808.8h0M1153.7 1883.5h0M1200.1 1870.6h0M1211.5 1917.3h0M1203.6 1978.9h0M1201.4 1840.3h0M1210 1989.9h0M1165.6 1909h0M1177.1 1864.9h0M1209.8 1937.5h0M1200.9 1977.1h0M1191.7 1920.4h0M1169 1898.3h0M1189.3 1908.7h0M1168.9 1818.1h0M1163.7 1951h0M1206 1854.5h0M1205.8 1876.6h0M1210.1 1967.8h0M1212.5 1914.5h0M1157.6 1932.5h0M1209.2 1989.7h0M1146 1929.5h0M1172 1836.2h0M1208.6 1986h0M1183.2 1939.8h0M1209.2 1963.8h0M1149.9 1923.3h0M1202.3 1814h0M1183.2 1885.1h0M1204.9 1930.7h0M1202.6 1936.8h0M1166.4 1895h0M1202.9 1942.5h0M1200.5 1979.4h0M1208.3 1945.4h0M1164.7 1903.3h0M1171.2 1931.5h0M1185.2 1964.9h0M1152.9 1860.9h0M1183.4 1963.8h0M1203.3 1936.6h0M1165.5 1952.7h0M1190.8 1963.1h0M1212.2 1978.9h0M1212.1 1926.7h0M1205.1 1963.3h0M1209 1962.6h0M1133.2 1462.5h0M1143.8 1492.8h0M1167 1512h0M1151.5 1535h0M959.8 1558h0M1170.8 1590.8h0M1127 1608.2h0M1165.8 1659.5h0M1192.2 1667h0M1186.2 1695.8h0M1183.5 1709h0M1189.5 1715.2h0M1132.2 1718.2h0M1088 1789h0M1126.8 1828.8h0M1128.2 1919.8h0M1135 1876.2h0M1140.8 1851.5h0M1164.5 1740h0M1187.5 1737.2h0M1204.5 1737.2h0M1137.8 1752.5h0M1159 1762.8h0M1150.2 1773h0" stroke="#00ff00" stroke-width="4.3" stroke-linecap="round" fill="none"/>
<path d="M1365.4 1963.1h0M1361.5 1984.2h0M1352.5 1951.1h0M1353.2 1963.3h0M1354.7 1985.9h0M1351.9 1990.8h0M1385.5 1960.1h0M1360 1929.6h0M1364.7 1893.6h0M1401.9 1950h0M1366 1970h0M1368.8 1970h0M1364.2 1975.8h0M1384.2 1857.7h0M1378 1890.2h0M1363.4 1983.2h0M1368.2 1979.1h0M1372.2 1972.9h0M1357.3 1885.6h0M1393 1947.4h0M1365.5 1980.2h0M1353.8 1937.6h0M1352.8 1873.9h0M1354.4 1888.9h0M1361.6 1950.4h0M1371 1950.2h0M1372.6 1975.4h0M1351.4 1938.5h0M1361.5 1877.3h0M1352.5 1942.7h0M1355.3 1946h0M1371 1902.5h0M1352.9 1938h0M1373.1 1976h0M1380.1 1932.3h0M1354.4 1964.9h0M1354.7 1973.5h0M1387 1864.2h0M1356.4 1971.6h0M1365.7 1934.5h0M1353.5 1867.1h0M1372.4 1962.8h0M1377.6 1937.6h0M1368.7 1914.6h0M1356.1 1939.7h0M1373.5 1950.2h0M1354.7 1864.2h0M1354.7 1977.6h0M1366.4 1980.3h0M1352 1976.5h0M1358.1 1851.4h0M1370.3 1975.4h0M1376.6 1973h0M1353.4 1929.8h0M1369.4 1965.6h0M1375.3 1969.1h0M1355.9 1985.8h0M1358.4 1980.3h0M1357.6 1969.9h0M1353.1 1927.5h0M1357 1904h0M1392.3 1951.4h0M1354.2 1908.3h0M1373.7 1954.7h0M1353.3 1967.3h0M1381.7 1961.5h0M1375 1929.5h0M1385.5 1959.8h0M1357.6 1953.7h0M1385.7 1943.9h0M1371 1912h0M1356.4 1988.2h0M1364.4 1941.7h0M1374.3 1955.4h0M1361.7 1920.5h0M1359.3 1922.2h0M1383.3 1858.3h0M1351.8 1948.3h0M1362.1 1950.7h0M1371.2 1959.7h0M1360.5 1945.6h0M1353.1 1979.9h0M1367.8 1935.6h0M1353.6 1875.4h0M1379.7 1966h0M1355 1908h0M1355.8 1978.3h0M1374.1 1898.8h0M1370.7 1910.8h0M1358.8 1906.6h0M1388 1953.3h0M1367.2 1963.3h0M1361.4 1974.1h0M1388.5 1939.8h0M1364.2 1921.7h0M1364.5 1826.2h0M1369.9 1907.5h0M1381.4 1938.5h0M1352.8 1970.8h0M1357.2 1923.4h0M1398.4 1895.9h0M1387.2 1935.7h0M1362.5 1978.3h0M1352.6 1971.9h0M1354.3 1902.5h0M1390.5 1949.5h0M1359.4 1919.7h0M1356.5 1925h0M1373.1 1867.3h0M1374.3 1913.5h0M1377 1939.3h0M1398.8 1939.1h0M1369.6 1920.7h0M1361.9 1970.4h0M1353.4 1853.8h0M1370.1 1958.5h0M1367.8 1968.7h0M1359.8 1881.1h0M1360.9 1979.3h0M1361.6 1962.1h0M1363.5 1964.3h0M1390.7 1949.9h0M1361 1982.9h0M1384.1 1953.6h0M1351.9 1957.4h0M1358 1965.2h0M1362.8 1978.1h0M1364.4 1979.2h0M1360.8 1936.6h0M1353.7 1962.2h0M1363.7 1940.5h0M1361.4 1980.7h0M1365.7 1845.8h0M1364.3 1962.3h0M1360.6 1942.4h0M1385.6 1886.1h0M1388.8 1849.6h0M1364.8 1978.2h0M1363.9 1923.7h0M1369.3 1975.3h0M1422.5 1703h0M1398.8 1717.5h0M1419.8 1765.2h0M1444.2 1781.2h0M1474.8 1833.5h0M1357 1782.2h0M1359.5 1781.5h0M1367.2 1825.8h0M1381.8 1827h0M1400.8 1857.8h0M1403.5 1878.5h0M1411.8 1913.8h0M1413.8 1915.2h0" stroke="#ff0000" stroke-width="4.3" stroke-linecap="round" fill="none"/>
<path d="M1214.2 1440V2035M1349.7 1440V2035M939.3 2003.4H1495.5" stroke="#adadad" stroke-width="1.6" fill="none"/>
<rect x="939.3" y="1440" width="556.2" height="595" fill="none" stroke="#2a2a2a" stroke-width="1.5" stroke-linejoin="round"/>
<path d="M1010.75 2035v10.4M1146.25 2035v10.4M1281.75 2035v10.4M1417.25 2035v10.4M939.3 2013.5h-10.4M939.3 1934.2h-10.4M939.3 1854.9h-10.4M939.3 1775.6h-10.4M939.3 1696.3h-10.4M939.3 1617h-10.4M939.3 1537.7h-10.4M939.3 1458.4h-10.4" stroke="#2a2a2a" stroke-width="1.5" fill="none"/>
<text x="1010.75" y="2070.5" text-anchor="middle" font-family="'Liberation Sans', sans-serif" font-size="16.2" fill="#000" stroke="#000" stroke-width="0.3">−4</text>
<text x="1146.25" y="2070.5" text-anchor="middle" font-family="'Liberation Sans', sans-serif" font-size="16.2" fill="#000" stroke="#000" stroke-width="0.3">−2</text>
<text x="1281.75" y="2070.5" text-anchor="middle" font-family="'Liberation Sans', sans-serif" font-size="16.2" fill="#000" stroke="#000" stroke-width="0.3">0</text>
<text x="1417.25" y="2070.5" text-anchor="middle" font-family="'Liberation Sans', sans-serif" font-size="16.2" fill="#000" stroke="#000" stroke-width="0.3">2</text>
<text transform="translate(916.4 2013.5) rotate(-90)" text-anchor="middle" font-family="'Liberation Sans', sans-serif" font-size="16.2" fill="#000" stroke="#000" stroke-width="0.3">0</text>
<text transform="translate(916.4 1934.2) rotate(-90)" text-anchor="middle" font-family="'Liberation Sans', sans-serif" font-size="16.2" fill="#000" stroke="#000" stroke-width="0.3">10</text>
<text transform="translate(916.4 1854.9) rotate(-90)" text-anchor="middle" font-family="'Liberation Sans', sans-serif" font-size="16.2" fill="#000" stroke="#000" stroke-width="0.3">20</text>
<text transform="translate(916.4 1775.6) rotate(-90)" text-anchor="middle" font-family="'Liberation Sans', sans-serif" font-size="16.2" fill="#000" stroke="#000" stroke-width="0.3">30</text>
<text transform="translate(916.4 1696.3) rotate(-90)" text-anchor="middle" font-family="'Liberation Sans', sans-serif" font-size="16.2" fill="#000" stroke="#000" stroke-width="0.3">40</text>
<text transform="translate(916.4 1617) rotate(-90)" text-anchor="middle" font-family="'Liberation Sans', sans-serif" font-size="16.2" fill="#000" stroke="#000" stroke-width="0.3">50</text>
<text transform="translate(916.4 1537.7) rotate(-90)" text-anchor="middle" font-family="'Liberation Sans', sans-serif" font-size="16.2" fill="#000" stroke="#000" stroke-width="0.3">60</text>
<text transform="translate(916.4 1458.4) rotate(-90)" text-anchor="middle" font-family="'Liberation Sans', sans-serif" font-size="16.2" fill="#000" stroke="#000" stroke-width="0.3">70</text>
<text x="1217" y="2105" text-anchor="middle" font-family="'Liberation Sans', sans-serif" font-size="16.2" fill="#000" stroke="#000" stroke-width="0.3">log<tspan font-size="11.3" dy="3.6">2</tspan><tspan dy="-3.6"> fold change</tspan></text>
<text transform="translate(871.8 1739) rotate(-90)" text-anchor="middle" font-family="'Liberation Sans', sans-serif" font-size="16.2" fill="#000" stroke="#000" stroke-width="0.3">−log<tspan font-size="11.3" dy="3.6">10</tspan><tspan dy="-3.6">pvalue</tspan></text>
<rect x="952.5" y="1455.5" width="86.5" height="77.5" fill="#fff" stroke="#2a2a2a" stroke-width="1.2" stroke-linejoin="round"/>
<circle cx="964.4" cy="1480" r="3.5" fill="#808a87"/>
<text x="975.8" y="1484.3" font-family="'Liberation Sans', sans-serif" font-size="13.3" fill="#000" stroke="#000" stroke-width="0.3">Filtered</text>
<circle cx="964.4" cy="1495.4" r="3.5" fill="#ff0000"/>
<text x="975.8" y="1499.7" font-family="'Liberation Sans', sans-serif" font-size="13.3" fill="#000" stroke="#000" stroke-width="0.3">Sig.Up</text>
<circle cx="964.4" cy="1510.8" r="3.5" fill="#00ff00"/>
<text x="975.8" y="1515.1" font-family="'Liberation Sans', sans-serif" font-size="13.3" fill="#000" stroke="#000" stroke-width="0.3">Sig.Down</text>
</g>
</svg>
</body>
</html>
